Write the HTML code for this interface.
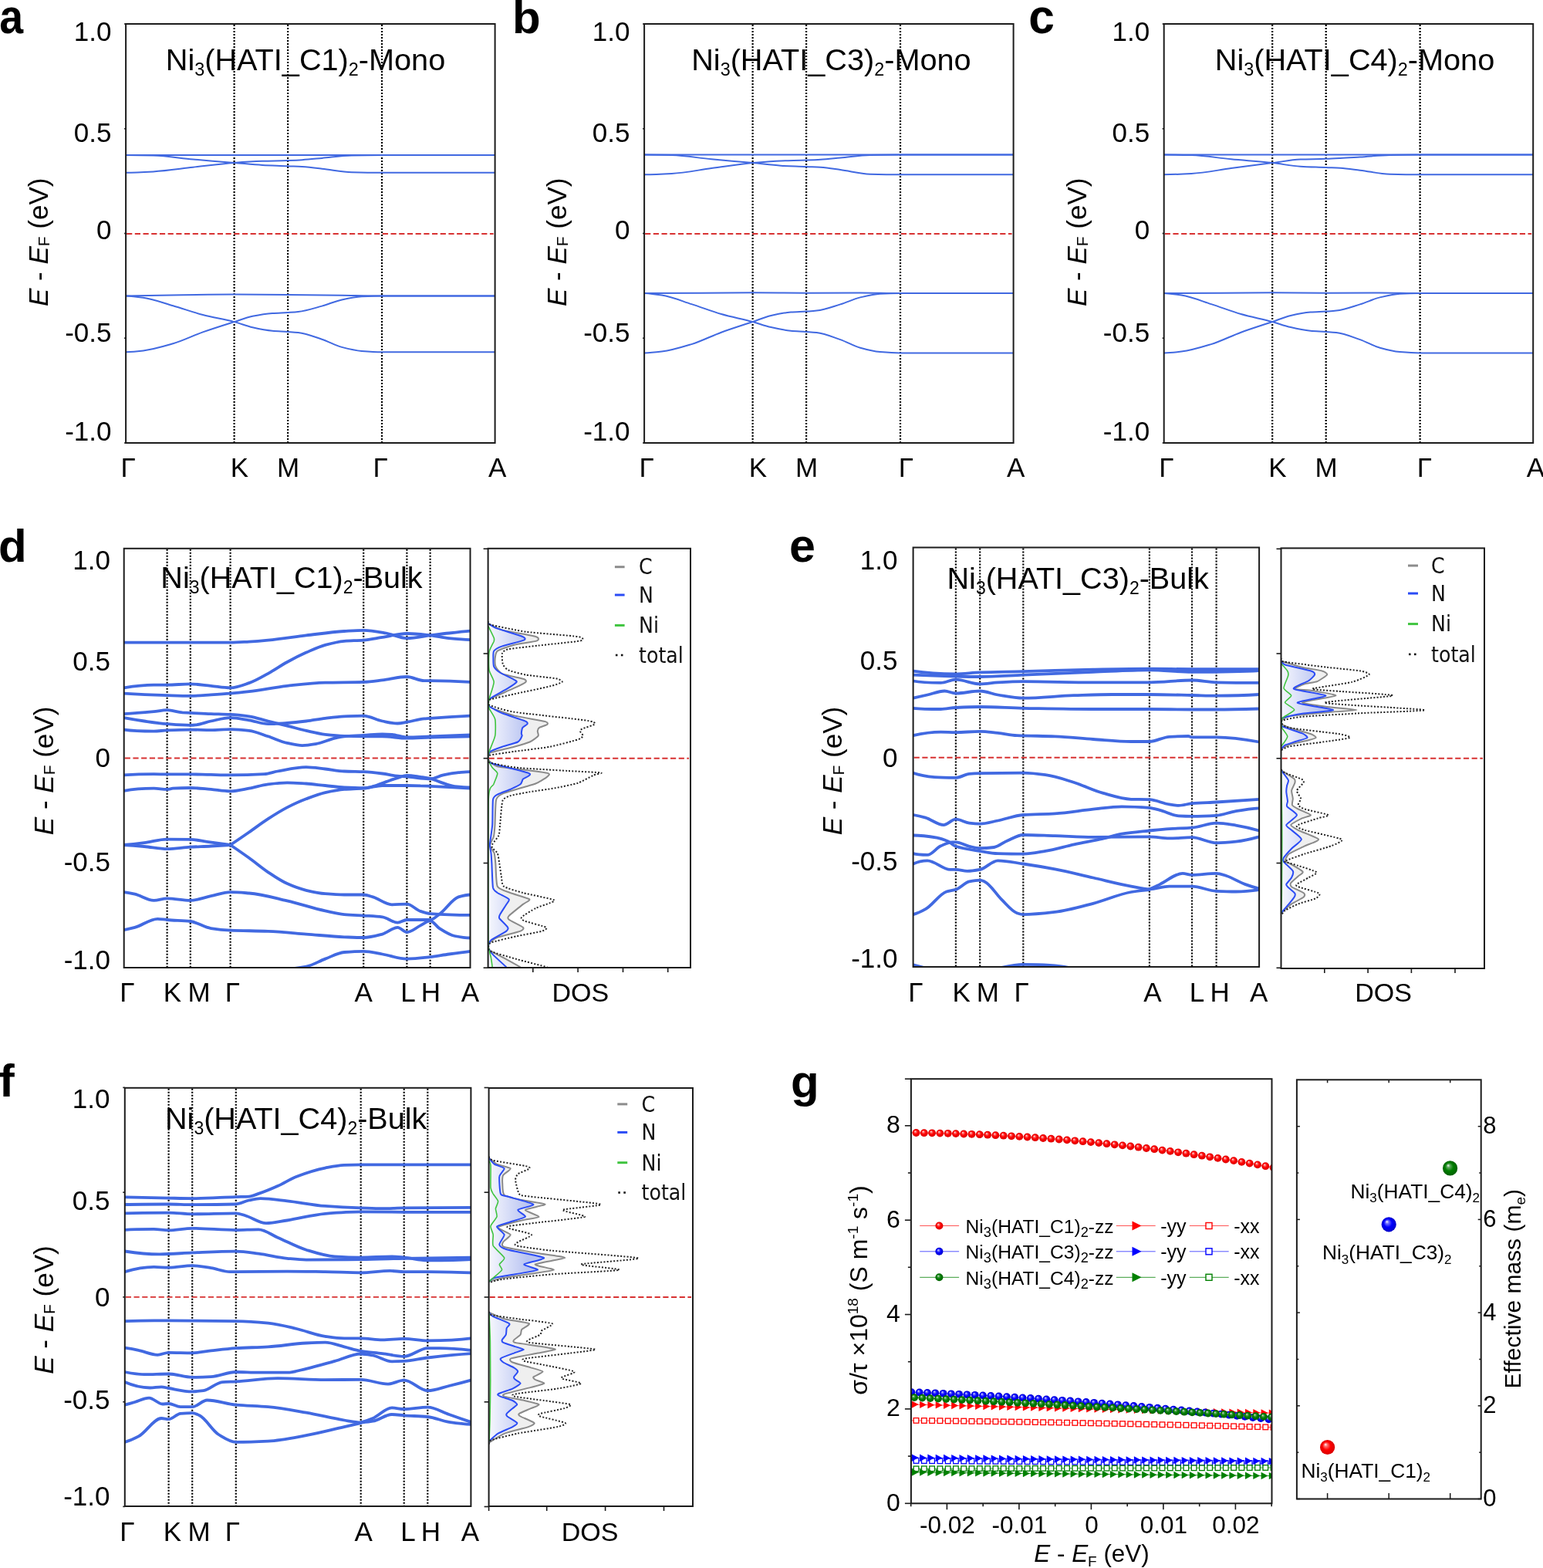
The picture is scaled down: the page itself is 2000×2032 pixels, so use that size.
<!DOCTYPE html>
<html><head><meta charset="utf-8"><style>html,body{margin:0;padding:0;background:#fff;}svg{display:block;}</style></head><body>
<svg width="2000" height="2032" viewBox="0 0 2000 2032">
<rect width="2000" height="2032" fill="#fff"/>
<defs><clipPath id="cpa"><rect x="163.1" y="31.0" width="478.5" height="543.0"/></clipPath></defs>
<line x1="303.6" y1="32.0" x2="303.6" y2="573.0" stroke="#000" stroke-width="2.2" stroke-dasharray="2,2"/>
<line x1="373.1" y1="32.0" x2="373.1" y2="573.0" stroke="#000" stroke-width="2.2" stroke-dasharray="2,2"/>
<line x1="495.0" y1="32.0" x2="495.0" y2="573.0" stroke="#000" stroke-width="2.2" stroke-dasharray="2,2"/>
<line x1="164.1" y1="303.0" x2="639.6" y2="303.0" stroke="#d83232" stroke-width="1.9" stroke-dasharray="7.2,3.5"/>
<g clip-path="url(#cpa)">
<path d="M163.1,201.1 C322.6,201.1 482.1,201.1 641.6,201.1" fill="none" stroke="#4169e1" stroke-width="2.0" stroke-linejoin="round" stroke-linecap="round"/>
<path d="M163.1,201.1 C174.9,201.1 186.8,201.3 198.6,201.6 C215.8,202.0 232.9,205.0 250.1,206.5 C267.9,208.1 285.8,209.4 303.6,210.9 C315.8,211.9 328.0,213.3 340.1,214.0 C351.1,214.6 362.1,214.8 373.1,215.3 C379.3,215.6 385.4,215.7 391.6,216.1 C400.2,216.6 408.8,217.7 417.3,218.7 C430.2,220.0 443.1,222.9 455.9,223.2 C469.0,223.5 482.0,223.7 495.0,223.7 C543.9,223.7 592.7,223.7 641.6,223.7" fill="none" stroke="#4169e1" stroke-width="2.0" stroke-linejoin="round" stroke-linecap="round"/>
<path d="M163.1,223.7 C174.9,223.6 186.8,223.0 198.6,222.4 C215.8,221.5 232.9,218.7 250.1,216.8 C267.9,214.8 285.8,212.2 303.6,210.9 C315.8,210.0 328.0,209.2 340.1,208.8 C351.1,208.4 362.1,208.4 373.1,208.0 C379.3,207.8 385.4,207.6 391.6,207.2 C400.2,206.7 408.8,205.7 417.3,204.9 C430.2,203.7 443.1,201.6 455.9,201.4 C469.0,201.2 482.0,201.1 495.0,201.1 C543.9,201.1 592.7,201.1 641.6,201.1" fill="none" stroke="#4169e1" stroke-width="2.0" stroke-linejoin="round" stroke-linecap="round"/>
<path d="M163.1,383.4 C187.8,382.9 212.5,382.5 237.2,382.2 C259.3,381.9 281.5,381.6 303.6,381.6 C326.8,381.6 349.9,381.9 373.1,382.1 C396.4,382.3 419.7,382.5 443.1,382.8 C460.4,383.0 477.7,383.4 495.0,383.4 C543.9,383.4 592.7,383.4 641.6,383.4" fill="none" stroke="#4169e1" stroke-width="2.0" stroke-linejoin="round" stroke-linecap="round"/>
<path d="M163.1,383.4 C170.6,383.7 178.2,384.7 185.7,385.8 C198.6,387.6 211.5,392.5 224.3,396.2 C237.2,399.9 250.1,404.7 262.9,408.0 C276.5,411.5 290.0,413.6 303.6,417.1 C311.5,419.1 319.4,422.4 327.3,424.2 C335.8,426.1 344.4,427.9 353.0,428.7 C359.7,429.3 366.4,429.5 373.1,430.0 C377.6,430.3 382.0,430.5 386.5,431.0 C396.7,432.1 407.0,436.3 417.3,439.7 C425.9,442.5 434.5,447.7 443.1,449.9 C451.6,452.1 460.2,454.2 468.8,454.9 C477.5,455.6 486.3,456.2 495.0,456.2 C543.9,456.2 592.7,456.2 641.6,456.2" fill="none" stroke="#4169e1" stroke-width="2.0" stroke-linejoin="round" stroke-linecap="round"/>
<path d="M163.1,456.2 C170.6,456.0 178.2,455.3 185.7,454.4 C198.6,452.9 211.5,449.0 224.3,445.3 C237.2,441.5 250.1,434.9 262.9,430.4 C276.5,425.6 290.0,421.4 303.6,417.1 C311.5,414.6 319.4,411.4 327.3,409.8 C335.8,408.1 344.4,406.6 353.0,406.0 C359.7,405.5 366.4,405.4 373.1,405.0 C377.6,404.7 382.0,404.5 386.5,404.0 C396.7,402.9 407.0,399.4 417.3,396.6 C425.9,394.2 434.5,390.2 443.1,388.4 C451.6,386.5 460.2,384.6 468.8,384.2 C477.5,383.8 486.3,383.4 495.0,383.4 C543.9,383.4 592.7,383.4 641.6,383.4" fill="none" stroke="#4169e1" stroke-width="2.0" stroke-linejoin="round" stroke-linecap="round"/>
</g>
<rect x="163.1" y="31.0" width="478.5" height="543.0" fill="none" stroke="#1c1c1c" stroke-width="2.0"/>
<line x1="161.1" y1="31.0" x2="163.1" y2="31.0" stroke="#1a1a1a" stroke-width="1.6"/>
<line x1="161.1" y1="166.8" x2="163.1" y2="166.8" stroke="#1a1a1a" stroke-width="1.6"/>
<line x1="161.1" y1="302.5" x2="163.1" y2="302.5" stroke="#1a1a1a" stroke-width="1.6"/>
<line x1="161.1" y1="438.2" x2="163.1" y2="438.2" stroke="#1a1a1a" stroke-width="1.6"/>
<line x1="161.1" y1="574.0" x2="163.1" y2="574.0" stroke="#1a1a1a" stroke-width="1.6"/>
<text x="144.5" y="53.0" font-size="35.0" text-anchor="end" font-family="'Liberation Sans', Arial, sans-serif" >1.0</text>
<text x="144.5" y="184.0" font-size="35.0" text-anchor="end" font-family="'Liberation Sans', Arial, sans-serif" >0.5</text>
<text x="144.5" y="309.5" font-size="35.0" text-anchor="end" font-family="'Liberation Sans', Arial, sans-serif" >0</text>
<text x="144.5" y="443.2" font-size="35.0" text-anchor="end" font-family="'Liberation Sans', Arial, sans-serif" >-0.5</text>
<text x="144.5" y="571.3" font-size="35.0" text-anchor="end" font-family="'Liberation Sans', Arial, sans-serif" >-1.0</text>
<text x="166.2" y="618.4" font-size="35.0" text-anchor="middle" font-family="'Liberation Sans', Arial, sans-serif" >&#915;</text>
<text x="310.4" y="618.4" font-size="35.0" text-anchor="middle" font-family="'Liberation Sans', Arial, sans-serif" >K</text>
<text x="373.6" y="618.4" font-size="35.0" text-anchor="middle" font-family="'Liberation Sans', Arial, sans-serif" >M</text>
<text x="493.2" y="618.4" font-size="35.0" text-anchor="middle" font-family="'Liberation Sans', Arial, sans-serif" >&#915;</text>
<text x="644.8" y="618.4" font-size="35.0" text-anchor="middle" font-family="'Liberation Sans', Arial, sans-serif" >A</text>
<text x="214.8" y="91" font-size="39.67" font-family="'Liberation Sans', Arial, sans-serif">Ni<tspan font-size="23.4" dy="7.1">3</tspan><tspan dy="-7.1">(HATI_C1)</tspan><tspan font-size="23.4" dy="7.1">2</tspan><tspan dy="-7.1">-Mono</tspan></text>
<text transform="translate(62.0,313.8) rotate(-90)" x="0" y="0" font-size="35.0" text-anchor="middle" font-family="'Liberation Sans', Arial, sans-serif"><tspan font-style="italic">E</tspan> - <tspan font-style="italic">E</tspan><tspan font-size="21.0" dy="2.3">F</tspan><tspan dy="-2.3"> (eV)</tspan></text>
<defs><clipPath id="cpb"><rect x="835.1" y="31.0" width="478.5" height="543.0"/></clipPath></defs>
<line x1="975.6" y1="32.0" x2="975.6" y2="573.0" stroke="#000" stroke-width="2.2" stroke-dasharray="2,2"/>
<line x1="1045.1" y1="32.0" x2="1045.1" y2="573.0" stroke="#000" stroke-width="2.2" stroke-dasharray="2,2"/>
<line x1="1167.0" y1="32.0" x2="1167.0" y2="573.0" stroke="#000" stroke-width="2.2" stroke-dasharray="2,2"/>
<line x1="836.1" y1="303.0" x2="1311.6" y2="303.0" stroke="#d83232" stroke-width="1.9" stroke-dasharray="7.2,3.5"/>
<g clip-path="url(#cpb)">
<path d="M835.1,200.6 C994.6,200.6 1154.1,200.6 1313.6,200.6" fill="none" stroke="#4169e1" stroke-width="2.0" stroke-linejoin="round" stroke-linecap="round"/>
<path d="M835.1,200.6 C846.9,200.6 858.8,200.8 870.6,201.1 C887.8,201.5 904.9,204.7 922.1,206.3 C939.9,208.0 957.8,209.4 975.6,211.1 C987.8,212.2 1000.0,214.0 1012.1,214.7 C1023.1,215.3 1034.1,215.5 1045.1,216.0 C1051.3,216.3 1057.4,216.4 1063.6,216.8 C1072.2,217.3 1080.8,218.9 1089.3,220.1 C1102.2,221.8 1115.1,225.4 1127.9,225.7 C1141.0,226.0 1154.0,226.2 1167.0,226.2 C1215.9,226.2 1264.7,226.2 1313.6,226.2" fill="none" stroke="#4169e1" stroke-width="2.0" stroke-linejoin="round" stroke-linecap="round"/>
<path d="M835.1,226.2 C846.9,226.2 858.8,225.6 870.6,224.9 C887.8,224.0 904.9,220.4 922.1,218.1 C939.9,215.8 957.8,212.8 975.6,211.1 C987.8,210.0 1000.0,208.8 1012.1,208.4 C1023.1,208.0 1034.1,208.0 1045.1,207.6 C1051.3,207.4 1057.4,207.2 1063.6,206.8 C1072.2,206.3 1080.8,205.2 1089.3,204.4 C1102.2,203.3 1115.1,201.1 1127.9,200.9 C1141.0,200.7 1154.0,200.6 1167.0,200.6 C1215.9,200.6 1264.7,200.6 1313.6,200.6" fill="none" stroke="#4169e1" stroke-width="2.0" stroke-linejoin="round" stroke-linecap="round"/>
<path d="M835.1,380.0 C859.8,380.0 884.5,379.9 909.2,379.8 C931.3,379.7 953.5,379.2 975.6,379.2 C998.8,379.2 1021.9,379.7 1045.1,379.7 C1068.4,379.7 1091.7,379.4 1115.1,379.4 C1132.4,379.4 1149.7,380.0 1167.0,380.0 C1215.9,380.0 1264.7,380.0 1313.6,380.0" fill="none" stroke="#4169e1" stroke-width="2.0" stroke-linejoin="round" stroke-linecap="round"/>
<path d="M835.1,380.0 C842.6,380.4 850.2,381.4 857.7,382.6 C870.6,384.6 883.5,390.0 896.3,394.1 C909.2,398.1 922.1,403.4 934.9,407.0 C948.5,410.9 962.0,413.3 975.6,417.0 C983.5,419.2 991.4,422.4 999.3,424.1 C1007.8,426.1 1016.4,427.9 1025.0,428.7 C1031.7,429.3 1038.4,429.5 1045.1,430.0 C1049.6,430.3 1054.0,430.5 1058.5,431.0 C1068.7,432.1 1079.0,436.6 1089.3,440.1 C1097.9,443.1 1106.5,448.5 1115.1,450.8 C1123.6,453.2 1132.2,455.4 1140.8,456.1 C1149.5,456.8 1158.3,457.4 1167.0,457.4 C1215.9,457.4 1264.7,457.4 1313.6,457.4" fill="none" stroke="#4169e1" stroke-width="2.0" stroke-linejoin="round" stroke-linecap="round"/>
<path d="M835.1,457.4 C842.6,457.3 850.2,456.5 857.7,455.6 C870.6,454.1 883.5,450.0 896.3,446.1 C909.2,442.2 922.1,435.4 934.9,430.7 C948.5,425.8 962.0,421.6 975.6,417.0 C983.5,414.3 991.4,410.8 999.3,409.0 C1007.8,407.0 1016.4,405.2 1025.0,404.6 C1031.7,404.1 1038.4,404.0 1045.1,403.6 C1049.6,403.3 1054.0,403.1 1058.5,402.6 C1068.7,401.5 1079.0,397.5 1089.3,394.4 C1097.9,391.8 1106.5,387.5 1115.1,385.4 C1123.6,383.4 1132.2,381.2 1140.8,380.8 C1149.5,380.3 1158.3,380.0 1167.0,380.0 C1215.9,380.0 1264.7,380.0 1313.6,380.0" fill="none" stroke="#4169e1" stroke-width="2.0" stroke-linejoin="round" stroke-linecap="round"/>
</g>
<rect x="835.1" y="31.0" width="478.5" height="543.0" fill="none" stroke="#1c1c1c" stroke-width="2.0"/>
<line x1="833.1" y1="31.0" x2="835.1" y2="31.0" stroke="#1a1a1a" stroke-width="1.6"/>
<line x1="833.1" y1="166.8" x2="835.1" y2="166.8" stroke="#1a1a1a" stroke-width="1.6"/>
<line x1="833.1" y1="302.5" x2="835.1" y2="302.5" stroke="#1a1a1a" stroke-width="1.6"/>
<line x1="833.1" y1="438.2" x2="835.1" y2="438.2" stroke="#1a1a1a" stroke-width="1.6"/>
<line x1="833.1" y1="574.0" x2="835.1" y2="574.0" stroke="#1a1a1a" stroke-width="1.6"/>
<text x="816.5" y="53.0" font-size="35.0" text-anchor="end" font-family="'Liberation Sans', Arial, sans-serif" >1.0</text>
<text x="816.5" y="184.0" font-size="35.0" text-anchor="end" font-family="'Liberation Sans', Arial, sans-serif" >0.5</text>
<text x="816.5" y="309.5" font-size="35.0" text-anchor="end" font-family="'Liberation Sans', Arial, sans-serif" >0</text>
<text x="816.5" y="443.2" font-size="35.0" text-anchor="end" font-family="'Liberation Sans', Arial, sans-serif" >-0.5</text>
<text x="816.5" y="571.3" font-size="35.0" text-anchor="end" font-family="'Liberation Sans', Arial, sans-serif" >-1.0</text>
<text x="838.2" y="618.4" font-size="35.0" text-anchor="middle" font-family="'Liberation Sans', Arial, sans-serif" >&#915;</text>
<text x="982.4" y="618.4" font-size="35.0" text-anchor="middle" font-family="'Liberation Sans', Arial, sans-serif" >K</text>
<text x="1045.6" y="618.4" font-size="35.0" text-anchor="middle" font-family="'Liberation Sans', Arial, sans-serif" >M</text>
<text x="1174.4" y="618.4" font-size="35.0" text-anchor="middle" font-family="'Liberation Sans', Arial, sans-serif" >&#915;</text>
<text x="1316.8" y="618.4" font-size="35.0" text-anchor="middle" font-family="'Liberation Sans', Arial, sans-serif" >A</text>
<text x="896.2" y="91" font-size="39.67" font-family="'Liberation Sans', Arial, sans-serif">Ni<tspan font-size="23.4" dy="7.1">3</tspan><tspan dy="-7.1">(HATI_C3)</tspan><tspan font-size="23.4" dy="7.1">2</tspan><tspan dy="-7.1">-Mono</tspan></text>
<text transform="translate(734.0,313.8) rotate(-90)" x="0" y="0" font-size="35.0" text-anchor="middle" font-family="'Liberation Sans', Arial, sans-serif"><tspan font-style="italic">E</tspan> - <tspan font-style="italic">E</tspan><tspan font-size="21.0" dy="2.3">F</tspan><tspan dy="-2.3"> (eV)</tspan></text>
<defs><clipPath id="cpc"><rect x="1508.7" y="31.0" width="478.5" height="543.0"/></clipPath></defs>
<line x1="1649.2" y1="32.0" x2="1649.2" y2="573.0" stroke="#000" stroke-width="2.2" stroke-dasharray="2,2"/>
<line x1="1718.7" y1="32.0" x2="1718.7" y2="573.0" stroke="#000" stroke-width="2.2" stroke-dasharray="2,2"/>
<line x1="1840.6" y1="32.0" x2="1840.6" y2="573.0" stroke="#000" stroke-width="2.2" stroke-dasharray="2,2"/>
<line x1="1509.7" y1="303.0" x2="1985.2" y2="303.0" stroke="#d83232" stroke-width="1.9" stroke-dasharray="7.2,3.5"/>
<g clip-path="url(#cpc)">
<path d="M1508.7,200.6 C1668.2,200.6 1827.7,200.6 1987.2,200.6" fill="none" stroke="#4169e1" stroke-width="2.0" stroke-linejoin="round" stroke-linecap="round"/>
<path d="M1508.7,200.6 C1520.5,200.6 1532.4,200.8 1544.2,201.1 C1561.4,201.5 1578.5,204.7 1595.7,206.3 C1613.5,208.0 1631.4,209.2 1649.2,211.1 C1661.4,212.4 1673.6,215.0 1685.7,215.7 C1696.7,216.4 1707.7,216.5 1718.7,217.0 C1724.9,217.3 1731.0,217.4 1737.2,217.8 C1745.8,218.3 1754.4,219.7 1762.9,220.7 C1775.8,222.2 1788.7,225.4 1801.5,225.7 C1814.6,226.0 1827.6,226.2 1840.6,226.2 C1889.5,226.2 1938.3,226.2 1987.2,226.2" fill="none" stroke="#4169e1" stroke-width="2.0" stroke-linejoin="round" stroke-linecap="round"/>
<path d="M1508.7,226.2 C1520.5,226.2 1532.4,225.6 1544.2,224.9 C1561.4,224.0 1578.5,220.4 1595.7,218.1 C1613.5,215.8 1631.4,213.4 1649.2,211.1 C1661.4,209.6 1673.6,207.1 1685.7,206.6 C1696.7,206.2 1707.7,206.2 1718.7,205.8 C1724.9,205.6 1731.0,205.3 1737.2,205.0 C1745.8,204.6 1754.4,204.0 1762.9,203.5 C1775.8,202.7 1788.7,201.1 1801.5,200.9 C1814.6,200.7 1827.6,200.6 1840.6,200.6 C1889.5,200.6 1938.3,200.6 1987.2,200.6" fill="none" stroke="#4169e1" stroke-width="2.0" stroke-linejoin="round" stroke-linecap="round"/>
<path d="M1508.7,380.0 C1533.4,380.0 1558.1,379.9 1582.8,379.8 C1604.9,379.7 1627.1,379.2 1649.2,379.2 C1672.4,379.2 1695.5,379.7 1718.7,379.7 C1742.0,379.7 1765.3,379.4 1788.7,379.4 C1806.0,379.4 1823.3,380.0 1840.6,380.0 C1889.5,380.0 1938.3,380.0 1987.2,380.0" fill="none" stroke="#4169e1" stroke-width="2.0" stroke-linejoin="round" stroke-linecap="round"/>
<path d="M1508.7,380.0 C1516.2,380.4 1523.8,381.4 1531.3,382.6 C1544.2,384.6 1557.1,390.0 1569.9,394.1 C1582.8,398.1 1595.7,403.4 1608.5,407.0 C1622.1,410.9 1635.6,413.3 1649.2,417.0 C1657.1,419.2 1665.0,422.4 1672.9,424.1 C1681.4,426.1 1690.0,427.9 1698.6,428.7 C1705.3,429.3 1712.0,429.5 1718.7,430.0 C1723.2,430.3 1727.6,430.5 1732.1,431.0 C1742.3,432.1 1752.6,436.6 1762.9,440.1 C1771.5,443.1 1780.1,448.5 1788.7,450.8 C1797.2,453.2 1805.8,455.4 1814.4,456.1 C1823.1,456.8 1831.9,457.4 1840.6,457.4 C1889.5,457.4 1938.3,457.4 1987.2,457.4" fill="none" stroke="#4169e1" stroke-width="2.0" stroke-linejoin="round" stroke-linecap="round"/>
<path d="M1508.7,457.4 C1516.2,457.3 1523.8,456.5 1531.3,455.6 C1544.2,454.1 1557.1,450.0 1569.9,446.1 C1582.8,442.2 1595.7,435.4 1608.5,430.7 C1622.1,425.8 1635.6,421.6 1649.2,417.0 C1657.1,414.3 1665.0,410.8 1672.9,409.0 C1681.4,407.0 1690.0,405.2 1698.6,404.6 C1705.3,404.1 1712.0,404.0 1718.7,403.6 C1723.2,403.3 1727.6,403.1 1732.1,402.6 C1742.3,401.5 1752.6,397.5 1762.9,394.4 C1771.5,391.8 1780.1,387.5 1788.7,385.4 C1797.2,383.4 1805.8,381.2 1814.4,380.8 C1823.1,380.3 1831.9,380.0 1840.6,380.0 C1889.5,380.0 1938.3,380.0 1987.2,380.0" fill="none" stroke="#4169e1" stroke-width="2.0" stroke-linejoin="round" stroke-linecap="round"/>
</g>
<rect x="1508.7" y="31.0" width="478.5" height="543.0" fill="none" stroke="#1c1c1c" stroke-width="2.0"/>
<line x1="1506.7" y1="31.0" x2="1508.7" y2="31.0" stroke="#1a1a1a" stroke-width="1.6"/>
<line x1="1506.7" y1="166.8" x2="1508.7" y2="166.8" stroke="#1a1a1a" stroke-width="1.6"/>
<line x1="1506.7" y1="302.5" x2="1508.7" y2="302.5" stroke="#1a1a1a" stroke-width="1.6"/>
<line x1="1506.7" y1="438.2" x2="1508.7" y2="438.2" stroke="#1a1a1a" stroke-width="1.6"/>
<line x1="1506.7" y1="574.0" x2="1508.7" y2="574.0" stroke="#1a1a1a" stroke-width="1.6"/>
<text x="1490.1" y="53.0" font-size="35.0" text-anchor="end" font-family="'Liberation Sans', Arial, sans-serif" >1.0</text>
<text x="1490.1" y="184.0" font-size="35.0" text-anchor="end" font-family="'Liberation Sans', Arial, sans-serif" >0.5</text>
<text x="1490.1" y="309.5" font-size="35.0" text-anchor="end" font-family="'Liberation Sans', Arial, sans-serif" >0</text>
<text x="1490.1" y="443.2" font-size="35.0" text-anchor="end" font-family="'Liberation Sans', Arial, sans-serif" >-0.5</text>
<text x="1490.1" y="571.3" font-size="35.0" text-anchor="end" font-family="'Liberation Sans', Arial, sans-serif" >-1.0</text>
<text x="1511.8" y="618.4" font-size="35.0" text-anchor="middle" font-family="'Liberation Sans', Arial, sans-serif" >&#915;</text>
<text x="1656.0" y="618.4" font-size="35.0" text-anchor="middle" font-family="'Liberation Sans', Arial, sans-serif" >K</text>
<text x="1719.2" y="618.4" font-size="35.0" text-anchor="middle" font-family="'Liberation Sans', Arial, sans-serif" >M</text>
<text x="1846.5" y="618.4" font-size="35.0" text-anchor="middle" font-family="'Liberation Sans', Arial, sans-serif" >&#915;</text>
<text x="1990.4" y="618.4" font-size="35.0" text-anchor="middle" font-family="'Liberation Sans', Arial, sans-serif" >A</text>
<text x="1574.8" y="91" font-size="39.67" font-family="'Liberation Sans', Arial, sans-serif">Ni<tspan font-size="23.4" dy="7.1">3</tspan><tspan dy="-7.1">(HATI_C4)</tspan><tspan font-size="23.4" dy="7.1">2</tspan><tspan dy="-7.1">-Mono</tspan></text>
<text transform="translate(1407.6,313.8) rotate(-90)" x="0" y="0" font-size="35.0" text-anchor="middle" font-family="'Liberation Sans', Arial, sans-serif"><tspan font-style="italic">E</tspan> - <tspan font-style="italic">E</tspan><tspan font-size="21.0" dy="2.3">F</tspan><tspan dy="-2.3"> (eV)</tspan></text>
<defs><clipPath id="cpd"><rect x="160.7" y="710.8" width="448.8" height="543.2"/></clipPath></defs>
<line x1="216.6" y1="711.8" x2="216.6" y2="1253.0" stroke="#000" stroke-width="2.2" stroke-dasharray="2,2"/>
<line x1="246.8" y1="711.8" x2="246.8" y2="1253.0" stroke="#000" stroke-width="2.2" stroke-dasharray="2,2"/>
<line x1="298.6" y1="711.8" x2="298.6" y2="1253.0" stroke="#000" stroke-width="2.2" stroke-dasharray="2,2"/>
<line x1="471.2" y1="711.8" x2="471.2" y2="1253.0" stroke="#000" stroke-width="2.2" stroke-dasharray="2,2"/>
<line x1="527.4" y1="711.8" x2="527.4" y2="1253.0" stroke="#000" stroke-width="2.2" stroke-dasharray="2,2"/>
<line x1="557.6" y1="711.8" x2="557.6" y2="1253.0" stroke="#000" stroke-width="2.2" stroke-dasharray="2,2"/>
<line x1="161.7" y1="982.5" x2="607.5" y2="982.5" stroke="#d83232" stroke-width="1.9" stroke-dasharray="7.2,3.5"/>
<g clip-path="url(#cpd)">
<path d="M160.6,832.6 C181.8,832.6 202.9,832.6 224.1,832.6 C248.9,832.6 273.8,832.6 298.6,832.6 C306.7,832.6 314.7,832.0 322.8,831.6 C331.0,831.1 339.3,830.4 347.5,829.6 C363.9,828.0 380.4,825.4 396.9,823.4 C413.3,821.5 429.8,819.1 446.2,818.0 C454.5,817.5 462.8,816.8 471.2,816.8 C480.9,816.8 490.7,818.8 500.5,820.5 C509.5,822.0 518.5,827.1 527.4,827.1 C537.5,827.1 547.5,824.7 557.6,823.4 C565.7,822.4 573.8,821.3 582.0,820.5 C591.2,819.5 600.4,818.5 609.6,817.7" fill="none" stroke="#4169e1" stroke-width="3.8" stroke-linejoin="round" stroke-linecap="round"/>
<path d="M160.6,891.3 C173.5,889.2 186.5,887.6 199.4,887.6 C205.1,887.6 210.9,887.6 216.7,887.6 C226.7,887.6 236.7,886.4 246.8,886.4 C255.7,886.4 264.5,888.0 273.4,888.8 C281.8,889.6 290.2,891.3 298.6,891.3 C306.7,891.3 314.7,887.9 322.8,885.1 C331.0,882.4 339.3,877.3 347.5,872.8 C355.7,868.3 363.9,862.5 372.2,858.0 C380.4,853.5 388.6,849.3 396.9,845.6 C405.1,842.0 413.3,838.0 421.5,835.8 C429.8,833.6 438.0,831.5 446.2,830.8 C454.5,830.2 462.8,830.2 471.2,829.6 C479.3,829.0 487.4,827.1 495.6,825.9 C506.2,824.3 516.8,821.0 527.4,821.0 C537.5,821.0 547.5,822.3 557.6,823.4 C565.7,824.3 573.8,826.3 582.0,827.1 C591.2,828.0 600.4,828.8 609.6,829.1" fill="none" stroke="#4169e1" stroke-width="3.8" stroke-linejoin="round" stroke-linecap="round"/>
<path d="M160.6,898.7 C179.3,899.8 198.0,900.6 216.7,901.2 C226.7,901.5 236.7,901.9 246.8,901.9 C255.7,901.9 264.5,901.0 273.4,900.4 C281.8,899.9 290.2,899.4 298.6,898.7 C306.7,898.1 314.7,897.2 322.8,896.2 C339.3,894.3 355.7,890.6 372.2,888.8 C388.6,887.1 405.1,885.1 421.5,884.6 C438.1,884.2 454.6,884.4 471.2,883.9 C479.3,883.7 487.4,882.4 495.6,881.4 C506.2,880.2 516.8,877.0 527.4,877.0 C534.9,877.0 542.4,882.2 549.9,882.2 C552.5,882.2 555.0,882.2 557.6,882.2 C574.9,882.2 592.3,882.8 609.6,883.9" fill="none" stroke="#4169e1" stroke-width="3.8" stroke-linejoin="round" stroke-linecap="round"/>
<path d="M160.6,925.1 C173.5,924.5 186.5,923.4 199.4,922.2 C205.1,921.6 210.9,920.2 216.7,920.2 C223.2,920.2 229.8,922.9 236.4,923.4 C239.9,923.6 243.3,923.7 246.8,923.9 C255.7,924.3 264.5,924.8 273.4,925.1 C281.8,925.4 290.2,925.5 298.6,925.9 C306.7,926.2 314.7,927.2 322.8,928.3 C331.0,929.5 339.3,932.5 347.5,934.5 C355.7,936.6 363.9,938.6 372.2,940.7 C380.4,942.7 388.6,945.0 396.9,946.9 C405.1,948.7 413.3,950.8 421.5,951.8 C429.8,952.7 438.0,953.5 446.2,953.8 C454.5,954.0 462.8,954.3 471.2,954.3 C479.3,954.3 487.4,954.3 495.6,954.3 C506.2,954.3 516.8,956.7 527.4,956.7 C537.5,956.7 547.5,955.8 557.6,955.5 C574.9,955.0 592.3,954.5 609.6,954.3" fill="none" stroke="#4169e1" stroke-width="3.8" stroke-linejoin="round" stroke-linecap="round"/>
<path d="M160.6,930.1 C169.4,931.7 178.2,933.2 187.0,934.5 C196.9,935.9 206.8,937.4 216.7,938.2 C226.7,939.0 236.7,939.9 246.8,939.9 C249.1,939.9 251.4,939.7 253.7,939.4 C260.3,938.8 266.8,935.9 273.4,934.5 C281.8,932.8 290.2,930.1 298.6,930.1 C306.7,930.1 314.7,932.0 322.8,933.3 C331.0,934.6 339.3,938.2 347.5,938.2 C355.7,938.2 363.9,937.5 372.2,937.0 C380.4,936.4 388.6,935.5 396.9,934.5 C405.1,933.5 413.3,931.8 421.5,930.8 C429.8,929.8 438.0,928.7 446.2,928.3 C454.5,928.0 462.8,927.6 471.2,927.6 C479.3,927.6 487.4,932.9 495.6,934.5 C502.2,935.8 508.8,937.5 515.3,937.5 C519.4,937.5 523.4,936.4 527.4,935.7 C534.9,934.5 542.4,932.0 549.9,931.3 C552.5,931.1 555.0,931.0 557.6,930.8 C574.9,929.7 592.3,928.6 609.6,927.6" fill="none" stroke="#4169e1" stroke-width="3.8" stroke-linejoin="round" stroke-linecap="round"/>
<path d="M160.6,945.6 C173.5,947.4 186.5,947.6 199.4,947.6 C205.1,947.6 210.9,946.6 216.7,946.4 C226.7,946.0 236.7,945.6 246.8,945.6 C255.7,945.6 264.5,946.1 273.4,946.1 C281.8,946.1 290.2,945.1 298.6,945.1 C306.7,945.1 314.7,945.9 322.8,946.9 C331.0,947.8 339.3,951.6 347.5,954.3 C355.7,956.9 363.9,961.1 372.2,962.9 C378.8,964.3 385.3,966.1 391.9,966.1 C397.7,966.1 403.4,965.1 409.2,964.1 C417.4,962.8 425.7,958.7 433.9,956.7 C438.0,955.8 442.1,954.6 446.2,954.3 C454.5,953.6 462.8,953.5 471.2,953.0 C479.3,952.5 487.4,951.3 495.6,951.3 C499.7,951.3 503.8,951.5 507.9,951.8 C514.4,952.2 520.9,955.5 527.4,955.5 C537.5,955.5 547.5,954.7 557.6,954.3 C574.9,953.6 592.3,952.9 609.6,952.3" fill="none" stroke="#4169e1" stroke-width="3.8" stroke-linejoin="round" stroke-linecap="round"/>
<path d="M160.6,1004.4 C173.5,1003.6 186.5,1003.2 199.4,1003.2 C205.1,1003.2 210.9,1003.4 216.7,1003.4 C226.7,1003.4 236.7,1003.4 246.8,1003.4 C255.7,1003.4 264.5,1003.8 273.4,1003.9 C281.8,1004.1 290.2,1004.4 298.6,1004.4 C313.3,1004.4 327.9,1004.0 342.5,1003.2 C348.3,1002.9 354.1,1000.5 359.8,999.5 C372.2,997.3 384.5,994.1 396.9,994.1 C405.1,994.1 413.3,995.6 421.5,996.5 C429.8,997.4 438.0,999.1 446.2,999.5 C454.5,999.9 462.8,999.9 471.2,1000.2 C479.3,1000.6 487.4,1001.5 495.6,1002.5 C502.2,1003.2 508.8,1005.1 515.3,1005.7 C519.4,1006.0 523.4,1006.1 527.4,1006.4 C533.3,1006.9 539.1,1008.2 545.0,1008.6 C549.2,1009.0 553.4,1009.4 557.6,1009.4 C563.2,1009.4 568.9,1005.6 574.6,1004.4 C581.2,1003.1 587.8,1001.8 594.3,1001.2 C599.4,1000.8 604.5,1000.3 609.6,1000.2" fill="none" stroke="#4169e1" stroke-width="3.8" stroke-linejoin="round" stroke-linecap="round"/>
<path d="M160.6,1024.9 C173.5,1022.5 186.5,1021.7 199.4,1021.7 C205.1,1021.7 210.9,1022.9 216.7,1022.9 C219.1,1022.9 221.6,1021.9 224.1,1021.7 C231.6,1021.2 239.2,1021.0 246.8,1021.0 C255.7,1021.0 264.5,1022.2 273.4,1022.9 C281.8,1023.7 290.2,1025.4 298.6,1025.4 C306.7,1025.4 314.7,1023.2 322.8,1021.7 C331.0,1020.2 339.3,1017.2 347.5,1016.3 C355.7,1015.3 363.9,1014.3 372.2,1014.3 C380.4,1014.3 388.6,1015.0 396.9,1015.5 C405.1,1016.1 413.3,1017.2 421.5,1018.0 C429.8,1018.8 438.0,1020.1 446.2,1020.5 C454.5,1020.9 462.8,1021.2 471.2,1021.2 C479.3,1021.2 487.4,1018.0 495.6,1018.0 C506.2,1018.0 516.8,1018.0 527.4,1018.0 C533.3,1018.0 539.1,1018.1 545.0,1018.3 C549.2,1018.3 553.4,1018.6 557.6,1018.8 C574.9,1019.5 592.3,1020.5 609.6,1021.7" fill="none" stroke="#4169e1" stroke-width="3.8" stroke-linejoin="round" stroke-linecap="round"/>
<path d="M298.6,1095.0 C306.7,1089.6 314.7,1084.1 322.8,1078.5 C331.0,1072.8 339.3,1066.5 347.5,1061.2 C355.7,1055.9 363.9,1050.6 372.2,1046.4 C380.4,1042.2 388.6,1038.4 396.9,1035.3 C405.1,1032.2 413.3,1029.0 421.5,1027.1 C429.8,1025.3 438.0,1023.6 446.2,1022.9 C454.5,1022.3 462.8,1022.4 471.2,1021.7 C475.2,1021.4 479.2,1020.3 483.3,1019.2 C489.0,1017.8 494.8,1015.1 500.5,1013.1 C505.5,1011.4 510.4,1009.6 515.3,1008.1 C519.4,1006.9 523.4,1004.9 527.4,1004.9 C533.3,1004.9 539.1,1006.1 545.0,1006.9 C549.2,1007.5 553.4,1008.0 557.6,1008.9 C561.6,1009.8 565.6,1011.7 569.6,1013.1 C576.2,1015.2 582.8,1018.6 589.4,1019.2 C596.1,1019.9 602.9,1020.5 609.6,1020.5" fill="none" stroke="#4169e1" stroke-width="3.8" stroke-linejoin="round" stroke-linecap="round"/>
<path d="M160.6,1095.0 C169.4,1094.2 178.2,1093.2 187.0,1092.1 C196.9,1090.8 206.8,1087.6 216.7,1087.6 C226.7,1087.6 236.7,1087.7 246.8,1087.9 C254.0,1088.0 261.2,1089.8 268.5,1090.8 C278.5,1092.2 288.6,1093.6 298.6,1095.0" fill="none" stroke="#4169e1" stroke-width="3.8" stroke-linejoin="round" stroke-linecap="round"/>
<path d="M160.6,1095.0 C169.4,1095.5 178.2,1096.2 187.0,1097.0 C196.9,1097.9 206.8,1100.2 216.7,1100.2 C226.7,1100.2 236.7,1098.3 246.8,1097.7 C255.7,1097.2 264.5,1097.0 273.4,1096.5 C281.8,1096.1 290.2,1095.6 298.6,1095.0" fill="none" stroke="#4169e1" stroke-width="3.8" stroke-linejoin="round" stroke-linecap="round"/>
<path d="M298.6,1095.0 C306.7,1100.4 314.7,1106.0 322.8,1111.8 C331.0,1117.7 339.3,1124.8 347.5,1130.3 C355.7,1135.8 363.9,1141.5 372.2,1145.1 C380.4,1148.8 388.6,1151.8 396.9,1153.8 C405.1,1155.7 413.3,1157.6 421.5,1158.2 C429.8,1158.9 438.0,1159.5 446.2,1159.5 C454.5,1159.5 462.8,1159.5 471.2,1159.5 C475.2,1159.5 479.2,1161.2 483.3,1162.4 C491.5,1164.9 499.7,1172.3 507.9,1172.3 C514.4,1172.3 520.9,1171.6 527.4,1171.6 C533.3,1171.6 539.1,1179.0 545.0,1180.9 C549.2,1182.4 553.4,1183.9 557.6,1184.1 C574.9,1185.4 592.3,1185.9 609.6,1185.9" fill="none" stroke="#4169e1" stroke-width="3.8" stroke-linejoin="round" stroke-linecap="round"/>
<path d="M160.6,1156.2 C165.3,1156.8 170.0,1157.7 174.7,1158.7 C182.9,1160.6 191.1,1166.9 199.4,1166.9 C205.1,1166.9 210.9,1164.4 216.7,1164.4 C226.7,1164.4 236.7,1166.9 246.8,1166.9 C255.7,1166.9 264.5,1163.0 273.4,1161.2 C281.8,1159.5 290.2,1156.2 298.6,1156.2 C306.7,1156.2 314.7,1156.9 322.8,1157.5 C339.3,1158.7 355.7,1163.6 372.2,1167.4 C388.6,1171.1 405.1,1176.9 421.5,1180.4 C429.8,1182.2 438.0,1184.4 446.2,1185.1 C454.5,1185.9 462.8,1186.1 471.2,1186.6 C479.3,1187.1 487.4,1187.3 495.6,1188.3 C502.2,1189.1 508.8,1195.7 515.3,1195.7 C519.4,1195.7 523.4,1192.0 527.4,1192.0 C537.5,1192.0 547.5,1192.0 557.6,1192.0 C561.6,1192.0 565.6,1187.5 569.6,1184.6 C577.9,1178.8 586.1,1164.9 594.3,1162.4 C599.4,1160.9 604.5,1159.5 609.6,1159.5" fill="none" stroke="#4169e1" stroke-width="3.8" stroke-linejoin="round" stroke-linecap="round"/>
<path d="M160.6,1205.1 C165.3,1204.3 170.0,1203.2 174.7,1201.9 C184.6,1199.2 194.4,1190.8 204.3,1190.8 C208.4,1190.8 212.5,1191.7 216.7,1192.0 C226.7,1192.9 236.7,1192.9 246.8,1194.0 C255.7,1195.0 264.5,1201.8 273.4,1203.1 C281.8,1204.4 290.2,1205.3 298.6,1205.6 C314.9,1206.3 331.2,1206.2 347.5,1206.9 C363.9,1207.5 380.4,1209.3 396.9,1210.6 C413.3,1211.8 429.8,1213.6 446.2,1214.3 C454.5,1214.6 462.8,1215.0 471.2,1215.0 C479.3,1215.0 487.4,1212.7 495.6,1210.6 C502.2,1208.8 508.8,1201.9 515.3,1201.9 C519.4,1201.9 523.4,1208.1 527.4,1208.1 C533.3,1208.1 539.1,1202.3 545.0,1199.4 C549.2,1197.4 553.4,1193.3 557.6,1193.3 C561.6,1193.3 565.6,1200.6 569.6,1203.1 C576.2,1207.3 582.8,1211.7 589.4,1213.0 C596.1,1214.4 602.9,1215.5 609.6,1215.5" fill="none" stroke="#4169e1" stroke-width="3.8" stroke-linejoin="round" stroke-linecap="round"/>
<path d="M359.8,1256.2 C372.2,1256.2 384.5,1254.6 396.9,1252.5 C405.1,1251.1 413.3,1245.7 421.5,1242.6 C429.8,1239.6 438.0,1234.7 446.2,1234.0 C454.5,1233.3 462.8,1232.8 471.2,1232.8 C479.3,1232.8 487.4,1235.1 495.6,1236.5 C506.2,1238.3 516.8,1242.6 527.4,1242.6 C537.5,1242.6 547.5,1241.3 557.6,1240.2 C565.7,1239.3 573.8,1237.6 582.0,1236.5 C591.2,1235.2 600.4,1233.9 609.6,1232.8" fill="none" stroke="#4169e1" stroke-width="3.8" stroke-linejoin="round" stroke-linecap="round"/>
</g>
<rect x="160.7" y="710.8" width="448.8" height="543.2" fill="none" stroke="#1c1c1c" stroke-width="2.0"/>
<text x="143.0" y="738.0" font-size="35.0" text-anchor="end" font-family="'Liberation Sans', Arial, sans-serif" >1.0</text>
<text x="143.0" y="869.3" font-size="35.0" text-anchor="end" font-family="'Liberation Sans', Arial, sans-serif" >0.5</text>
<text x="143.0" y="994.4" font-size="35.0" text-anchor="end" font-family="'Liberation Sans', Arial, sans-serif" >0</text>
<text x="143.0" y="1129.2" font-size="35.0" text-anchor="end" font-family="'Liberation Sans', Arial, sans-serif" >-0.5</text>
<text x="143.0" y="1255.9" font-size="35.0" text-anchor="end" font-family="'Liberation Sans', Arial, sans-serif" >-1.0</text>
<text x="165.0" y="1297.5" font-size="35.0" text-anchor="middle" font-family="'Liberation Sans', Arial, sans-serif" >&#915;</text>
<text x="223.5" y="1297.5" font-size="35.0" text-anchor="middle" font-family="'Liberation Sans', Arial, sans-serif" >K</text>
<text x="258.2" y="1297.5" font-size="35.0" text-anchor="middle" font-family="'Liberation Sans', Arial, sans-serif" >M</text>
<text x="301.5" y="1297.5" font-size="35.0" text-anchor="middle" font-family="'Liberation Sans', Arial, sans-serif" >&#915;</text>
<text x="471.3" y="1297.5" font-size="35.0" text-anchor="middle" font-family="'Liberation Sans', Arial, sans-serif" >A</text>
<text x="528.9" y="1297.5" font-size="35.0" text-anchor="middle" font-family="'Liberation Sans', Arial, sans-serif" >L</text>
<text x="558.5" y="1297.5" font-size="35.0" text-anchor="middle" font-family="'Liberation Sans', Arial, sans-serif" >H</text>
<text x="609.4" y="1297.5" font-size="35.0" text-anchor="middle" font-family="'Liberation Sans', Arial, sans-serif" >A</text>
<text x="208.3" y="761.8" font-size="39.6" font-family="'Liberation Sans', Arial, sans-serif">Ni<tspan font-size="23.0" dy="7.1">3</tspan><tspan dy="-7.1">(HATI_C1)</tspan><tspan font-size="23.0" dy="7.1">2</tspan><tspan dy="-7.1">-Bulk</tspan></text>
<text transform="translate(69.0,998.9) rotate(-90)" x="0" y="0" font-size="35.0" text-anchor="middle" font-family="'Liberation Sans', Arial, sans-serif"><tspan font-style="italic">E</tspan> - <tspan font-style="italic">E</tspan><tspan font-size="21.0" dy="2.3">F</tspan><tspan dy="-2.3"> (eV)</tspan></text>
<defs><clipPath id="cpdd"><rect x="632.6" y="710.8" width="262.4" height="543.2"/></clipPath>
<linearGradient id="gNd" gradientUnits="userSpaceOnUse" x1="632.6" y1="0" x2="682.6" y2="0"><stop offset="0" stop-color="#f6f7fd"/><stop offset="1" stop-color="#b9c4f2"/></linearGradient>
<linearGradient id="gGd" gradientUnits="userSpaceOnUse" x1="632.6" y1="0" x2="642.6" y2="0"><stop offset="0" stop-color="#f2f7f2"/><stop offset="1" stop-color="#dcefdc"/></linearGradient></defs>
<line x1="633.6" y1="982.7" x2="893.0" y2="982.7" stroke="#d83232" stroke-width="1.9" stroke-dasharray="7.2,3.5"/>
<g clip-path="url(#cpdd)">
<path d="M632.7,807.9 C634.6,808.8 644.9,814.7 651.0,816.4 C657.2,818.1 690.0,823.6 694.5,825.0 C699.0,826.4 698.8,829.3 696.0,830.4 C693.2,831.5 671.7,834.5 666.5,835.8 C661.4,837.1 647.3,841.9 644.8,843.6 C642.3,845.3 642.0,850.9 641.7,852.9 C641.5,854.9 641.6,861.7 642.5,863.8 C643.4,865.8 647.4,871.4 651.0,873.1 C654.7,874.7 675.9,879.0 679.0,880.0 C682.0,881.1 682.5,882.8 681.3,883.9 C680.0,885.1 670.8,889.7 666.5,891.7 C662.3,893.7 642.0,902.4 638.6,904.1 C635.3,905.8 633.5,907.5 633.2,908.7 C632.9,910.0 632.2,914.6 635.5,916.5 C638.8,918.4 659.4,925.5 666.5,927.4 C673.7,929.2 702.6,933.9 706.9,935.1 C711.1,936.3 710.0,938.2 709.2,939.0 C708.4,939.8 700.4,942.0 699.1,942.9 C697.9,943.7 696.9,946.4 696.8,947.5 C696.6,948.6 698.6,952.3 697.6,953.7 C696.6,955.1 689.8,960.1 686.7,961.5 C683.6,962.9 671.7,966.3 666.5,967.7 C661.4,969.1 638.9,974.2 635.5,975.4 C632.1,976.7 633.0,979.6 632.7,980.1 L632.6,980.1 L632.6,807.9 Z" fill="#efefef" stroke="none"/>
<path d="M632.7,807.9 C633.8,808.5 638.8,812.4 643.3,814.1 C647.7,815.8 673.8,823.4 677.4,825.0 C681.0,826.5 681.6,828.4 679.0,829.6 C676.3,830.9 654.9,836.0 651.0,837.4 C647.1,838.8 641.3,842.0 640.2,843.6 C639.0,845.1 639.4,850.9 639.4,852.9 C639.4,854.9 639.3,861.9 640.2,863.8 C641.0,865.6 645.3,869.8 647.9,871.5 C650.6,873.2 664.4,879.6 666.5,880.8 C668.7,882.1 670.4,882.8 669.6,883.9 C668.9,885.0 662.0,889.7 658.8,891.7 C655.5,893.7 639.6,902.5 637.1,904.1 C634.5,905.6 633.5,906.1 633.2,907.2 C632.9,908.3 632.2,913.2 634.0,914.9 C635.7,916.7 646.4,922.3 651.0,924.3 C655.7,926.2 677.2,932.9 680.5,934.3 C683.8,935.7 683.9,937.4 683.6,938.2 C683.3,939.1 678.2,941.6 677.4,942.9 C676.6,944.1 675.9,949.5 675.8,950.6 C675.8,951.7 677.1,952.6 676.6,953.7 C676.2,954.8 673.8,960.1 671.2,961.5 C668.6,962.9 654.6,966.5 651.0,967.7 C647.5,968.9 637.3,972.7 635.5,973.9 C633.7,975.1 633.0,979.5 632.7,980.1 L632.6,980.1 L632.6,807.9 Z" fill="url(#gNd)" stroke="none"/>
<path d="M632.7,807.9 C634.6,808.8 644.9,814.7 651.0,816.4 C657.2,818.1 690.0,823.6 694.5,825.0 C699.0,826.4 698.8,829.3 696.0,830.4 C693.2,831.5 671.7,834.5 666.5,835.8 C661.4,837.1 647.3,841.9 644.8,843.6 C642.3,845.3 642.0,850.9 641.7,852.9 C641.5,854.9 641.6,861.7 642.5,863.8 C643.4,865.8 647.4,871.4 651.0,873.1 C654.7,874.7 675.9,879.0 679.0,880.0 C682.0,881.1 682.5,882.8 681.3,883.9 C680.0,885.1 670.8,889.7 666.5,891.7 C662.3,893.7 642.0,902.4 638.6,904.1 C635.3,905.8 633.5,907.5 633.2,908.7 C632.9,910.0 632.2,914.6 635.5,916.5 C638.8,918.4 659.4,925.5 666.5,927.4 C673.7,929.2 702.6,933.9 706.9,935.1 C711.1,936.3 710.0,938.2 709.2,939.0 C708.4,939.8 700.4,942.0 699.1,942.9 C697.9,943.7 696.9,946.4 696.8,947.5 C696.6,948.6 698.6,952.3 697.6,953.7 C696.6,955.1 689.8,960.1 686.7,961.5 C683.6,962.9 671.7,966.3 666.5,967.7 C661.4,969.1 638.9,974.2 635.5,975.4 C632.1,976.7 633.0,979.6 632.7,980.1" fill="none" stroke="#8a8a8a" stroke-width="2"/>
<path d="M632.7,807.9 C633.8,808.5 638.8,812.4 643.3,814.1 C647.7,815.8 673.8,823.4 677.4,825.0 C681.0,826.5 681.6,828.4 679.0,829.6 C676.3,830.9 654.9,836.0 651.0,837.4 C647.1,838.8 641.3,842.0 640.2,843.6 C639.0,845.1 639.4,850.9 639.4,852.9 C639.4,854.9 639.3,861.9 640.2,863.8 C641.0,865.6 645.3,869.8 647.9,871.5 C650.6,873.2 664.4,879.6 666.5,880.8 C668.7,882.1 670.4,882.8 669.6,883.9 C668.9,885.0 662.0,889.7 658.8,891.7 C655.5,893.7 639.6,902.5 637.1,904.1 C634.5,905.6 633.5,906.1 633.2,907.2 C632.9,908.3 632.2,913.2 634.0,914.9 C635.7,916.7 646.4,922.3 651.0,924.3 C655.7,926.2 677.2,932.9 680.5,934.3 C683.8,935.7 683.9,937.4 683.6,938.2 C683.3,939.1 678.2,941.6 677.4,942.9 C676.6,944.1 675.9,949.5 675.8,950.6 C675.8,951.7 677.1,952.6 676.6,953.7 C676.2,954.8 673.8,960.1 671.2,961.5 C668.6,962.9 654.6,966.5 651.0,967.7 C647.5,968.9 637.3,972.7 635.5,973.9 C633.7,975.1 633.0,979.5 632.7,980.1" fill="none" stroke="#2b4cf5" stroke-width="2"/>
<path d="M632.7,811.0 C633.5,812.6 639.4,824.5 640.2,826.5 C640.9,828.5 640.8,829.3 640.2,831.2 C639.5,833.0 634.6,841.4 634.0,845.1 C633.3,848.9 633.3,864.5 634.0,868.4 C634.6,872.3 640.2,880.2 640.2,883.9 C640.2,887.6 634.7,903.0 634.0,905.6 C633.3,908.3 633.2,909.1 633.2,910.3 C633.2,911.5 633.1,915.9 634.0,918.0 C634.8,920.2 640.9,928.4 641.7,932.0 C642.5,935.6 642.5,949.5 641.7,953.7 C640.9,957.9 634.9,971.3 634.0,973.9 C633.1,976.5 632.8,979.5 632.7,980.1" fill="none" stroke="#3fc43f" stroke-width="1.6"/>
<path d="M632.7,805.6 C633.0,806.0 630.6,808.1 635.5,809.5 C640.4,810.8 670.7,817.2 682.1,818.8 C693.4,820.3 741.7,823.8 748.8,825.0 C755.8,826.1 757.8,829.2 752.6,830.4 C747.5,831.6 707.0,835.5 697.6,836.6 C688.2,837.7 663.4,840.2 658.8,841.3 C654.1,842.3 651.7,844.7 651.0,846.7 C650.3,848.6 651.0,858.5 651.8,860.6 C652.6,862.8 655.8,867.0 658.8,868.4 C661.8,869.8 675.8,873.5 682.1,874.6 C688.3,875.7 716.2,878.3 720.8,879.3 C725.5,880.2 729.4,882.9 728.6,883.9 C727.8,884.9 719.3,887.8 713.1,889.3 C706.9,890.9 674.3,897.7 666.5,899.4 C658.8,901.1 638.8,905.3 635.5,906.4 C632.2,907.5 633.2,909.5 633.2,910.3 C633.2,911.1 632.2,912.9 635.5,914.2 C638.8,915.4 654.1,920.8 666.5,922.7 C679.0,924.6 749.1,932.0 759.6,933.6 C770.1,935.1 771.7,937.1 771.3,938.2 C770.8,939.3 756.9,943.5 755.0,944.4 C753.0,945.4 751.8,946.6 751.9,947.5 C751.9,948.5 756.1,952.6 755.7,953.7 C755.4,954.8 753.0,957.0 748.8,958.4 C744.5,959.8 721.3,966.1 713.1,967.7 C704.9,969.2 674.3,972.8 666.5,973.9 C658.8,975.0 638.9,977.8 635.5,978.6 C632.1,979.3 633.0,981.3 632.7,981.7" fill="none" stroke="#222" stroke-width="2" stroke-dasharray="2,2.2"/>
<path d="M632.4,984.1 C633.7,985.0 637.0,991.3 644.8,993.2 C652.7,995.0 705.9,1000.1 711.0,1002.3 C716.1,1004.4 698.6,1013.1 696.1,1014.7 C693.6,1016.3 690.5,1016.7 686.2,1018.0 C681.9,1019.3 657.4,1026.1 653.1,1027.9 C648.8,1029.7 644.3,1032.1 643.2,1036.2 C642.0,1040.3 641.8,1064.5 641.5,1069.3 C641.2,1074.1 640.5,1081.5 639.9,1084.2 C639.2,1086.8 634.8,1093.6 634.9,1095.8 C635.0,1097.9 639.9,1103.4 640.7,1105.7 C641.4,1108.0 641.9,1114.6 642.3,1118.9 C642.8,1123.2 642.9,1144.9 644.8,1148.7 C646.7,1152.5 657.2,1155.3 661.4,1157.0 C665.5,1158.6 684.5,1163.8 686.2,1165.3 C687.8,1166.8 680.6,1169.7 677.9,1171.9 C675.3,1174.0 661.5,1184.8 659.7,1186.8 C657.9,1188.8 657.9,1190.3 659.7,1191.7 C661.5,1193.2 676.4,1200.2 677.9,1201.7 C679.4,1203.2 677.9,1205.3 674.6,1206.6 C671.3,1208.0 649.0,1213.3 644.8,1214.9 C640.7,1216.6 634.2,1221.5 633.2,1223.2 C632.2,1224.8 632.9,1229.6 634.9,1231.5 C636.9,1233.3 649.1,1239.2 653.1,1241.4 C657.1,1243.6 672.5,1252.1 674.6,1253.3 L632.6,1253.3 L632.6,984.1 Z" fill="#efefef" stroke="none"/>
<path d="M632.4,984.9 C632.8,985.3 631.2,987.3 636.5,989.0 C641.9,990.8 682.1,1000.2 686.2,1002.3 C690.3,1004.3 679.1,1008.3 677.9,1009.7 C676.8,1011.1 676.3,1015.0 674.6,1016.3 C673.0,1017.7 664.3,1021.6 661.4,1023.0 C658.4,1024.3 647.1,1028.2 644.8,1029.6 C642.6,1030.9 639.7,1032.2 639.0,1036.2 C638.4,1040.2 638.6,1063.5 638.2,1069.3 C637.8,1075.1 635.1,1090.5 634.9,1094.1 C634.7,1097.8 636.3,1103.2 636.5,1105.7 C636.8,1108.2 637.1,1114.5 637.4,1118.9 C637.6,1123.4 638.3,1146.6 639.0,1150.4 C639.8,1154.2 642.8,1155.5 644.8,1157.0 C646.9,1158.5 658.6,1163.8 659.7,1165.3 C660.9,1166.8 657.6,1169.9 656.4,1171.9 C655.2,1173.9 649.0,1183.3 648.1,1185.1 C647.2,1186.9 646.3,1188.4 647.3,1190.1 C648.3,1191.7 657.2,1200.0 658.1,1201.7 C659.0,1203.3 658.6,1205.0 656.4,1206.6 C654.3,1208.3 638.9,1216.4 636.5,1218.2 C634.2,1220.0 633.6,1223.7 633.2,1224.8 C632.9,1226.0 632.6,1228.5 633.2,1229.8 C633.9,1231.1 637.5,1235.7 639.9,1238.1 C642.2,1240.4 654.8,1251.8 656.4,1253.3 L632.6,1253.3 L632.6,984.9 Z" fill="url(#gNd)" stroke="none"/>
<path d="M632.4,984.1 C633.7,985.0 637.0,991.3 644.8,993.2 C652.7,995.0 705.9,1000.1 711.0,1002.3 C716.1,1004.4 698.6,1013.1 696.1,1014.7 C693.6,1016.3 690.5,1016.7 686.2,1018.0 C681.9,1019.3 657.4,1026.1 653.1,1027.9 C648.8,1029.7 644.3,1032.1 643.2,1036.2 C642.0,1040.3 641.8,1064.5 641.5,1069.3 C641.2,1074.1 640.5,1081.5 639.9,1084.2 C639.2,1086.8 634.8,1093.6 634.9,1095.8 C635.0,1097.9 639.9,1103.4 640.7,1105.7 C641.4,1108.0 641.9,1114.6 642.3,1118.9 C642.8,1123.2 642.9,1144.9 644.8,1148.7 C646.7,1152.5 657.2,1155.3 661.4,1157.0 C665.5,1158.6 684.5,1163.8 686.2,1165.3 C687.8,1166.8 680.6,1169.7 677.9,1171.9 C675.3,1174.0 661.5,1184.8 659.7,1186.8 C657.9,1188.8 657.9,1190.3 659.7,1191.7 C661.5,1193.2 676.4,1200.2 677.9,1201.7 C679.4,1203.2 677.9,1205.3 674.6,1206.6 C671.3,1208.0 649.0,1213.3 644.8,1214.9 C640.7,1216.6 634.2,1221.5 633.2,1223.2 C632.2,1224.8 632.9,1229.6 634.9,1231.5 C636.9,1233.3 649.1,1239.2 653.1,1241.4 C657.1,1243.6 672.5,1252.1 674.6,1253.3" fill="none" stroke="#8a8a8a" stroke-width="2"/>
<path d="M632.4,984.9 C632.8,985.3 631.2,987.3 636.5,989.0 C641.9,990.8 682.1,1000.2 686.2,1002.3 C690.3,1004.3 679.1,1008.3 677.9,1009.7 C676.8,1011.1 676.3,1015.0 674.6,1016.3 C673.0,1017.7 664.3,1021.6 661.4,1023.0 C658.4,1024.3 647.1,1028.2 644.8,1029.6 C642.6,1030.9 639.7,1032.2 639.0,1036.2 C638.4,1040.2 638.6,1063.5 638.2,1069.3 C637.8,1075.1 635.1,1090.5 634.9,1094.1 C634.7,1097.8 636.3,1103.2 636.5,1105.7 C636.8,1108.2 637.1,1114.5 637.4,1118.9 C637.6,1123.4 638.3,1146.6 639.0,1150.4 C639.8,1154.2 642.8,1155.5 644.8,1157.0 C646.9,1158.5 658.6,1163.8 659.7,1165.3 C660.9,1166.8 657.6,1169.9 656.4,1171.9 C655.2,1173.9 649.0,1183.3 648.1,1185.1 C647.2,1186.9 646.3,1188.4 647.3,1190.1 C648.3,1191.7 657.2,1200.0 658.1,1201.7 C659.0,1203.3 658.6,1205.0 656.4,1206.6 C654.3,1208.3 638.9,1216.4 636.5,1218.2 C634.2,1220.0 633.6,1223.7 633.2,1224.8 C632.9,1226.0 632.6,1228.5 633.2,1229.8 C633.9,1231.1 637.5,1235.7 639.9,1238.1 C642.2,1240.4 654.8,1251.8 656.4,1253.3" fill="none" stroke="#2b4cf5" stroke-width="2"/>
<path d="M632.4,984.9 C633.0,985.9 637.0,993.1 638.2,994.8 C639.4,996.6 644.7,1000.1 644.8,1002.3 C645.0,1004.4 641.0,1012.9 639.9,1016.3 C638.7,1019.7 633.9,1016.0 633.2,1036.2 C632.5,1056.4 632.9,1199.0 632.9,1218.2 C632.9,1237.4 632.9,1225.8 633.2,1228.1 C633.6,1230.5 636.1,1238.9 636.5,1241.4 C637.0,1243.9 638.0,1252.1 638.2,1253.3" fill="none" stroke="#3fc43f" stroke-width="1.6"/>
<path d="M632.4,983.2 C632.7,983.7 631.2,987.0 634.9,988.2 C638.6,989.4 659.5,993.7 669.6,994.8 C679.7,995.9 724.9,998.3 735.8,999.0 C746.8,999.6 775.6,1000.9 778.9,1001.4 C782.2,1002.0 771.9,1003.4 768.9,1004.8 C766.0,1006.1 754.0,1013.0 749.1,1014.7 C744.1,1016.3 725.6,1020.1 719.3,1021.3 C713.0,1022.5 692.0,1025.3 686.2,1026.3 C680.4,1027.3 664.8,1030.1 661.4,1031.2 C657.9,1032.4 652.8,1034.0 651.4,1037.8 C650.1,1041.7 648.6,1064.8 648.1,1069.3 C647.6,1073.8 647.5,1080.0 646.5,1082.5 C645.5,1085.0 639.0,1092.5 638.2,1094.1 C637.4,1095.8 637.5,1097.9 638.2,1099.1 C638.9,1100.2 643.9,1103.7 644.8,1105.7 C645.7,1107.7 646.8,1116.0 647.3,1118.9 C647.8,1121.9 649.2,1132.5 649.8,1135.5 C650.4,1138.5 650.3,1146.6 653.1,1148.7 C655.9,1150.9 671.5,1155.3 677.9,1157.0 C684.4,1158.7 714.2,1164.8 717.6,1166.1 C721.1,1167.4 715.0,1169.2 712.7,1170.2 C710.4,1171.3 698.1,1175.0 694.5,1176.9 C690.8,1178.7 677.8,1186.8 676.3,1188.4 C674.8,1190.1 676.4,1192.1 679.6,1193.4 C682.7,1194.7 705.4,1200.3 707.7,1201.7 C710.0,1203.0 706.5,1205.5 702.7,1206.6 C698.9,1207.8 676.3,1211.8 669.6,1213.3 C663.0,1214.7 640.2,1220.0 636.5,1221.5 C632.9,1223.0 633.2,1227.0 633.2,1228.1 C633.2,1229.3 632.9,1231.6 636.5,1233.1 C640.2,1234.6 662.4,1241.0 669.6,1243.0 C676.9,1245.1 705.4,1252.3 709.4,1253.3" fill="none" stroke="#222" stroke-width="2" stroke-dasharray="2,2.2"/>
</g>
<rect x="632.6" y="710.8" width="262.4" height="543.2" fill="none" stroke="#1c1c1c" stroke-width="2.0"/>
<line x1="626.6" y1="711.2" x2="632.6" y2="711.2" stroke="#1a1a1a" stroke-width="1.6"/>
<line x1="626.6" y1="847.0" x2="632.6" y2="847.0" stroke="#1a1a1a" stroke-width="1.6"/>
<line x1="626.6" y1="982.7" x2="632.6" y2="982.7" stroke="#1a1a1a" stroke-width="1.6"/>
<line x1="626.6" y1="1118.5" x2="632.6" y2="1118.5" stroke="#1a1a1a" stroke-width="1.6"/>
<line x1="626.6" y1="1254.2" x2="632.6" y2="1254.2" stroke="#1a1a1a" stroke-width="1.6"/>
<line x1="690.8" y1="1254.0" x2="690.8" y2="1260.0" stroke="#1a1a1a" stroke-width="1.6"/>
<line x1="749.1" y1="1254.0" x2="749.1" y2="1260.0" stroke="#1a1a1a" stroke-width="1.6"/>
<line x1="807.5" y1="1254.0" x2="807.5" y2="1260.0" stroke="#1a1a1a" stroke-width="1.6"/>
<line x1="865.7" y1="1254.0" x2="865.7" y2="1260.0" stroke="#1a1a1a" stroke-width="1.6"/>
<line x1="796.9" y1="734.7" x2="809.6" y2="734.7" stroke="#8c8c8c" stroke-width="3"/>
<text transform="translate(828.0,744.3) scale(1,1.1)" x="0" y="0" font-size="25.3" font-family="'DejaVu Sans', sans-serif" fill="#111">C</text>
<line x1="796.9" y1="771.0" x2="809.6" y2="771.0" stroke="#2b4cf5" stroke-width="3"/>
<text transform="translate(828.0,780.8) scale(1,1.1)" x="0" y="0" font-size="25.3" font-family="'DejaVu Sans', sans-serif" fill="#111">N</text>
<line x1="796.9" y1="810.4" x2="809.6" y2="810.4" stroke="#3fc43f" stroke-width="3"/>
<text transform="translate(828.0,819.5) scale(1,1.1)" x="0" y="0" font-size="25.3" font-family="'DejaVu Sans', sans-serif" fill="#111">Ni</text>
<rect x="797.9" y="847.7" width="2.6" height="2.6" fill="#111"/><rect x="804.9" y="847.7" width="2.6" height="2.6" fill="#111"/>
<text transform="translate(828.0,859.0) scale(1,1.1)" x="0" y="0" font-size="25.3" font-family="'DejaVu Sans', sans-serif" fill="#111">total</text>
<text x="752.4" y="1298.0" font-size="34.0" text-anchor="middle" font-family="'Liberation Sans', Arial, sans-serif" >DOS</text>
<defs><clipPath id="cpe"><rect x="1183.6" y="709.5" width="448.5" height="543.5"/></clipPath></defs>
<line x1="1238.9" y1="710.5" x2="1238.9" y2="1252.0" stroke="#000" stroke-width="2.2" stroke-dasharray="2,2"/>
<line x1="1270.2" y1="710.5" x2="1270.2" y2="1252.0" stroke="#000" stroke-width="2.2" stroke-dasharray="2,2"/>
<line x1="1326.3" y1="710.5" x2="1326.3" y2="1252.0" stroke="#000" stroke-width="2.2" stroke-dasharray="2,2"/>
<line x1="1489.9" y1="710.5" x2="1489.9" y2="1252.0" stroke="#000" stroke-width="2.2" stroke-dasharray="2,2"/>
<line x1="1545.0" y1="710.5" x2="1545.0" y2="1252.0" stroke="#000" stroke-width="2.2" stroke-dasharray="2,2"/>
<line x1="1576.6" y1="710.5" x2="1576.6" y2="1252.0" stroke="#000" stroke-width="2.2" stroke-dasharray="2,2"/>
<line x1="1184.6" y1="981.7" x2="1630.1" y2="981.7" stroke="#d83232" stroke-width="1.9" stroke-dasharray="7.2,3.5"/>
<g clip-path="url(#cpe)">
<path d="M1183.6,869.6 C1202.0,872.4 1220.4,873.3 1238.9,873.3 C1249.3,873.3 1259.8,871.7 1270.2,871.4 C1288.9,870.7 1307.6,870.6 1326.3,870.1 C1356.5,869.4 1386.7,868.2 1416.9,867.6 C1441.2,867.2 1465.6,866.7 1489.9,866.7 C1508.3,866.7 1526.6,867.2 1545.0,867.2 C1574.0,867.2 1603.1,867.2 1632.1,867.2" fill="none" stroke="#4169e1" stroke-width="3.8" stroke-linejoin="round" stroke-linecap="round"/>
<path d="M1183.6,874.6 C1202.0,875.5 1220.4,876.1 1238.9,876.5 C1249.3,876.8 1259.8,877.0 1270.2,877.0 C1288.9,877.0 1307.6,875.4 1326.3,874.6 C1356.5,873.3 1386.7,872.0 1416.9,870.9 C1441.2,870.0 1465.6,868.4 1489.9,868.4 C1508.3,868.4 1526.6,870.9 1545.0,870.9 C1574.0,870.9 1603.1,870.9 1632.1,869.1" fill="none" stroke="#4169e1" stroke-width="3.8" stroke-linejoin="round" stroke-linecap="round"/>
<path d="M1183.6,882.5 C1195.5,884.9 1207.4,884.9 1219.4,884.9 C1225.9,884.9 1232.4,880.7 1238.9,880.7 C1249.3,880.7 1259.8,886.4 1270.2,886.4 C1278.0,886.4 1285.7,884.8 1293.4,884.4 C1304.4,883.8 1315.3,883.2 1326.3,883.2 C1356.5,883.2 1386.7,884.4 1416.9,884.4 C1441.2,884.4 1465.6,884.4 1489.9,884.4 C1508.3,884.4 1526.6,881.5 1545.0,881.5 C1555.5,881.5 1566.0,884.2 1576.6,884.4 C1595.1,884.8 1613.6,884.9 1632.1,884.9" fill="none" stroke="#4169e1" stroke-width="3.8" stroke-linejoin="round" stroke-linecap="round"/>
<path d="M1183.6,904.7 C1189.7,903.3 1195.9,901.9 1202.1,900.5 C1209.5,898.8 1216.9,895.5 1224.3,895.5 C1229.2,895.5 1234.0,898.5 1238.9,898.5 C1249.3,898.5 1259.8,895.5 1270.2,895.5 C1278.0,895.5 1285.7,899.2 1293.4,900.5 C1304.4,902.3 1315.3,904.7 1326.3,904.7 C1348.2,904.7 1370.2,902.0 1392.2,901.2 C1408.6,900.7 1425.1,900.0 1441.5,900.0 C1457.7,900.0 1473.8,900.0 1489.9,900.0 C1508.3,900.0 1526.6,900.6 1545.0,901.0 C1555.5,901.2 1566.0,901.7 1576.6,901.7 C1595.1,901.7 1613.6,901.2 1632.1,900.0" fill="none" stroke="#4169e1" stroke-width="3.8" stroke-linejoin="round" stroke-linecap="round"/>
<path d="M1183.6,917.8 C1195.5,919.0 1207.4,919.0 1219.4,919.0 C1225.9,919.0 1232.4,917.3 1238.9,917.0 C1249.3,916.5 1259.8,916.0 1270.2,916.0 C1288.9,916.0 1307.6,917.4 1326.3,917.8 C1356.5,918.3 1386.7,919.0 1416.9,919.0 C1441.2,919.0 1465.6,919.0 1489.9,919.0 C1508.3,919.0 1526.6,919.5 1545.0,919.5 C1555.5,919.5 1566.0,919.5 1576.6,919.5 C1595.1,919.5 1613.6,919.0 1632.1,918.5" fill="none" stroke="#4169e1" stroke-width="3.8" stroke-linejoin="round" stroke-linecap="round"/>
<path d="M1183.6,953.1 C1195.5,950.4 1207.4,948.6 1219.4,948.6 C1225.9,948.6 1232.4,949.1 1238.9,949.1 C1249.3,949.1 1259.8,947.9 1270.2,947.9 C1278.0,947.9 1285.7,949.1 1293.4,949.8 C1301.7,950.7 1309.9,952.7 1318.1,953.1 C1334.6,953.8 1351.0,953.7 1367.5,954.3 C1383.9,954.9 1400.4,956.9 1416.9,958.0 C1433.3,959.1 1449.8,961.0 1466.2,961.0 C1474.1,961.0 1482.0,961.0 1489.9,961.0 C1498.5,961.0 1507.0,955.2 1515.6,954.8 C1523.8,954.3 1532.1,954.0 1540.3,954.0 C1541.8,954.0 1543.4,955.3 1545.0,955.3 C1555.5,955.3 1566.0,955.3 1576.6,955.3 C1595.1,955.3 1613.6,958.1 1632.1,961.5" fill="none" stroke="#4169e1" stroke-width="3.8" stroke-linejoin="round" stroke-linecap="round"/>
<path d="M1183.6,1001.7 C1202.0,1007.9 1220.4,1007.9 1238.9,1007.9 C1244.7,1007.9 1250.6,1003.4 1256.4,1002.9 C1261.0,1002.5 1265.6,1002.3 1270.2,1002.2 C1288.9,1001.9 1307.6,1001.7 1326.3,1001.7 C1335.9,1001.7 1345.5,1002.9 1355.1,1004.2 C1367.5,1005.7 1379.8,1010.2 1392.2,1014.0 C1404.5,1017.8 1416.9,1024.2 1429.2,1027.6 C1441.5,1031.0 1453.9,1035.3 1466.2,1035.8 C1474.1,1036.0 1482.0,1035.9 1489.9,1036.2 C1498.5,1036.6 1507.0,1041.1 1515.6,1042.4 C1519.7,1043.1 1523.8,1043.9 1527.9,1043.9 C1533.6,1043.9 1539.3,1041.7 1545.0,1041.2 C1555.5,1040.3 1566.0,1040.1 1576.6,1039.5 C1595.1,1038.4 1613.6,1037.1 1632.1,1035.8" fill="none" stroke="#4169e1" stroke-width="3.8" stroke-linejoin="round" stroke-linecap="round"/>
<path d="M1183.6,1056.0 C1188.9,1056.9 1194.3,1058.2 1199.6,1059.7 C1207.4,1062.0 1215.3,1069.1 1223.1,1069.1 C1228.3,1069.1 1233.6,1061.7 1238.9,1061.7 C1244.7,1061.7 1250.6,1066.0 1256.4,1066.7 C1261.0,1067.2 1265.6,1067.6 1270.2,1067.6 C1278.0,1067.6 1285.7,1065.0 1293.4,1063.5 C1304.4,1061.3 1315.3,1056.8 1326.3,1056.0 C1340.0,1055.0 1353.7,1055.2 1367.5,1054.3 C1383.9,1053.3 1400.4,1050.3 1416.9,1048.6 C1429.2,1047.4 1441.5,1045.4 1453.9,1045.4 C1465.9,1045.4 1477.9,1046.0 1489.9,1046.9 C1494.4,1047.3 1498.8,1048.8 1503.3,1049.9 C1511.5,1051.9 1519.7,1056.9 1527.9,1057.3 C1533.6,1057.6 1539.3,1057.8 1545.0,1057.8 C1555.5,1057.8 1566.0,1057.4 1576.6,1056.8 C1585.0,1056.3 1593.5,1052.5 1602.0,1051.1 C1612.0,1049.5 1622.1,1048.1 1632.1,1047.4" fill="none" stroke="#4169e1" stroke-width="3.8" stroke-linejoin="round" stroke-linecap="round"/>
<path d="M1183.6,1082.5 C1193.9,1082.5 1204.1,1083.9 1214.4,1085.7 C1219.4,1086.5 1224.3,1088.4 1229.2,1090.6 C1232.5,1092.0 1235.7,1095.7 1238.9,1096.8 C1249.3,1100.2 1259.8,1101.3 1270.2,1102.9 C1278.0,1104.2 1285.7,1105.9 1293.4,1106.2 C1304.4,1106.5 1315.3,1106.7 1326.3,1106.7 C1335.9,1106.7 1345.5,1104.5 1355.1,1102.9 C1367.5,1100.9 1379.8,1097.0 1392.2,1094.3 C1404.5,1091.6 1416.9,1089.7 1429.2,1086.9 C1437.4,1085.1 1445.7,1082.1 1453.9,1080.7 C1465.9,1078.8 1477.9,1077.8 1489.9,1076.5 C1498.5,1075.6 1507.0,1074.6 1515.6,1074.1 C1525.4,1073.4 1535.2,1073.4 1545.0,1072.6 C1555.5,1071.8 1566.0,1066.7 1576.6,1066.7 C1585.0,1066.7 1593.5,1068.3 1602.0,1069.6 C1612.0,1071.2 1622.1,1073.6 1632.1,1076.5" fill="none" stroke="#4169e1" stroke-width="3.8" stroke-linejoin="round" stroke-linecap="round"/>
<path d="M1183.6,1106.2 C1189.7,1107.9 1195.9,1107.9 1202.1,1107.9 C1207.9,1107.9 1213.6,1098.8 1219.4,1096.3 C1224.3,1094.1 1229.2,1091.3 1234.2,1091.3 C1235.7,1091.3 1237.3,1091.3 1238.9,1091.3 C1244.7,1091.3 1250.6,1095.5 1256.4,1096.8 C1261.0,1097.8 1265.6,1099.2 1270.2,1099.2 C1276.3,1099.2 1282.4,1098.7 1288.5,1098.0 C1294.2,1097.3 1300.0,1091.8 1305.8,1089.4 C1312.6,1086.5 1319.4,1082.0 1326.3,1082.0 C1340.0,1082.0 1353.7,1082.8 1367.5,1083.2 C1383.9,1083.7 1400.4,1084.9 1416.9,1084.9 C1441.2,1084.9 1465.6,1084.4 1489.9,1084.4 C1498.5,1084.4 1507.0,1086.4 1515.6,1086.4 C1525.4,1086.4 1535.2,1085.2 1545.0,1085.2 C1555.5,1085.2 1566.0,1092.3 1576.6,1092.3 C1585.0,1092.3 1593.5,1091.5 1602.0,1090.6 C1612.0,1089.6 1622.1,1087.2 1632.1,1084.4" fill="none" stroke="#4169e1" stroke-width="3.8" stroke-linejoin="round" stroke-linecap="round"/>
<path d="M1183.6,1119.5 C1189.7,1116.6 1195.9,1115.3 1202.1,1115.3 C1212.0,1115.3 1221.8,1126.9 1231.7,1126.9 C1234.1,1126.9 1236.5,1126.9 1238.9,1126.9 C1243.9,1126.9 1248.9,1128.9 1253.9,1128.9 C1259.4,1128.9 1264.8,1127.9 1270.2,1126.9 C1278.0,1125.4 1285.7,1115.3 1293.4,1115.3 C1304.4,1115.3 1315.3,1117.9 1326.3,1119.5 C1340.0,1121.5 1353.7,1123.8 1367.5,1126.4 C1383.9,1129.5 1400.4,1133.8 1416.9,1137.5 C1433.3,1141.2 1449.8,1145.6 1466.2,1148.6 C1474.1,1150.0 1482.0,1152.3 1489.9,1152.3 C1498.5,1152.3 1507.0,1148.6 1515.6,1148.6 C1525.4,1148.6 1535.2,1148.6 1545.0,1148.6 C1555.5,1148.6 1566.0,1154.3 1576.6,1154.8 C1585.0,1155.2 1593.5,1155.5 1602.0,1155.5 C1612.0,1155.5 1622.1,1154.5 1632.1,1153.1" fill="none" stroke="#4169e1" stroke-width="3.8" stroke-linejoin="round" stroke-linecap="round"/>
<path d="M1489.9,1152.3 C1494.4,1150.3 1498.8,1148.2 1503.3,1146.1 C1513.1,1141.5 1523.0,1131.8 1532.9,1131.8 C1536.9,1131.8 1540.9,1133.8 1545.0,1133.8 C1555.5,1133.8 1566.0,1131.8 1576.6,1131.8 C1580.9,1131.8 1585.3,1133.7 1589.6,1135.0 C1597.9,1137.6 1606.1,1143.2 1614.3,1146.1 C1620.3,1148.3 1626.2,1150.1 1632.1,1151.6" fill="none" stroke="#4169e1" stroke-width="3.8" stroke-linejoin="round" stroke-linecap="round"/>
<path d="M1183.6,1185.1 C1188.9,1183.7 1194.3,1181.2 1199.6,1178.2 C1208.7,1173.2 1217.7,1158.5 1226.8,1155.5 C1230.8,1154.2 1234.8,1154.1 1238.9,1152.8 C1244.7,1151.0 1250.6,1143.6 1256.4,1142.4 C1261.0,1141.5 1265.6,1140.7 1270.2,1140.7 C1272.2,1140.7 1274.2,1141.6 1276.1,1142.4 C1283.6,1145.5 1291.0,1158.8 1298.4,1165.9 C1304.9,1172.2 1311.5,1180.9 1318.1,1183.2 C1320.8,1184.1 1323.5,1185.1 1326.3,1185.1 C1340.0,1185.1 1353.7,1183.5 1367.5,1181.9 C1383.9,1180.1 1400.4,1175.1 1416.9,1170.8 C1433.3,1166.6 1449.8,1158.8 1466.2,1156.0 C1474.1,1154.7 1482.0,1153.6 1489.9,1153.1" fill="none" stroke="#4169e1" stroke-width="3.8" stroke-linejoin="round" stroke-linecap="round"/>
<path d="M1179.9,1249.3 C1185.6,1250.8 1191.4,1252.3 1197.2,1253.8" fill="none" stroke="#4169e1" stroke-width="3.8" stroke-linejoin="round" stroke-linecap="round"/>
<path d="M1298.4,1253.8 C1307.7,1251.8 1317.0,1249.8 1326.3,1249.8 C1345.8,1249.8 1365.3,1249.8 1384.8,1253.8" fill="none" stroke="#4169e1" stroke-width="3.8" stroke-linejoin="round" stroke-linecap="round"/>
</g>
<rect x="1183.6" y="709.5" width="448.5" height="543.5" fill="none" stroke="#1c1c1c" stroke-width="2.0"/>
<text x="1163.5" y="737.6" font-size="35.0" text-anchor="end" font-family="'Liberation Sans', Arial, sans-serif" >1.0</text>
<text x="1163.5" y="868.0" font-size="35.0" text-anchor="end" font-family="'Liberation Sans', Arial, sans-serif" >0.5</text>
<text x="1163.5" y="993.8" font-size="35.0" text-anchor="end" font-family="'Liberation Sans', Arial, sans-serif" >0</text>
<text x="1163.5" y="1127.6" font-size="35.0" text-anchor="end" font-family="'Liberation Sans', Arial, sans-serif" >-0.5</text>
<text x="1163.5" y="1253.5" font-size="35.0" text-anchor="end" font-family="'Liberation Sans', Arial, sans-serif" >-1.0</text>
<text x="1186.8" y="1297.5" font-size="35.0" text-anchor="middle" font-family="'Liberation Sans', Arial, sans-serif" >&#915;</text>
<text x="1246.2" y="1297.5" font-size="35.0" text-anchor="middle" font-family="'Liberation Sans', Arial, sans-serif" >K</text>
<text x="1280.4" y="1297.5" font-size="35.0" text-anchor="middle" font-family="'Liberation Sans', Arial, sans-serif" >M</text>
<text x="1324.2" y="1297.5" font-size="35.0" text-anchor="middle" font-family="'Liberation Sans', Arial, sans-serif" >&#915;</text>
<text x="1493.9" y="1297.5" font-size="35.0" text-anchor="middle" font-family="'Liberation Sans', Arial, sans-serif" >A</text>
<text x="1551.5" y="1297.5" font-size="35.0" text-anchor="middle" font-family="'Liberation Sans', Arial, sans-serif" >L</text>
<text x="1581.1" y="1297.5" font-size="35.0" text-anchor="middle" font-family="'Liberation Sans', Arial, sans-serif" >H</text>
<text x="1631.7" y="1297.5" font-size="35.0" text-anchor="middle" font-family="'Liberation Sans', Arial, sans-serif" >A</text>
<text x="1227.5" y="763.0" font-size="39.6" font-family="'Liberation Sans', Arial, sans-serif">Ni<tspan font-size="23.0" dy="7.1">3</tspan><tspan dy="-7.1">(HATI_C3)</tspan><tspan font-size="23.0" dy="7.1">2</tspan><tspan dy="-7.1">-Bulk</tspan></text>
<text transform="translate(1091.3,999.0) rotate(-90)" x="0" y="0" font-size="35.0" text-anchor="middle" font-family="'Liberation Sans', Arial, sans-serif"><tspan font-style="italic">E</tspan> - <tspan font-style="italic">E</tspan><tspan font-size="21.0" dy="2.3">F</tspan><tspan dy="-2.3"> (eV)</tspan></text>
<defs><clipPath id="cpde"><rect x="1660.5" y="710.4" width="263.5" height="544.6"/></clipPath>
<linearGradient id="gNe" gradientUnits="userSpaceOnUse" x1="1660.5" y1="0" x2="1710.5" y2="0"><stop offset="0" stop-color="#f6f7fd"/><stop offset="1" stop-color="#b9c4f2"/></linearGradient>
<linearGradient id="gGe" gradientUnits="userSpaceOnUse" x1="1660.5" y1="0" x2="1670.5" y2="0"><stop offset="0" stop-color="#f2f7f2"/><stop offset="1" stop-color="#dcefdc"/></linearGradient></defs>
<line x1="1661.5" y1="982.8" x2="1922.0" y2="982.8" stroke="#d83232" stroke-width="1.9" stroke-dasharray="7.2,3.5"/>
<g clip-path="url(#cpde)">
<path d="M1660.5,856.7 C1663.3,857.5 1682.8,863.4 1688.1,864.7 C1693.4,866.0 1710.5,868.5 1713.7,869.5 C1716.9,870.4 1720.8,872.9 1720.1,874.3 C1719.5,875.7 1710.2,881.9 1707.3,883.1 C1704.4,884.3 1694.2,885.4 1691.3,886.3 C1688.4,887.3 1677.5,891.8 1678.5,892.7 C1679.4,893.6 1695.6,894.2 1700.9,895.1 C1706.2,896.0 1732.6,900.0 1731.3,901.5 C1730.1,903.1 1689.2,908.9 1688.1,910.4 C1687.0,911.8 1713.1,915.0 1720.1,916.0 C1727.2,916.9 1758.6,919.2 1758.6,920.0 C1758.6,920.7 1728.8,922.4 1720.1,923.2 C1711.5,924.0 1677.8,927.0 1672.1,928.0 C1666.3,928.9 1663.6,931.7 1662.4,932.8 C1661.3,933.8 1659.9,937.4 1660.8,938.4 C1661.8,939.4 1668.2,941.9 1672.1,943.2 C1675.9,944.5 1695.9,949.9 1699.3,951.2 C1702.7,952.5 1706.0,955.2 1705.7,956.0 C1705.4,956.8 1699.5,958.3 1696.1,959.2 C1692.7,960.1 1675.6,963.7 1672.1,964.8 C1668.5,966.0 1662.0,969.9 1660.8,970.4 L1660.5,970.4 L1660.5,856.7 Z" fill="#efefef" stroke="none"/>
<path d="M1660.5,856.7 C1661.0,857.1 1661.8,860.2 1665.6,861.5 C1669.5,862.8 1695.4,868.2 1699.3,869.5 C1703.1,870.8 1704.4,873.0 1704.1,874.3 C1703.8,875.6 1698.8,880.5 1696.1,882.3 C1693.4,884.2 1674.6,890.8 1676.9,892.7 C1679.1,894.6 1718.0,899.7 1718.5,901.5 C1719.0,903.3 1680.7,909.0 1681.7,910.8 C1682.6,912.7 1727.5,918.6 1728.1,920.0 C1728.8,921.4 1694.6,923.7 1688.1,924.8 C1681.5,925.8 1665.2,929.2 1662.4,930.4 C1659.7,931.6 1660.8,935.7 1660.8,936.8 C1660.8,937.9 1659.7,940.2 1662.4,941.6 C1665.2,943.0 1684.9,949.0 1688.1,950.4 C1691.3,951.9 1695.3,955.0 1694.5,956.0 C1693.7,957.1 1682.9,959.9 1680.1,960.8 C1677.2,961.8 1667.6,964.7 1665.6,965.6 C1663.7,966.6 1661.3,970.0 1660.8,970.4 L1660.5,970.4 L1660.5,856.7 Z" fill="url(#gNe)" stroke="none"/>
<path d="M1660.5,856.7 C1663.3,857.5 1682.8,863.4 1688.1,864.7 C1693.4,866.0 1710.5,868.5 1713.7,869.5 C1716.9,870.4 1720.8,872.9 1720.1,874.3 C1719.5,875.7 1710.2,881.9 1707.3,883.1 C1704.4,884.3 1694.2,885.4 1691.3,886.3 C1688.4,887.3 1677.5,891.8 1678.5,892.7 C1679.4,893.6 1695.6,894.2 1700.9,895.1 C1706.2,896.0 1732.6,900.0 1731.3,901.5 C1730.1,903.1 1689.2,908.9 1688.1,910.4 C1687.0,911.8 1713.1,915.0 1720.1,916.0 C1727.2,916.9 1758.6,919.2 1758.6,920.0 C1758.6,920.7 1728.8,922.4 1720.1,923.2 C1711.5,924.0 1677.8,927.0 1672.1,928.0 C1666.3,928.9 1663.6,931.7 1662.4,932.8 C1661.3,933.8 1659.9,937.4 1660.8,938.4 C1661.8,939.4 1668.2,941.9 1672.1,943.2 C1675.9,944.5 1695.9,949.9 1699.3,951.2 C1702.7,952.5 1706.0,955.2 1705.7,956.0 C1705.4,956.8 1699.5,958.3 1696.1,959.2 C1692.7,960.1 1675.6,963.7 1672.1,964.8 C1668.5,966.0 1662.0,969.9 1660.8,970.4" fill="none" stroke="#8a8a8a" stroke-width="2"/>
<path d="M1660.5,856.7 C1661.0,857.1 1661.8,860.2 1665.6,861.5 C1669.5,862.8 1695.4,868.2 1699.3,869.5 C1703.1,870.8 1704.4,873.0 1704.1,874.3 C1703.8,875.6 1698.8,880.5 1696.1,882.3 C1693.4,884.2 1674.6,890.8 1676.9,892.7 C1679.1,894.6 1718.0,899.7 1718.5,901.5 C1719.0,903.3 1680.7,909.0 1681.7,910.8 C1682.6,912.7 1727.5,918.6 1728.1,920.0 C1728.8,921.4 1694.6,923.7 1688.1,924.8 C1681.5,925.8 1665.2,929.2 1662.4,930.4 C1659.7,931.6 1660.8,935.7 1660.8,936.8 C1660.8,937.9 1659.7,940.2 1662.4,941.6 C1665.2,943.0 1684.9,949.0 1688.1,950.4 C1691.3,951.9 1695.3,955.0 1694.5,956.0 C1693.7,957.1 1682.9,959.9 1680.1,960.8 C1677.2,961.8 1667.6,964.7 1665.6,965.6 C1663.7,966.6 1661.3,970.0 1660.8,970.4" fill="none" stroke="#2b4cf5" stroke-width="2"/>
<path d="M1660.5,859.9 C1661.3,860.8 1667.9,867.9 1668.8,869.5 C1669.8,871.1 1670.1,873.7 1669.6,875.9 C1669.2,878.1 1663.6,889.4 1664.0,891.9 C1664.4,894.5 1673.5,899.7 1673.7,901.5 C1673.8,903.4 1665.2,908.5 1665.6,910.4 C1666.0,912.2 1678.0,918.0 1677.7,920.0 C1677.3,922.0 1664.1,928.7 1662.4,930.4 C1660.8,932.1 1660.9,935.5 1660.8,936.8 C1660.8,938.1 1660.8,941.4 1661.6,943.2 C1662.4,945.0 1668.9,952.0 1668.8,954.4 C1668.8,956.8 1661.6,966.0 1660.8,967.2" fill="none" stroke="#3fc43f" stroke-width="1.6"/>
<path d="M1660.5,853.5 C1660.9,853.9 1658.1,856.3 1664.0,857.5 C1670.0,858.6 1710.2,863.5 1720.1,864.7 C1730.1,865.9 1757.9,868.5 1763.4,869.5 C1768.8,870.4 1775.7,872.9 1774.6,874.3 C1773.5,875.7 1759.6,882.1 1752.2,883.9 C1744.8,885.8 1702.5,891.5 1700.9,892.7 C1699.3,893.9 1725.7,895.0 1736.2,895.9 C1746.6,896.8 1807.0,900.0 1805.1,901.5 C1803.1,903.0 1712.8,909.0 1716.9,910.8 C1721.1,912.7 1841.6,918.7 1846.7,920.0 C1851.9,921.3 1784.1,923.1 1768.2,924.0 C1752.3,924.9 1698.7,927.8 1688.1,928.8 C1677.5,929.7 1665.1,932.7 1662.4,933.6 C1659.8,934.5 1660.7,936.6 1661.6,937.6 C1662.6,938.6 1664.6,941.8 1672.1,943.2 C1679.5,944.6 1728.4,949.9 1736.2,951.2 C1743.9,952.5 1751.4,955.1 1749.8,956.0 C1748.2,957.0 1727.9,959.7 1720.1,960.8 C1712.4,962.0 1678.0,966.1 1672.1,967.2 C1666.1,968.4 1662.0,971.6 1660.8,972.1" fill="none" stroke="#222" stroke-width="2" stroke-dasharray="2,2.2"/>
<path d="M1660.5,998.2 C1662.2,999.3 1675.8,1007.6 1677.5,1009.2 C1679.3,1010.9 1678.7,1012.8 1678.4,1014.4 C1678.1,1015.9 1674.4,1022.6 1674.1,1024.6 C1673.9,1026.7 1675.8,1033.0 1675.8,1034.8 C1675.9,1036.7 1674.3,1042.0 1675.0,1043.4 C1675.7,1044.7 1680.3,1047.2 1682.7,1048.5 C1685.1,1049.8 1698.4,1055.0 1698.9,1056.2 C1699.4,1057.4 1690.3,1059.2 1687.8,1060.4 C1685.2,1061.7 1673.8,1067.4 1673.3,1069.0 C1672.8,1070.5 1679.1,1073.9 1682.7,1075.8 C1686.2,1077.7 1708.3,1085.7 1709.1,1087.7 C1710.0,1089.8 1695.0,1094.4 1691.2,1096.3 C1687.4,1098.2 1673.3,1104.6 1670.7,1106.5 C1668.2,1108.5 1665.6,1114.7 1665.6,1115.9 C1665.6,1117.1 1668.4,1117.1 1670.7,1118.5 C1673.0,1119.8 1687.4,1127.8 1688.6,1129.6 C1689.8,1131.3 1684.2,1134.1 1682.7,1135.5 C1681.1,1137.0 1674.1,1142.7 1673.3,1144.1 C1672.4,1145.4 1672.4,1147.8 1674.1,1149.2 C1675.8,1150.5 1688.8,1156.3 1690.3,1157.7 C1691.9,1159.1 1691.1,1161.5 1689.5,1162.8 C1687.9,1164.2 1677.0,1169.3 1674.1,1171.4 C1671.2,1173.4 1661.8,1182.1 1660.5,1183.3 L1660.5,1183.3 L1660.5,998.2 Z" fill="#efefef" stroke="none"/>
<path d="M1660.5,998.2 C1661.4,999.4 1669.1,1009.0 1669.9,1011.0 C1670.6,1012.9 1668.4,1016.2 1668.2,1017.8 C1667.9,1019.3 1667.2,1024.3 1667.3,1026.3 C1667.4,1028.4 1668.9,1036.4 1669.0,1038.3 C1669.1,1040.1 1667.0,1043.3 1668.2,1045.1 C1669.4,1046.9 1681.0,1053.8 1681.0,1056.2 C1680.9,1058.6 1668.0,1067.0 1667.3,1069.0 C1666.6,1070.9 1672.2,1073.9 1674.1,1075.8 C1676.1,1077.7 1686.9,1085.4 1686.9,1087.7 C1686.9,1090.1 1676.4,1097.3 1674.1,1099.7 C1671.8,1102.1 1664.9,1109.9 1663.9,1111.6 C1662.9,1113.3 1662.7,1115.1 1663.9,1116.8 C1665.1,1118.5 1674.8,1126.7 1675.8,1128.7 C1676.9,1130.8 1675.0,1135.5 1674.1,1137.2 C1673.3,1138.9 1667.8,1144.6 1667.3,1145.8 C1666.8,1147.0 1667.9,1148.0 1669.0,1149.2 C1670.1,1150.4 1677.5,1156.3 1678.4,1157.7 C1679.2,1159.1 1678.3,1161.5 1677.5,1162.8 C1676.8,1164.2 1672.4,1169.3 1670.7,1171.4 C1669.0,1173.4 1661.5,1182.1 1660.5,1183.3 L1660.5,1183.3 L1660.5,998.2 Z" fill="url(#gNe)" stroke="none"/>
<path d="M1660.5,998.2 C1662.2,999.3 1675.8,1007.6 1677.5,1009.2 C1679.3,1010.9 1678.7,1012.8 1678.4,1014.4 C1678.1,1015.9 1674.4,1022.6 1674.1,1024.6 C1673.9,1026.7 1675.8,1033.0 1675.8,1034.8 C1675.9,1036.7 1674.3,1042.0 1675.0,1043.4 C1675.7,1044.7 1680.3,1047.2 1682.7,1048.5 C1685.1,1049.8 1698.4,1055.0 1698.9,1056.2 C1699.4,1057.4 1690.3,1059.2 1687.8,1060.4 C1685.2,1061.7 1673.8,1067.4 1673.3,1069.0 C1672.8,1070.5 1679.1,1073.9 1682.7,1075.8 C1686.2,1077.7 1708.3,1085.7 1709.1,1087.7 C1710.0,1089.8 1695.0,1094.4 1691.2,1096.3 C1687.4,1098.2 1673.3,1104.6 1670.7,1106.5 C1668.2,1108.5 1665.6,1114.7 1665.6,1115.9 C1665.6,1117.1 1668.4,1117.1 1670.7,1118.5 C1673.0,1119.8 1687.4,1127.8 1688.6,1129.6 C1689.8,1131.3 1684.2,1134.1 1682.7,1135.5 C1681.1,1137.0 1674.1,1142.7 1673.3,1144.1 C1672.4,1145.4 1672.4,1147.8 1674.1,1149.2 C1675.8,1150.5 1688.8,1156.3 1690.3,1157.7 C1691.9,1159.1 1691.1,1161.5 1689.5,1162.8 C1687.9,1164.2 1677.0,1169.3 1674.1,1171.4 C1671.2,1173.4 1661.8,1182.1 1660.5,1183.3" fill="none" stroke="#8a8a8a" stroke-width="2"/>
<path d="M1660.5,998.2 C1661.4,999.4 1669.1,1009.0 1669.9,1011.0 C1670.6,1012.9 1668.4,1016.2 1668.2,1017.8 C1667.9,1019.3 1667.2,1024.3 1667.3,1026.3 C1667.4,1028.4 1668.9,1036.4 1669.0,1038.3 C1669.1,1040.1 1667.0,1043.3 1668.2,1045.1 C1669.4,1046.9 1681.0,1053.8 1681.0,1056.2 C1680.9,1058.6 1668.0,1067.0 1667.3,1069.0 C1666.6,1070.9 1672.2,1073.9 1674.1,1075.8 C1676.1,1077.7 1686.9,1085.4 1686.9,1087.7 C1686.9,1090.1 1676.4,1097.3 1674.1,1099.7 C1671.8,1102.1 1664.9,1109.9 1663.9,1111.6 C1662.9,1113.3 1662.7,1115.1 1663.9,1116.8 C1665.1,1118.5 1674.8,1126.7 1675.8,1128.7 C1676.9,1130.8 1675.0,1135.5 1674.1,1137.2 C1673.3,1138.9 1667.8,1144.6 1667.3,1145.8 C1666.8,1147.0 1667.9,1148.0 1669.0,1149.2 C1670.1,1150.4 1677.5,1156.3 1678.4,1157.7 C1679.2,1159.1 1678.3,1161.5 1677.5,1162.8 C1676.8,1164.2 1672.4,1169.3 1670.7,1171.4 C1669.0,1173.4 1661.5,1182.1 1660.5,1183.3" fill="none" stroke="#2b4cf5" stroke-width="2"/>
<path d="M1660.6,999.0 C1660.7,1004.6 1661.4,1046.3 1661.5,1055.3 C1661.6,1064.4 1661.7,1079.2 1661.7,1089.5 C1661.7,1099.7 1661.4,1148.3 1661.3,1157.7 C1661.2,1167.1 1660.7,1180.8 1660.6,1183.3" fill="none" stroke="#3fc43f" stroke-width="1.6"/>
<path d="M1660.5,997.3 C1661.0,997.7 1662.9,1000.3 1665.6,1001.6 C1668.3,1002.8 1685.4,1008.8 1687.8,1010.1 C1690.2,1011.4 1690.2,1012.9 1689.5,1014.4 C1688.8,1015.8 1681.3,1022.6 1681.0,1024.6 C1680.6,1026.7 1685.9,1033.0 1686.1,1034.8 C1686.2,1036.7 1682.2,1042.0 1682.7,1043.4 C1683.2,1044.7 1687.3,1047.2 1691.2,1048.5 C1695.1,1049.8 1720.2,1055.0 1721.9,1056.2 C1723.6,1057.4 1712.4,1059.1 1708.3,1060.4 C1704.2,1061.8 1682.7,1068.3 1681.0,1069.8 C1679.2,1071.4 1685.4,1074.0 1691.2,1075.8 C1697.0,1077.6 1735.6,1085.7 1739.0,1087.7 C1742.4,1089.8 1730.1,1094.4 1725.3,1096.3 C1720.5,1098.2 1697.0,1104.6 1691.2,1106.5 C1685.4,1108.4 1669.9,1114.0 1667.3,1115.1 C1664.7,1116.1 1664.1,1116.1 1665.6,1116.8 C1667.1,1117.4 1678.6,1120.5 1682.7,1121.9 C1686.8,1123.2 1705.2,1128.9 1706.6,1130.4 C1707.9,1131.9 1698.9,1135.7 1696.3,1137.2 C1693.8,1138.8 1682.3,1144.6 1681.0,1145.8 C1679.6,1147.0 1679.8,1148.0 1682.7,1149.2 C1685.6,1150.4 1707.7,1156.2 1710.0,1157.7 C1712.2,1159.2 1707.6,1163.2 1704.8,1164.5 C1702.1,1165.9 1686.6,1169.8 1682.7,1171.4 C1678.7,1172.9 1667.8,1178.4 1665.6,1179.9 C1663.4,1181.4 1661.0,1186.0 1660.5,1186.7" fill="none" stroke="#222" stroke-width="2" stroke-dasharray="2,2.2"/>
</g>
<rect x="1660.5" y="710.4" width="263.5" height="544.6" fill="none" stroke="#1c1c1c" stroke-width="2.0"/>
<line x1="1654.5" y1="711.3" x2="1660.5" y2="711.3" stroke="#1a1a1a" stroke-width="1.6"/>
<line x1="1654.5" y1="847.0" x2="1660.5" y2="847.0" stroke="#1a1a1a" stroke-width="1.6"/>
<line x1="1654.5" y1="982.8" x2="1660.5" y2="982.8" stroke="#1a1a1a" stroke-width="1.6"/>
<line x1="1654.5" y1="1118.5" x2="1660.5" y2="1118.5" stroke="#1a1a1a" stroke-width="1.6"/>
<line x1="1654.5" y1="1254.3" x2="1660.5" y2="1254.3" stroke="#1a1a1a" stroke-width="1.6"/>
<line x1="1716.8" y1="1255.0" x2="1716.8" y2="1261.0" stroke="#1a1a1a" stroke-width="1.6"/>
<line x1="1773.1" y1="1255.0" x2="1773.1" y2="1261.0" stroke="#1a1a1a" stroke-width="1.6"/>
<line x1="1829.4" y1="1255.0" x2="1829.4" y2="1261.0" stroke="#1a1a1a" stroke-width="1.6"/>
<line x1="1886.0" y1="1255.0" x2="1886.0" y2="1261.0" stroke="#1a1a1a" stroke-width="1.6"/>
<line x1="1825.0" y1="733.0" x2="1838.0" y2="733.0" stroke="#8c8c8c" stroke-width="3"/>
<text transform="translate(1855.0,742.6) scale(1,1.1)" x="0" y="0" font-size="25.3" font-family="'DejaVu Sans', sans-serif" fill="#111">C</text>
<line x1="1825.0" y1="769.0" x2="1838.0" y2="769.0" stroke="#2b4cf5" stroke-width="3"/>
<text transform="translate(1855.0,779.0) scale(1,1.1)" x="0" y="0" font-size="25.3" font-family="'DejaVu Sans', sans-serif" fill="#111">N</text>
<line x1="1825.0" y1="808.6" x2="1838.0" y2="808.6" stroke="#3fc43f" stroke-width="3"/>
<text transform="translate(1855.0,818.0) scale(1,1.1)" x="0" y="0" font-size="25.3" font-family="'DejaVu Sans', sans-serif" fill="#111">Ni</text>
<rect x="1826.0" y="846.6" width="2.6" height="2.6" fill="#111"/><rect x="1833.0" y="846.6" width="2.6" height="2.6" fill="#111"/>
<text transform="translate(1855.0,857.5) scale(1,1.1)" x="0" y="0" font-size="25.3" font-family="'DejaVu Sans', sans-serif" fill="#111">total</text>
<text x="1793.0" y="1297.6" font-size="34.0" text-anchor="middle" font-family="'Liberation Sans', Arial, sans-serif" >DOS</text>
<defs><clipPath id="cpf"><rect x="161.8" y="1409.8" width="448.6" height="542.2"/></clipPath></defs>
<line x1="218.6" y1="1410.8" x2="218.6" y2="1951.0" stroke="#000" stroke-width="2.2" stroke-dasharray="2,2"/>
<line x1="249.2" y1="1410.8" x2="249.2" y2="1951.0" stroke="#000" stroke-width="2.2" stroke-dasharray="2,2"/>
<line x1="305.8" y1="1410.8" x2="305.8" y2="1951.0" stroke="#000" stroke-width="2.2" stroke-dasharray="2,2"/>
<line x1="467.7" y1="1410.8" x2="467.7" y2="1951.0" stroke="#000" stroke-width="2.2" stroke-dasharray="2,2"/>
<line x1="523.7" y1="1410.8" x2="523.7" y2="1951.0" stroke="#000" stroke-width="2.2" stroke-dasharray="2,2"/>
<line x1="554.3" y1="1410.8" x2="554.3" y2="1951.0" stroke="#000" stroke-width="2.2" stroke-dasharray="2,2"/>
<line x1="162.8" y1="1680.9" x2="608.4" y2="1680.9" stroke="#d83232" stroke-width="1.9" stroke-dasharray="7.2,3.5"/>
<g clip-path="url(#cpf)">
<path d="M161.8,1551.3 C180.8,1551.8 199.7,1552.2 218.6,1552.6 C228.8,1552.8 239.0,1553.1 249.2,1553.1 C268.1,1553.1 286.9,1551.7 305.8,1551.1 C311.4,1550.9 317.1,1550.9 322.8,1550.6 C326.9,1550.4 331.0,1548.3 335.1,1546.9 C343.4,1544.1 351.6,1540.7 359.8,1537.0 C368.1,1533.4 376.3,1527.8 384.5,1524.7 C396.9,1520.0 409.2,1516.0 421.5,1513.6 C429.8,1512.0 438.0,1510.2 446.2,1509.9 C453.4,1509.6 460.5,1509.4 467.7,1509.4 C486.4,1509.4 505.1,1509.4 523.7,1509.4 C552.6,1509.4 581.5,1509.4 610.4,1509.4" fill="none" stroke="#4169e1" stroke-width="3.8" stroke-linejoin="round" stroke-linecap="round"/>
<path d="M161.8,1561.0 C180.8,1560.5 199.7,1560.5 218.6,1560.5 C228.8,1560.5 239.0,1561.2 249.2,1561.2 C268.1,1561.2 286.9,1561.0 305.8,1560.5 C311.4,1560.3 317.1,1556.7 322.8,1555.5 C327.7,1554.5 332.7,1553.1 337.6,1553.1 C349.1,1553.1 360.6,1555.0 372.2,1556.3 C388.6,1558.1 405.1,1561.7 421.5,1562.9 C436.9,1564.1 452.3,1564.9 467.7,1565.4 C477.0,1565.7 486.3,1566.2 495.6,1566.2 C505.0,1566.2 514.4,1565.5 523.7,1565.4 C552.6,1565.1 581.5,1564.9 610.4,1564.9" fill="none" stroke="#4169e1" stroke-width="3.8" stroke-linejoin="round" stroke-linecap="round"/>
<path d="M161.8,1572.3 C180.8,1571.6 199.7,1571.6 218.6,1571.6 C228.8,1571.6 239.0,1573.3 249.2,1573.3 C268.1,1573.3 286.9,1572.3 305.8,1572.3 C309.8,1572.3 313.8,1574.1 317.9,1575.3 C326.9,1577.9 336.0,1585.2 345.0,1585.2 C354.1,1585.2 363.1,1582.8 372.2,1581.5 C388.6,1579.0 405.1,1574.2 421.5,1572.8 C436.9,1571.6 452.3,1570.4 467.7,1570.4 C486.4,1570.4 505.1,1570.8 523.7,1570.8 C552.6,1570.8 581.5,1570.8 610.4,1570.8" fill="none" stroke="#4169e1" stroke-width="3.8" stroke-linejoin="round" stroke-linecap="round"/>
<path d="M161.8,1593.8 C174.4,1592.8 186.9,1592.8 199.4,1592.8 C205.8,1592.8 212.2,1594.3 218.6,1594.3 C228.8,1594.3 239.0,1591.8 249.2,1591.8 C268.1,1591.8 286.9,1594.1 305.8,1594.1 C315.6,1594.1 325.3,1593.3 335.1,1593.3 C343.4,1593.3 351.6,1600.2 359.8,1603.7 C372.2,1608.9 384.5,1616.0 396.9,1619.7 C409.2,1623.5 421.5,1627.6 433.9,1628.4 C445.2,1629.1 456.4,1629.6 467.7,1629.6 C481.1,1629.6 494.5,1628.4 507.9,1628.4 C513.2,1628.4 518.5,1629.1 523.7,1629.6 C533.9,1630.5 544.1,1633.3 554.3,1633.3 C573.0,1633.3 591.7,1633.3 610.4,1632.1" fill="none" stroke="#4169e1" stroke-width="3.8" stroke-linejoin="round" stroke-linecap="round"/>
<path d="M161.8,1621.5 C176.8,1623.8 191.8,1625.4 206.8,1625.4 C220.9,1625.4 235.1,1624.0 249.2,1623.4 C268.1,1622.7 286.9,1621.7 305.8,1621.7 C315.6,1621.7 325.3,1623.4 335.1,1624.7 C347.5,1626.2 359.8,1629.6 372.2,1630.8 C380.4,1631.6 388.6,1632.6 396.9,1632.6 C420.5,1632.6 444.1,1632.3 467.7,1632.1 C486.4,1631.9 505.1,1631.2 523.7,1630.8 C552.6,1630.3 581.5,1629.9 610.4,1629.6" fill="none" stroke="#4169e1" stroke-width="3.8" stroke-linejoin="round" stroke-linecap="round"/>
<path d="M161.8,1648.1 C174.4,1644.4 186.9,1641.9 199.4,1641.9 C205.8,1641.9 212.2,1642.7 218.6,1642.7 C228.8,1642.7 239.0,1640.2 249.2,1640.2 C257.3,1640.2 265.4,1642.0 273.4,1643.2 C281.7,1644.4 289.9,1648.1 298.1,1648.1 C300.7,1648.1 303.2,1648.1 305.8,1648.1 C327.9,1648.1 350.0,1647.6 372.2,1647.6 C388.6,1647.6 405.1,1647.9 421.5,1648.1 C436.9,1648.3 452.3,1649.3 467.7,1649.3 C480.3,1649.3 492.9,1646.9 505.5,1646.9 C511.6,1646.9 517.6,1648.1 523.7,1648.1 C533.9,1648.1 544.1,1648.1 554.3,1648.1 C573.0,1648.1 591.7,1648.7 610.4,1649.3" fill="none" stroke="#4169e1" stroke-width="3.8" stroke-linejoin="round" stroke-linecap="round"/>
<path d="M161.8,1712.1 C174.4,1711.7 186.9,1711.4 199.4,1711.4 C205.8,1711.4 212.2,1711.4 218.6,1711.4 C228.8,1711.4 239.0,1711.5 249.2,1711.6 C268.1,1711.8 286.9,1711.8 305.8,1712.1 C319.7,1712.3 333.6,1713.3 347.5,1714.6 C359.8,1715.7 372.2,1719.1 384.5,1722.0 C396.9,1724.8 409.2,1730.1 421.5,1731.8 C429.8,1733.0 438.0,1734.3 446.2,1734.3 C453.4,1734.3 460.5,1734.3 467.7,1734.3 C477.0,1734.3 486.3,1736.3 495.6,1736.3 C505.0,1736.3 514.4,1734.8 523.7,1734.8 C533.9,1734.8 544.1,1737.3 554.3,1737.3 C573.0,1737.3 591.7,1736.9 610.4,1734.3" fill="none" stroke="#4169e1" stroke-width="3.8" stroke-linejoin="round" stroke-linecap="round"/>
<path d="M161.8,1746.7 C167.8,1747.6 173.7,1748.6 179.6,1749.9 C187.9,1751.5 196.1,1755.8 204.3,1755.8 C209.1,1755.8 213.9,1752.8 218.6,1752.8 C228.8,1752.8 239.0,1753.3 249.2,1753.3 C257.3,1753.3 265.4,1751.2 273.4,1750.4 C284.2,1749.2 295.0,1747.8 305.8,1747.1 C319.7,1746.3 333.6,1746.2 347.5,1745.4 C363.9,1744.5 380.4,1741.2 396.9,1740.5 C405.1,1740.1 413.3,1739.7 421.5,1739.7 C429.8,1739.7 438.0,1743.4 446.2,1745.4 C453.4,1747.1 460.5,1749.7 467.7,1750.8 C477.0,1752.3 486.3,1752.9 495.6,1754.1 C505.0,1755.2 514.4,1757.8 523.7,1757.8 C533.9,1757.8 544.1,1747.1 554.3,1747.1 C559.4,1747.1 564.5,1747.1 569.6,1747.1 C583.2,1747.1 596.8,1748.3 610.4,1749.9" fill="none" stroke="#4169e1" stroke-width="3.8" stroke-linejoin="round" stroke-linecap="round"/>
<path d="M161.8,1778.0 C170.2,1779.6 178.6,1781.2 187.0,1781.2 C197.6,1781.2 208.1,1780.5 218.6,1780.5 C228.8,1780.5 239.0,1784.9 249.2,1784.9 C257.3,1784.9 265.4,1784.6 273.4,1784.2 C284.2,1783.6 295.0,1778.0 305.8,1778.0 C315.6,1778.0 325.3,1778.7 335.1,1778.7 C347.5,1778.7 359.8,1778.7 372.2,1778.7 C380.4,1778.7 388.6,1775.7 396.9,1773.8 C409.2,1771.0 421.5,1767.3 433.9,1763.9 C445.2,1760.9 456.4,1754.5 467.7,1754.5 C472.9,1754.5 478.1,1755.6 483.3,1756.5 C491.5,1758.0 499.7,1764.4 507.9,1764.4 C513.2,1764.4 518.5,1764.2 523.7,1763.9 C533.9,1763.4 544.1,1760.7 554.3,1759.5 C573.0,1757.3 591.7,1755.3 610.4,1754.1" fill="none" stroke="#4169e1" stroke-width="3.8" stroke-linejoin="round" stroke-linecap="round"/>
<path d="M161.8,1791.1 C172.7,1795.9 183.6,1798.5 194.4,1798.5 C199.4,1798.5 204.3,1797.3 209.2,1797.3 C212.4,1797.3 215.5,1798.5 218.6,1799.0 C228.8,1800.7 239.0,1803.4 249.2,1803.4 C254.0,1803.4 258.8,1802.8 263.6,1802.2 C271.8,1801.1 280.0,1791.7 288.2,1791.1 C294.1,1790.7 299.9,1790.6 305.8,1790.3 C323.8,1789.4 341.8,1786.1 359.8,1786.1 C380.4,1786.1 401.0,1788.1 421.5,1788.1 C436.9,1788.1 452.3,1787.9 467.7,1787.9 C479.5,1787.9 491.2,1793.6 503.0,1793.6 C509.9,1793.6 516.8,1788.6 523.7,1788.6 C533.9,1788.6 544.1,1802.2 554.3,1802.2 C563.6,1802.2 572.8,1798.2 582.0,1796.0 C591.5,1793.7 600.9,1791.3 610.4,1788.6" fill="none" stroke="#4169e1" stroke-width="3.8" stroke-linejoin="round" stroke-linecap="round"/>
<path d="M161.8,1820.7 C166.1,1819.5 170.4,1818.2 174.7,1817.0 C180.9,1815.2 187.0,1811.6 193.2,1811.6 C199.0,1811.6 204.7,1819.5 210.5,1819.5 C213.2,1819.5 215.9,1819.0 218.6,1819.0 C223.7,1819.0 228.8,1823.2 233.9,1823.2 C239.0,1823.2 244.1,1823.2 249.2,1823.2 C255.7,1823.2 262.1,1814.5 268.5,1814.5 C280.9,1814.5 293.3,1819.6 305.8,1820.7 C319.7,1821.9 333.6,1822.0 347.5,1823.2 C363.9,1824.6 380.4,1827.8 396.9,1830.6 C413.3,1833.4 429.8,1837.8 446.2,1840.5 C453.4,1841.6 460.5,1843.4 467.7,1843.4 C472.9,1843.4 478.1,1842.5 483.3,1841.7 C491.5,1840.4 499.7,1833.0 507.9,1833.0 C513.2,1833.0 518.5,1833.9 523.7,1834.3 C533.9,1835.0 544.1,1835.1 554.3,1836.0 C563.6,1836.9 572.8,1841.6 582.0,1842.9 C591.5,1844.3 600.9,1845.6 610.4,1845.9" fill="none" stroke="#4169e1" stroke-width="3.8" stroke-linejoin="round" stroke-linecap="round"/>
<path d="M467.7,1843.4 C472.9,1842.0 478.1,1840.2 483.3,1838.0 C491.5,1834.5 499.7,1824.4 507.9,1824.4 C513.2,1824.4 518.5,1826.1 523.7,1826.1 C533.9,1826.1 544.1,1823.7 554.3,1823.7 C563.6,1823.7 572.8,1829.9 582.0,1833.0 C591.5,1836.3 600.9,1839.6 610.4,1842.9" fill="none" stroke="#4169e1" stroke-width="3.8" stroke-linejoin="round" stroke-linecap="round"/>
<path d="M161.8,1868.8 C167.8,1867.2 173.7,1864.6 179.6,1861.4 C189.5,1856.2 199.4,1838.0 209.2,1838.0 C212.4,1838.0 215.5,1839.2 218.6,1839.2 C223.7,1839.2 228.8,1832.3 233.9,1831.8 C239.0,1831.4 244.1,1831.1 249.2,1831.1 C252.4,1831.1 255.5,1832.8 258.6,1834.3 C266.8,1838.2 275.1,1854.0 283.3,1859.0 C290.8,1863.5 298.3,1868.8 305.8,1868.8 C319.7,1868.8 333.6,1868.3 347.5,1867.6 C363.9,1866.8 380.4,1863.2 396.9,1860.2 C413.3,1857.2 429.8,1852.8 446.2,1849.1 C453.4,1847.5 460.5,1845.8 467.7,1844.2" fill="none" stroke="#4169e1" stroke-width="3.8" stroke-linejoin="round" stroke-linecap="round"/>
</g>
<rect x="161.8" y="1409.8" width="448.6" height="542.2" fill="none" stroke="#1c1c1c" stroke-width="2.0"/>
<line x1="159.3" y1="1409.4" x2="161.8" y2="1409.4" stroke="#1a1a1a" stroke-width="1.6"/>
<line x1="159.3" y1="1545.2" x2="161.8" y2="1545.2" stroke="#1a1a1a" stroke-width="1.6"/>
<line x1="159.3" y1="1680.9" x2="161.8" y2="1680.9" stroke="#1a1a1a" stroke-width="1.6"/>
<line x1="159.3" y1="1816.7" x2="161.8" y2="1816.7" stroke="#1a1a1a" stroke-width="1.6"/>
<line x1="159.3" y1="1952.4" x2="161.8" y2="1952.4" stroke="#1a1a1a" stroke-width="1.6"/>
<text x="142.5" y="1436.2" font-size="35.0" text-anchor="end" font-family="'Liberation Sans', Arial, sans-serif" >1.0</text>
<text x="142.5" y="1567.6" font-size="35.0" text-anchor="end" font-family="'Liberation Sans', Arial, sans-serif" >0.5</text>
<text x="142.5" y="1692.6" font-size="35.0" text-anchor="end" font-family="'Liberation Sans', Arial, sans-serif" >0</text>
<text x="142.5" y="1826.0" font-size="35.0" text-anchor="end" font-family="'Liberation Sans', Arial, sans-serif" >-0.5</text>
<text x="142.5" y="1951.2" font-size="35.0" text-anchor="end" font-family="'Liberation Sans', Arial, sans-serif" >-1.0</text>
<text x="165.0" y="1996.9" font-size="35.0" text-anchor="middle" font-family="'Liberation Sans', Arial, sans-serif" >&#915;</text>
<text x="223.5" y="1996.9" font-size="35.0" text-anchor="middle" font-family="'Liberation Sans', Arial, sans-serif" >K</text>
<text x="258.2" y="1996.9" font-size="35.0" text-anchor="middle" font-family="'Liberation Sans', Arial, sans-serif" >M</text>
<text x="301.5" y="1996.9" font-size="35.0" text-anchor="middle" font-family="'Liberation Sans', Arial, sans-serif" >&#915;</text>
<text x="471.3" y="1996.9" font-size="35.0" text-anchor="middle" font-family="'Liberation Sans', Arial, sans-serif" >A</text>
<text x="528.9" y="1996.9" font-size="35.0" text-anchor="middle" font-family="'Liberation Sans', Arial, sans-serif" >L</text>
<text x="558.5" y="1996.9" font-size="35.0" text-anchor="middle" font-family="'Liberation Sans', Arial, sans-serif" >H</text>
<text x="609.4" y="1996.9" font-size="35.0" text-anchor="middle" font-family="'Liberation Sans', Arial, sans-serif" >A</text>
<text x="214.0" y="1463.0" font-size="39.6" font-family="'Liberation Sans', Arial, sans-serif">Ni<tspan font-size="23.0" dy="7.1">3</tspan><tspan dy="-7.1">(HATI_C4)</tspan><tspan font-size="23.0" dy="7.1">2</tspan><tspan dy="-7.1">-Bulk</tspan></text>
<text transform="translate(69.0,1697.5) rotate(-90)" x="0" y="0" font-size="35.0" text-anchor="middle" font-family="'Liberation Sans', Arial, sans-serif"><tspan font-style="italic">E</tspan> - <tspan font-style="italic">E</tspan><tspan font-size="21.0" dy="2.3">F</tspan><tspan dy="-2.3"> (eV)</tspan></text>
<defs><clipPath id="cpdf"><rect x="633.6" y="1410.0" width="264.4" height="542.0"/></clipPath>
<linearGradient id="gNf" gradientUnits="userSpaceOnUse" x1="633.6" y1="0" x2="683.6" y2="0"><stop offset="0" stop-color="#f6f7fd"/><stop offset="1" stop-color="#b9c4f2"/></linearGradient>
<linearGradient id="gGf" gradientUnits="userSpaceOnUse" x1="633.6" y1="0" x2="643.6" y2="0"><stop offset="0" stop-color="#f2f7f2"/><stop offset="1" stop-color="#dcefdc"/></linearGradient></defs>
<line x1="634.6" y1="1681.0" x2="896.0" y2="1681.0" stroke="#d83232" stroke-width="1.9" stroke-dasharray="7.2,3.5"/>
<g clip-path="url(#cpdf)">
<path d="M633.6,1500.6 C634.7,1501.4 641.2,1507.3 644.0,1508.6 C646.9,1510.0 660.9,1512.8 661.7,1514.2 C662.5,1515.7 653.1,1521.1 652.1,1523.1 C651.0,1525.1 651.1,1531.7 651.3,1534.3 C651.4,1536.8 651.2,1546.6 653.7,1548.7 C656.1,1550.8 670.8,1553.9 676.1,1555.1 C681.4,1556.3 706.1,1559.4 706.6,1560.7 C707.0,1562.0 681.7,1566.3 680.9,1567.9 C680.1,1569.5 699.0,1575.4 698.6,1576.8 C698.1,1578.1 681.4,1580.2 676.1,1581.6 C670.8,1582.9 647.1,1588.5 645.6,1590.4 C644.2,1592.2 661.0,1598.1 661.7,1600.0 C662.3,1601.9 652.9,1608.0 652.1,1609.6 C651.3,1611.2 649.2,1614.6 653.7,1616.0 C658.2,1617.5 689.1,1622.7 696.9,1624.0 C704.8,1625.4 732.5,1628.5 732.2,1630.0 C731.9,1631.4 695.2,1636.9 693.7,1638.5 C692.3,1640.0 718.7,1644.4 717.8,1645.7 C716.8,1647.0 690.7,1650.3 684.1,1651.3 C677.6,1652.3 657.1,1655.1 652.1,1656.1 C647.0,1657.1 635.5,1660.4 633.6,1660.9 L633.6,1660.9 L633.6,1500.6 Z" fill="#efefef" stroke="none"/>
<path d="M633.6,1500.6 C634.3,1501.4 638.8,1507.3 640.8,1508.6 C642.8,1510.0 653.0,1512.6 653.7,1514.2 C654.3,1515.8 647.7,1521.4 647.3,1524.7 C646.8,1527.9 647.9,1544.5 648.9,1547.1 C649.8,1549.7 652.6,1548.9 656.9,1550.3 C661.1,1551.7 689.9,1559.0 691.3,1560.7 C692.8,1562.5 672.3,1566.3 671.3,1567.9 C670.3,1569.5 682.0,1575.2 680.9,1576.8 C679.8,1578.4 663.8,1582.7 660.1,1584.0 C656.4,1585.3 644.7,1588.0 644.0,1589.6 C643.4,1591.2 653.3,1597.7 653.7,1600.0 C654.0,1602.3 646.9,1610.9 647.3,1612.8 C647.6,1614.8 651.1,1617.5 656.9,1619.2 C662.6,1621.0 702.7,1628.1 705.0,1630.0 C707.2,1631.9 680.1,1636.9 679.3,1638.5 C678.5,1640.0 698.1,1644.4 696.9,1645.7 C695.8,1647.0 673.7,1650.3 668.1,1651.3 C662.5,1652.3 644.3,1655.1 640.8,1656.1 C637.4,1657.1 634.3,1660.4 633.6,1660.9 L633.6,1660.9 L633.6,1500.6 Z" fill="url(#gNf)" stroke="none"/>
<path d="M633.6,1500.6 C634.7,1501.4 641.2,1507.3 644.0,1508.6 C646.9,1510.0 660.9,1512.8 661.7,1514.2 C662.5,1515.7 653.1,1521.1 652.1,1523.1 C651.0,1525.1 651.1,1531.7 651.3,1534.3 C651.4,1536.8 651.2,1546.6 653.7,1548.7 C656.1,1550.8 670.8,1553.9 676.1,1555.1 C681.4,1556.3 706.1,1559.4 706.6,1560.7 C707.0,1562.0 681.7,1566.3 680.9,1567.9 C680.1,1569.5 699.0,1575.4 698.6,1576.8 C698.1,1578.1 681.4,1580.2 676.1,1581.6 C670.8,1582.9 647.1,1588.5 645.6,1590.4 C644.2,1592.2 661.0,1598.1 661.7,1600.0 C662.3,1601.9 652.9,1608.0 652.1,1609.6 C651.3,1611.2 649.2,1614.6 653.7,1616.0 C658.2,1617.5 689.1,1622.7 696.9,1624.0 C704.8,1625.4 732.5,1628.5 732.2,1630.0 C731.9,1631.4 695.2,1636.9 693.7,1638.5 C692.3,1640.0 718.7,1644.4 717.8,1645.7 C716.8,1647.0 690.7,1650.3 684.1,1651.3 C677.6,1652.3 657.1,1655.1 652.1,1656.1 C647.0,1657.1 635.5,1660.4 633.6,1660.9" fill="none" stroke="#8a8a8a" stroke-width="2"/>
<path d="M633.6,1500.6 C634.3,1501.4 638.8,1507.3 640.8,1508.6 C642.8,1510.0 653.0,1512.6 653.7,1514.2 C654.3,1515.8 647.7,1521.4 647.3,1524.7 C646.8,1527.9 647.9,1544.5 648.9,1547.1 C649.8,1549.7 652.6,1548.9 656.9,1550.3 C661.1,1551.7 689.9,1559.0 691.3,1560.7 C692.8,1562.5 672.3,1566.3 671.3,1567.9 C670.3,1569.5 682.0,1575.2 680.9,1576.8 C679.8,1578.4 663.8,1582.7 660.1,1584.0 C656.4,1585.3 644.7,1588.0 644.0,1589.6 C643.4,1591.2 653.3,1597.7 653.7,1600.0 C654.0,1602.3 646.9,1610.9 647.3,1612.8 C647.6,1614.8 651.1,1617.5 656.9,1619.2 C662.6,1621.0 702.7,1628.1 705.0,1630.0 C707.2,1631.9 680.1,1636.9 679.3,1638.5 C678.5,1640.0 698.1,1644.4 696.9,1645.7 C695.8,1647.0 673.7,1650.3 668.1,1651.3 C662.5,1652.3 644.3,1655.1 640.8,1656.1 C637.4,1657.1 634.3,1660.4 633.6,1660.9" fill="none" stroke="#2b4cf5" stroke-width="2"/>
<path d="M633.6,1503.8 C633.9,1504.5 635.8,1506.7 636.0,1510.2 C636.3,1513.8 635.7,1535.4 636.0,1539.1 C636.4,1542.8 638.3,1545.3 639.2,1547.1 C640.2,1548.9 645.3,1554.8 645.6,1556.7 C646.0,1558.6 642.6,1564.3 642.4,1566.3 C642.3,1568.3 644.7,1574.5 644.0,1576.8 C643.4,1579.0 636.5,1586.5 636.0,1588.8 C635.5,1591.1 638.9,1597.4 639.2,1600.0 C639.6,1602.6 637.8,1611.4 639.2,1614.4 C640.7,1617.4 652.9,1627.6 653.7,1630.0 C654.5,1632.4 647.6,1636.9 647.3,1638.5 C646.9,1640.0 651.3,1643.9 650.5,1645.7 C649.7,1647.5 640.9,1654.6 639.2,1656.1 C637.6,1657.6 634.2,1660.4 633.6,1660.9" fill="none" stroke="#3fc43f" stroke-width="1.6"/>
<path d="M633.6,1499.0 C634.2,1499.5 634.5,1502.6 639.2,1503.8 C644.0,1505.0 676.2,1510.0 680.9,1511.0 C685.6,1512.1 687.5,1513.2 686.5,1514.2 C685.6,1515.3 673.1,1519.9 671.3,1521.5 C669.5,1523.0 667.9,1526.9 668.1,1529.5 C668.3,1532.0 671.3,1545.0 672.9,1547.1 C674.5,1549.2 673.5,1548.9 684.1,1550.3 C694.7,1551.7 774.2,1559.0 778.7,1560.7 C783.2,1562.5 731.1,1566.3 729.0,1567.9 C726.9,1569.5 760.8,1575.2 757.9,1576.8 C755.0,1578.4 709.9,1582.8 700.2,1584.0 C690.4,1585.2 664.1,1588.0 660.1,1588.8 C656.1,1589.6 657.2,1590.9 660.1,1592.0 C663.0,1593.1 687.8,1598.2 688.9,1600.0 C690.1,1601.8 673.2,1608.2 671.3,1609.6 C669.4,1611.1 665.2,1613.3 669.7,1614.4 C674.2,1615.6 700.4,1619.2 716.2,1620.8 C732.0,1622.4 823.9,1628.7 827.6,1630.5 C831.3,1632.2 755.5,1637.0 753.1,1638.5 C750.6,1640.0 806.4,1644.4 802.8,1645.7 C799.1,1647.0 731.3,1650.1 716.2,1651.3 C701.1,1652.5 660.3,1656.6 652.1,1657.7 C643.8,1658.8 635.5,1662.0 633.6,1662.5" fill="none" stroke="#222" stroke-width="2" stroke-dasharray="2,2.2"/>
<path d="M633.6,1700.7 C635.7,1701.6 648.9,1707.8 654.1,1709.2 C659.3,1710.7 683.5,1713.8 685.7,1715.2 C687.9,1716.6 677.4,1721.4 676.3,1722.9 C675.2,1724.3 675.6,1728.3 674.6,1729.7 C673.6,1731.1 666.7,1735.5 666.1,1736.5 C665.4,1737.6 664.2,1739.1 667.8,1739.9 C671.3,1740.8 696.7,1744.2 701.9,1745.1 C707.1,1745.9 720.3,1748.0 719.8,1748.8 C719.3,1749.7 702.5,1752.4 696.8,1753.6 C691.1,1754.7 665.9,1759.2 662.6,1760.4 C659.4,1761.6 661.8,1764.3 664.4,1765.5 C666.9,1766.7 684.3,1771.2 688.2,1772.4 C692.2,1773.5 703.2,1776.3 703.6,1777.5 C703.9,1778.7 692.7,1783.3 691.6,1784.3 C690.6,1785.3 692.0,1786.9 693.4,1787.7 C694.7,1788.6 705.8,1791.8 705.3,1792.8 C704.8,1793.8 693.4,1796.6 688.2,1797.9 C683.1,1799.3 657.5,1805.3 654.1,1806.5 C650.7,1807.7 651.6,1809.0 654.1,1809.9 C656.7,1810.7 675.3,1814.0 679.7,1815.0 C684.1,1816.0 697.6,1819.1 698.5,1820.1 C699.3,1821.1 690.8,1824.0 688.2,1825.2 C685.7,1826.4 674.2,1831.0 672.9,1832.1 C671.5,1833.1 672.6,1834.3 674.6,1835.5 C676.6,1836.7 691.5,1842.6 692.5,1844.0 C693.5,1845.4 688.7,1847.8 684.8,1849.1 C681.0,1850.5 659.2,1855.6 654.1,1857.6 C649.0,1859.7 635.7,1868.4 633.6,1869.6 L633.6,1869.6 L633.6,1700.7 Z" fill="#efefef" stroke="none"/>
<path d="M633.6,1700.7 C634.2,1701.2 636.1,1704.4 638.8,1705.8 C641.4,1707.3 658.3,1713.7 660.1,1715.2 C661.9,1716.7 657.1,1719.7 656.7,1721.2 C656.3,1722.6 656.4,1728.2 655.8,1729.7 C655.2,1731.2 651.0,1735.5 650.7,1736.5 C650.4,1737.6 650.7,1739.1 652.4,1739.9 C654.1,1740.8 665.1,1744.2 667.8,1745.1 C670.4,1745.9 679.0,1748.0 678.9,1748.8 C678.7,1749.7 669.0,1752.4 666.1,1753.6 C663.1,1754.7 650.4,1759.2 649.0,1760.4 C647.6,1761.6 650.7,1764.3 652.4,1765.5 C654.1,1766.7 664.2,1771.2 666.1,1772.4 C667.9,1773.5 671.2,1776.3 671.2,1777.5 C671.2,1778.7 666.4,1783.3 666.1,1784.3 C665.7,1785.3 666.9,1786.9 667.8,1787.7 C668.6,1788.6 674.9,1791.6 674.6,1792.8 C674.2,1794.0 667.3,1798.3 664.4,1799.6 C661.5,1801.0 647.1,1805.4 645.6,1806.5 C644.1,1807.5 647.1,1809.0 649.0,1809.9 C650.9,1810.7 662.2,1814.0 664.4,1815.0 C666.5,1816.0 670.3,1819.1 670.3,1820.1 C670.3,1821.1 665.7,1824.0 664.4,1825.2 C663.0,1826.4 657.4,1831.0 656.7,1832.1 C656.0,1833.1 656.2,1834.3 657.5,1835.5 C658.9,1836.7 669.6,1842.6 670.3,1844.0 C671.0,1845.4 666.8,1847.8 664.4,1849.1 C661.9,1850.5 648.7,1855.8 645.6,1857.6 C642.5,1859.5 634.8,1866.9 633.6,1867.9 L633.6,1867.9 L633.6,1700.7 Z" fill="url(#gNf)" stroke="none"/>
<path d="M633.6,1700.7 C635.7,1701.6 648.9,1707.8 654.1,1709.2 C659.3,1710.7 683.5,1713.8 685.7,1715.2 C687.9,1716.6 677.4,1721.4 676.3,1722.9 C675.2,1724.3 675.6,1728.3 674.6,1729.7 C673.6,1731.1 666.7,1735.5 666.1,1736.5 C665.4,1737.6 664.2,1739.1 667.8,1739.9 C671.3,1740.8 696.7,1744.2 701.9,1745.1 C707.1,1745.9 720.3,1748.0 719.8,1748.8 C719.3,1749.7 702.5,1752.4 696.8,1753.6 C691.1,1754.7 665.9,1759.2 662.6,1760.4 C659.4,1761.6 661.8,1764.3 664.4,1765.5 C666.9,1766.7 684.3,1771.2 688.2,1772.4 C692.2,1773.5 703.2,1776.3 703.6,1777.5 C703.9,1778.7 692.7,1783.3 691.6,1784.3 C690.6,1785.3 692.0,1786.9 693.4,1787.7 C694.7,1788.6 705.8,1791.8 705.3,1792.8 C704.8,1793.8 693.4,1796.6 688.2,1797.9 C683.1,1799.3 657.5,1805.3 654.1,1806.5 C650.7,1807.7 651.6,1809.0 654.1,1809.9 C656.7,1810.7 675.3,1814.0 679.7,1815.0 C684.1,1816.0 697.6,1819.1 698.5,1820.1 C699.3,1821.1 690.8,1824.0 688.2,1825.2 C685.7,1826.4 674.2,1831.0 672.9,1832.1 C671.5,1833.1 672.6,1834.3 674.6,1835.5 C676.6,1836.7 691.5,1842.6 692.5,1844.0 C693.5,1845.4 688.7,1847.8 684.8,1849.1 C681.0,1850.5 659.2,1855.6 654.1,1857.6 C649.0,1859.7 635.7,1868.4 633.6,1869.6" fill="none" stroke="#8a8a8a" stroke-width="2"/>
<path d="M633.6,1700.7 C634.2,1701.2 636.1,1704.4 638.8,1705.8 C641.4,1707.3 658.3,1713.7 660.1,1715.2 C661.9,1716.7 657.1,1719.7 656.7,1721.2 C656.3,1722.6 656.4,1728.2 655.8,1729.7 C655.2,1731.2 651.0,1735.5 650.7,1736.5 C650.4,1737.6 650.7,1739.1 652.4,1739.9 C654.1,1740.8 665.1,1744.2 667.8,1745.1 C670.4,1745.9 679.0,1748.0 678.9,1748.8 C678.7,1749.7 669.0,1752.4 666.1,1753.6 C663.1,1754.7 650.4,1759.2 649.0,1760.4 C647.6,1761.6 650.7,1764.3 652.4,1765.5 C654.1,1766.7 664.2,1771.2 666.1,1772.4 C667.9,1773.5 671.2,1776.3 671.2,1777.5 C671.2,1778.7 666.4,1783.3 666.1,1784.3 C665.7,1785.3 666.9,1786.9 667.8,1787.7 C668.6,1788.6 674.9,1791.6 674.6,1792.8 C674.2,1794.0 667.3,1798.3 664.4,1799.6 C661.5,1801.0 647.1,1805.4 645.6,1806.5 C644.1,1807.5 647.1,1809.0 649.0,1809.9 C650.9,1810.7 662.2,1814.0 664.4,1815.0 C666.5,1816.0 670.3,1819.1 670.3,1820.1 C670.3,1821.1 665.7,1824.0 664.4,1825.2 C663.0,1826.4 657.4,1831.0 656.7,1832.1 C656.0,1833.1 656.2,1834.3 657.5,1835.5 C658.9,1836.7 669.6,1842.6 670.3,1844.0 C671.0,1845.4 666.8,1847.8 664.4,1849.1 C661.9,1850.5 648.7,1855.8 645.6,1857.6 C642.5,1859.5 634.8,1866.9 633.6,1867.9" fill="none" stroke="#2b4cf5" stroke-width="2"/>
<path d="M634.0,1700.7 C634.1,1704.5 635.2,1729.4 635.4,1738.2 C635.5,1747.1 635.7,1779.2 635.7,1789.4 C635.7,1799.6 635.2,1832.7 635.0,1840.6 C634.8,1848.4 634.1,1865.2 634.0,1867.9" fill="none" stroke="#3fc43f" stroke-width="1.6"/>
<path d="M633.6,1699.9 C634.0,1700.3 633.3,1703.2 637.1,1704.1 C640.8,1705.1 663.3,1708.1 671.2,1709.2 C679.0,1710.3 712.5,1713.7 715.5,1715.2 C718.6,1716.7 703.4,1723.1 701.9,1724.6 C700.3,1726.0 701.9,1728.5 700.2,1729.7 C698.5,1730.9 686.2,1735.5 684.8,1736.5 C683.5,1737.6 681.1,1739.1 686.5,1739.9 C692.0,1740.8 730.9,1744.2 739.4,1745.1 C747.9,1745.9 771.8,1748.0 771.8,1748.8 C771.8,1749.7 748.5,1752.4 739.4,1753.6 C730.4,1754.7 687.4,1759.4 681.4,1760.4 C675.4,1761.4 677.3,1763.0 679.7,1763.8 C682.1,1764.7 698.8,1767.6 705.3,1768.9 C711.8,1770.3 742.1,1775.9 744.5,1777.5 C746.9,1779.0 730.7,1783.4 729.2,1784.3 C727.6,1785.2 726.8,1786.0 729.2,1786.9 C731.6,1787.7 753.7,1791.5 753.1,1792.8 C752.4,1794.1 730.9,1798.3 722.4,1799.6 C713.8,1801.0 673.2,1805.4 667.8,1806.5 C662.3,1807.5 664.0,1809.0 667.8,1809.9 C671.5,1810.7 698.1,1814.0 705.3,1815.0 C712.5,1816.0 736.9,1819.1 739.4,1820.1 C742.0,1821.1 734.8,1824.0 730.9,1825.2 C727.0,1826.4 703.2,1831.0 700.2,1832.1 C697.1,1833.1 696.9,1834.3 700.2,1835.5 C703.4,1836.7 730.4,1842.6 732.6,1844.0 C734.8,1845.4 728.5,1847.8 722.4,1849.1 C716.2,1850.5 679.7,1855.9 671.2,1857.6 C662.6,1859.4 640.8,1864.8 637.1,1866.2 C633.3,1867.5 634.0,1870.8 633.6,1871.3" fill="none" stroke="#222" stroke-width="2" stroke-dasharray="2,2.2"/>
</g>
<rect x="633.6" y="1410.0" width="264.4" height="542.0" fill="none" stroke="#1c1c1c" stroke-width="2.0"/>
<line x1="627.6" y1="1409.5" x2="633.6" y2="1409.5" stroke="#1a1a1a" stroke-width="1.6"/>
<line x1="627.6" y1="1545.2" x2="633.6" y2="1545.2" stroke="#1a1a1a" stroke-width="1.6"/>
<line x1="627.6" y1="1681.0" x2="633.6" y2="1681.0" stroke="#1a1a1a" stroke-width="1.6"/>
<line x1="627.6" y1="1816.8" x2="633.6" y2="1816.8" stroke="#1a1a1a" stroke-width="1.6"/>
<line x1="627.6" y1="1952.5" x2="633.6" y2="1952.5" stroke="#1a1a1a" stroke-width="1.6"/>
<line x1="633.6" y1="1952.0" x2="633.6" y2="1958.0" stroke="#1a1a1a" stroke-width="1.6"/>
<line x1="708.7" y1="1952.0" x2="708.7" y2="1958.0" stroke="#1a1a1a" stroke-width="1.6"/>
<line x1="784.6" y1="1952.0" x2="784.6" y2="1958.0" stroke="#1a1a1a" stroke-width="1.6"/>
<line x1="860.5" y1="1952.0" x2="860.5" y2="1958.0" stroke="#1a1a1a" stroke-width="1.6"/>
<line x1="800.3" y1="1430.9" x2="813.2" y2="1430.9" stroke="#8c8c8c" stroke-width="3"/>
<text transform="translate(831.5,1441.0) scale(1,1.1)" x="0" y="0" font-size="25.3" font-family="'DejaVu Sans', sans-serif" fill="#111">C</text>
<line x1="800.3" y1="1467.4" x2="813.2" y2="1467.4" stroke="#2b4cf5" stroke-width="3"/>
<text transform="translate(831.5,1477.4) scale(1,1.1)" x="0" y="0" font-size="25.3" font-family="'DejaVu Sans', sans-serif" fill="#111">N</text>
<line x1="800.3" y1="1506.7" x2="813.2" y2="1506.7" stroke="#3fc43f" stroke-width="3"/>
<text transform="translate(831.5,1516.6) scale(1,1.1)" x="0" y="0" font-size="25.3" font-family="'DejaVu Sans', sans-serif" fill="#111">Ni</text>
<rect x="801.3" y="1544.2" width="2.6" height="2.6" fill="#111"/><rect x="808.3" y="1544.2" width="2.6" height="2.6" fill="#111"/>
<text transform="translate(831.5,1555.0) scale(1,1.1)" x="0" y="0" font-size="25.3" font-family="'DejaVu Sans', sans-serif" fill="#111">total</text>
<text x="764.6" y="1996.7" font-size="34.0" text-anchor="middle" font-family="'Liberation Sans', Arial, sans-serif" >DOS</text>
<defs><radialGradient id="sR" cx="0.5" cy="0.5" r="0.5" fx="0.36" fy="0.3"><stop offset="0" stop-color="#ffffff"/><stop offset="0.22" stop-color="#ff7070"/><stop offset="0.55" stop-color="#ff0000"/><stop offset="1" stop-color="#d80000"/></radialGradient><radialGradient id="sB" cx="0.5" cy="0.5" r="0.5" fx="0.36" fy="0.3"><stop offset="0" stop-color="#ffffff"/><stop offset="0.22" stop-color="#7070ff"/><stop offset="0.55" stop-color="#0000ff"/><stop offset="1" stop-color="#0000c8"/></radialGradient><radialGradient id="sG" cx="0.5" cy="0.5" r="0.5" fx="0.36" fy="0.3"><stop offset="0" stop-color="#ffffff"/><stop offset="0.22" stop-color="#60a860"/><stop offset="0.55" stop-color="#007f00"/><stop offset="1" stop-color="#006000"/></radialGradient></defs>
<defs><clipPath id="cpg"><rect x="1180.9" y="1398.2" width="467.6" height="550.1"/></clipPath></defs>
<g clip-path="url(#cpg)">
<path d="M1177.2,1467.7 L1187.5,1468.0 L1197.8,1468.2 L1208.1,1468.3 L1218.4,1468.6 L1228.7,1468.8 L1238.9,1469.1 L1249.2,1469.5 L1259.5,1469.8 L1269.8,1470.2 L1280.1,1470.7 L1290.4,1471.2 L1300.7,1471.7 L1311.0,1472.3 L1321.3,1472.9 L1331.6,1473.5 L1341.8,1474.2 L1352.1,1475.0 L1362.4,1475.7 L1372.7,1476.5 L1383.0,1477.4 L1393.3,1478.3 L1403.6,1479.2 L1413.9,1480.1 L1424.2,1481.1 L1434.5,1482.2 L1444.7,1483.3 L1455.0,1484.4 L1465.3,1485.5 L1475.6,1486.7 L1485.9,1488.0 L1496.2,1489.2 L1506.5,1490.6 L1516.8,1491.9 L1527.1,1493.3 L1537.4,1494.7 L1547.6,1496.2 L1557.9,1497.7 L1568.2,1499.3 L1578.5,1500.9 L1588.8,1502.5 L1599.1,1504.1 L1609.4,1505.9 L1619.7,1507.6 L1630.0,1509.4 L1640.3,1511.2 L1650.5,1513.1" fill="none" stroke="#ff5555" stroke-width="1"/>
<circle cx="1177.2" cy="1467.7" r="4.9" fill="url(#sR)"/>
<circle cx="1187.5" cy="1468.0" r="4.9" fill="url(#sR)"/>
<circle cx="1197.8" cy="1468.2" r="4.9" fill="url(#sR)"/>
<circle cx="1208.1" cy="1468.3" r="4.9" fill="url(#sR)"/>
<circle cx="1218.4" cy="1468.6" r="4.9" fill="url(#sR)"/>
<circle cx="1228.7" cy="1468.8" r="4.9" fill="url(#sR)"/>
<circle cx="1238.9" cy="1469.1" r="4.9" fill="url(#sR)"/>
<circle cx="1249.2" cy="1469.5" r="4.9" fill="url(#sR)"/>
<circle cx="1259.5" cy="1469.8" r="4.9" fill="url(#sR)"/>
<circle cx="1269.8" cy="1470.2" r="4.9" fill="url(#sR)"/>
<circle cx="1280.1" cy="1470.7" r="4.9" fill="url(#sR)"/>
<circle cx="1290.4" cy="1471.2" r="4.9" fill="url(#sR)"/>
<circle cx="1300.7" cy="1471.7" r="4.9" fill="url(#sR)"/>
<circle cx="1311.0" cy="1472.3" r="4.9" fill="url(#sR)"/>
<circle cx="1321.3" cy="1472.9" r="4.9" fill="url(#sR)"/>
<circle cx="1331.6" cy="1473.5" r="4.9" fill="url(#sR)"/>
<circle cx="1341.8" cy="1474.2" r="4.9" fill="url(#sR)"/>
<circle cx="1352.1" cy="1475.0" r="4.9" fill="url(#sR)"/>
<circle cx="1362.4" cy="1475.7" r="4.9" fill="url(#sR)"/>
<circle cx="1372.7" cy="1476.5" r="4.9" fill="url(#sR)"/>
<circle cx="1383.0" cy="1477.4" r="4.9" fill="url(#sR)"/>
<circle cx="1393.3" cy="1478.3" r="4.9" fill="url(#sR)"/>
<circle cx="1403.6" cy="1479.2" r="4.9" fill="url(#sR)"/>
<circle cx="1413.9" cy="1480.1" r="4.9" fill="url(#sR)"/>
<circle cx="1424.2" cy="1481.1" r="4.9" fill="url(#sR)"/>
<circle cx="1434.5" cy="1482.2" r="4.9" fill="url(#sR)"/>
<circle cx="1444.7" cy="1483.3" r="4.9" fill="url(#sR)"/>
<circle cx="1455.0" cy="1484.4" r="4.9" fill="url(#sR)"/>
<circle cx="1465.3" cy="1485.5" r="4.9" fill="url(#sR)"/>
<circle cx="1475.6" cy="1486.7" r="4.9" fill="url(#sR)"/>
<circle cx="1485.9" cy="1488.0" r="4.9" fill="url(#sR)"/>
<circle cx="1496.2" cy="1489.2" r="4.9" fill="url(#sR)"/>
<circle cx="1506.5" cy="1490.6" r="4.9" fill="url(#sR)"/>
<circle cx="1516.8" cy="1491.9" r="4.9" fill="url(#sR)"/>
<circle cx="1527.1" cy="1493.3" r="4.9" fill="url(#sR)"/>
<circle cx="1537.4" cy="1494.7" r="4.9" fill="url(#sR)"/>
<circle cx="1547.6" cy="1496.2" r="4.9" fill="url(#sR)"/>
<circle cx="1557.9" cy="1497.7" r="4.9" fill="url(#sR)"/>
<circle cx="1568.2" cy="1499.3" r="4.9" fill="url(#sR)"/>
<circle cx="1578.5" cy="1500.9" r="4.9" fill="url(#sR)"/>
<circle cx="1588.8" cy="1502.5" r="4.9" fill="url(#sR)"/>
<circle cx="1599.1" cy="1504.1" r="4.9" fill="url(#sR)"/>
<circle cx="1609.4" cy="1505.9" r="4.9" fill="url(#sR)"/>
<circle cx="1619.7" cy="1507.6" r="4.9" fill="url(#sR)"/>
<circle cx="1630.0" cy="1509.4" r="4.9" fill="url(#sR)"/>
<circle cx="1640.3" cy="1511.2" r="4.9" fill="url(#sR)"/>
<circle cx="1650.5" cy="1513.1" r="4.9" fill="url(#sR)"/>
<path d="M1177.2,1840.9 L1187.5,1840.9 L1197.8,1841.0 L1208.1,1841.1 L1218.4,1841.2 L1228.7,1841.4 L1238.9,1841.5 L1249.2,1841.6 L1259.5,1841.8 L1269.8,1841.9 L1280.1,1842.0 L1290.4,1842.2 L1300.7,1842.4 L1311.0,1842.5 L1321.3,1842.7 L1331.6,1842.8 L1341.8,1843.0 L1352.1,1843.2 L1362.4,1843.3 L1372.7,1843.5 L1383.0,1843.7 L1393.3,1843.9 L1403.6,1844.1 L1413.9,1844.3 L1424.2,1844.5 L1434.5,1844.7 L1444.7,1844.9 L1455.0,1845.1 L1465.3,1845.3 L1475.6,1845.5 L1485.9,1845.7 L1496.2,1845.9 L1506.5,1846.2 L1516.8,1846.4 L1527.1,1846.6 L1537.4,1846.8 L1547.6,1847.1 L1557.9,1847.3 L1568.2,1847.6 L1578.5,1847.8 L1588.8,1848.1 L1599.1,1848.3 L1609.4,1848.6 L1619.7,1848.9 L1630.0,1849.1 L1640.3,1849.4 L1650.5,1849.7" fill="none" stroke="#ff5555" stroke-width="1"/>
<rect x="1173.9" y="1837.6" width="6.6" height="6.6" fill="#fff" stroke="#ff0000" stroke-width="1.3"/>
<rect x="1184.2" y="1837.6" width="6.6" height="6.6" fill="#fff" stroke="#ff0000" stroke-width="1.3"/>
<rect x="1194.5" y="1837.7" width="6.6" height="6.6" fill="#fff" stroke="#ff0000" stroke-width="1.3"/>
<rect x="1204.8" y="1837.8" width="6.6" height="6.6" fill="#fff" stroke="#ff0000" stroke-width="1.3"/>
<rect x="1215.1" y="1837.9" width="6.6" height="6.6" fill="#fff" stroke="#ff0000" stroke-width="1.3"/>
<rect x="1225.4" y="1838.1" width="6.6" height="6.6" fill="#fff" stroke="#ff0000" stroke-width="1.3"/>
<rect x="1235.6" y="1838.2" width="6.6" height="6.6" fill="#fff" stroke="#ff0000" stroke-width="1.3"/>
<rect x="1245.9" y="1838.3" width="6.6" height="6.6" fill="#fff" stroke="#ff0000" stroke-width="1.3"/>
<rect x="1256.2" y="1838.5" width="6.6" height="6.6" fill="#fff" stroke="#ff0000" stroke-width="1.3"/>
<rect x="1266.5" y="1838.6" width="6.6" height="6.6" fill="#fff" stroke="#ff0000" stroke-width="1.3"/>
<rect x="1276.8" y="1838.7" width="6.6" height="6.6" fill="#fff" stroke="#ff0000" stroke-width="1.3"/>
<rect x="1287.1" y="1838.9" width="6.6" height="6.6" fill="#fff" stroke="#ff0000" stroke-width="1.3"/>
<rect x="1297.4" y="1839.1" width="6.6" height="6.6" fill="#fff" stroke="#ff0000" stroke-width="1.3"/>
<rect x="1307.7" y="1839.2" width="6.6" height="6.6" fill="#fff" stroke="#ff0000" stroke-width="1.3"/>
<rect x="1318.0" y="1839.4" width="6.6" height="6.6" fill="#fff" stroke="#ff0000" stroke-width="1.3"/>
<rect x="1328.3" y="1839.5" width="6.6" height="6.6" fill="#fff" stroke="#ff0000" stroke-width="1.3"/>
<rect x="1338.5" y="1839.7" width="6.6" height="6.6" fill="#fff" stroke="#ff0000" stroke-width="1.3"/>
<rect x="1348.8" y="1839.9" width="6.6" height="6.6" fill="#fff" stroke="#ff0000" stroke-width="1.3"/>
<rect x="1359.1" y="1840.0" width="6.6" height="6.6" fill="#fff" stroke="#ff0000" stroke-width="1.3"/>
<rect x="1369.4" y="1840.2" width="6.6" height="6.6" fill="#fff" stroke="#ff0000" stroke-width="1.3"/>
<rect x="1379.7" y="1840.4" width="6.6" height="6.6" fill="#fff" stroke="#ff0000" stroke-width="1.3"/>
<rect x="1390.0" y="1840.6" width="6.6" height="6.6" fill="#fff" stroke="#ff0000" stroke-width="1.3"/>
<rect x="1400.3" y="1840.8" width="6.6" height="6.6" fill="#fff" stroke="#ff0000" stroke-width="1.3"/>
<rect x="1410.6" y="1841.0" width="6.6" height="6.6" fill="#fff" stroke="#ff0000" stroke-width="1.3"/>
<rect x="1420.9" y="1841.2" width="6.6" height="6.6" fill="#fff" stroke="#ff0000" stroke-width="1.3"/>
<rect x="1431.2" y="1841.4" width="6.6" height="6.6" fill="#fff" stroke="#ff0000" stroke-width="1.3"/>
<rect x="1441.4" y="1841.6" width="6.6" height="6.6" fill="#fff" stroke="#ff0000" stroke-width="1.3"/>
<rect x="1451.7" y="1841.8" width="6.6" height="6.6" fill="#fff" stroke="#ff0000" stroke-width="1.3"/>
<rect x="1462.0" y="1842.0" width="6.6" height="6.6" fill="#fff" stroke="#ff0000" stroke-width="1.3"/>
<rect x="1472.3" y="1842.2" width="6.6" height="6.6" fill="#fff" stroke="#ff0000" stroke-width="1.3"/>
<rect x="1482.6" y="1842.4" width="6.6" height="6.6" fill="#fff" stroke="#ff0000" stroke-width="1.3"/>
<rect x="1492.9" y="1842.6" width="6.6" height="6.6" fill="#fff" stroke="#ff0000" stroke-width="1.3"/>
<rect x="1503.2" y="1842.9" width="6.6" height="6.6" fill="#fff" stroke="#ff0000" stroke-width="1.3"/>
<rect x="1513.5" y="1843.1" width="6.6" height="6.6" fill="#fff" stroke="#ff0000" stroke-width="1.3"/>
<rect x="1523.8" y="1843.3" width="6.6" height="6.6" fill="#fff" stroke="#ff0000" stroke-width="1.3"/>
<rect x="1534.1" y="1843.5" width="6.6" height="6.6" fill="#fff" stroke="#ff0000" stroke-width="1.3"/>
<rect x="1544.3" y="1843.8" width="6.6" height="6.6" fill="#fff" stroke="#ff0000" stroke-width="1.3"/>
<rect x="1554.6" y="1844.0" width="6.6" height="6.6" fill="#fff" stroke="#ff0000" stroke-width="1.3"/>
<rect x="1564.9" y="1844.3" width="6.6" height="6.6" fill="#fff" stroke="#ff0000" stroke-width="1.3"/>
<rect x="1575.2" y="1844.5" width="6.6" height="6.6" fill="#fff" stroke="#ff0000" stroke-width="1.3"/>
<rect x="1585.5" y="1844.8" width="6.6" height="6.6" fill="#fff" stroke="#ff0000" stroke-width="1.3"/>
<rect x="1595.8" y="1845.0" width="6.6" height="6.6" fill="#fff" stroke="#ff0000" stroke-width="1.3"/>
<rect x="1606.1" y="1845.3" width="6.6" height="6.6" fill="#fff" stroke="#ff0000" stroke-width="1.3"/>
<rect x="1616.4" y="1845.6" width="6.6" height="6.6" fill="#fff" stroke="#ff0000" stroke-width="1.3"/>
<rect x="1626.7" y="1845.8" width="6.6" height="6.6" fill="#fff" stroke="#ff0000" stroke-width="1.3"/>
<rect x="1637.0" y="1846.1" width="6.6" height="6.6" fill="#fff" stroke="#ff0000" stroke-width="1.3"/>
<rect x="1647.2" y="1846.4" width="6.6" height="6.6" fill="#fff" stroke="#ff0000" stroke-width="1.3"/>
<path d="M1175.7,1820.1 L1186.0,1820.1 L1196.3,1820.4 L1206.6,1820.7 L1216.9,1820.9 L1227.2,1821.2 L1237.4,1821.5 L1247.7,1821.8 L1258.0,1822.0 L1268.3,1822.3 L1278.6,1822.6 L1288.9,1822.8 L1299.2,1823.1 L1309.5,1823.3 L1319.8,1823.6 L1330.1,1823.9 L1340.3,1824.1 L1350.6,1824.4 L1360.9,1824.6 L1371.2,1824.9 L1381.5,1825.1 L1391.8,1825.4 L1402.1,1825.6 L1412.4,1825.9 L1422.7,1826.1 L1433.0,1826.4 L1443.2,1826.6 L1453.5,1826.8 L1463.8,1827.1 L1474.1,1827.3 L1484.4,1827.6 L1494.7,1827.8 L1505.0,1828.0 L1515.3,1828.3 L1525.6,1828.5 L1535.9,1828.7 L1546.1,1829.0 L1556.4,1829.2 L1566.7,1829.4 L1577.0,1829.7 L1587.3,1829.9 L1597.6,1830.1 L1607.9,1830.3 L1618.2,1830.5 L1628.5,1830.8 L1638.8,1831.0 L1649.0,1831.2" fill="none" stroke="#ff5555" stroke-width="1"/>
<path d="M1171.5,1815.4 L1180.4,1820.1 L1171.5,1824.8 Z" fill="#ff0000"/>
<path d="M1181.8,1815.4 L1190.7,1820.1 L1181.8,1824.8 Z" fill="#ff0000"/>
<path d="M1192.1,1815.7 L1201.0,1820.4 L1192.1,1825.1 Z" fill="#ff0000"/>
<path d="M1202.4,1816.0 L1211.3,1820.7 L1202.4,1825.4 Z" fill="#ff0000"/>
<path d="M1212.7,1816.2 L1221.6,1820.9 L1212.7,1825.6 Z" fill="#ff0000"/>
<path d="M1223.0,1816.5 L1231.9,1821.2 L1223.0,1825.9 Z" fill="#ff0000"/>
<path d="M1233.2,1816.8 L1242.1,1821.5 L1233.2,1826.2 Z" fill="#ff0000"/>
<path d="M1243.5,1817.1 L1252.4,1821.8 L1243.5,1826.5 Z" fill="#ff0000"/>
<path d="M1253.8,1817.3 L1262.7,1822.0 L1253.8,1826.7 Z" fill="#ff0000"/>
<path d="M1264.1,1817.6 L1273.0,1822.3 L1264.1,1827.0 Z" fill="#ff0000"/>
<path d="M1274.4,1817.9 L1283.3,1822.6 L1274.4,1827.3 Z" fill="#ff0000"/>
<path d="M1284.7,1818.1 L1293.6,1822.8 L1284.7,1827.5 Z" fill="#ff0000"/>
<path d="M1295.0,1818.4 L1303.9,1823.1 L1295.0,1827.8 Z" fill="#ff0000"/>
<path d="M1305.3,1818.6 L1314.2,1823.3 L1305.3,1828.0 Z" fill="#ff0000"/>
<path d="M1315.6,1818.9 L1324.5,1823.6 L1315.6,1828.3 Z" fill="#ff0000"/>
<path d="M1325.9,1819.2 L1334.8,1823.9 L1325.9,1828.6 Z" fill="#ff0000"/>
<path d="M1336.1,1819.4 L1345.0,1824.1 L1336.1,1828.8 Z" fill="#ff0000"/>
<path d="M1346.4,1819.7 L1355.3,1824.4 L1346.4,1829.1 Z" fill="#ff0000"/>
<path d="M1356.7,1819.9 L1365.6,1824.6 L1356.7,1829.3 Z" fill="#ff0000"/>
<path d="M1367.0,1820.2 L1375.9,1824.9 L1367.0,1829.6 Z" fill="#ff0000"/>
<path d="M1377.3,1820.4 L1386.2,1825.1 L1377.3,1829.8 Z" fill="#ff0000"/>
<path d="M1387.6,1820.7 L1396.5,1825.4 L1387.6,1830.1 Z" fill="#ff0000"/>
<path d="M1397.9,1820.9 L1406.8,1825.6 L1397.9,1830.3 Z" fill="#ff0000"/>
<path d="M1408.2,1821.2 L1417.1,1825.9 L1408.2,1830.6 Z" fill="#ff0000"/>
<path d="M1418.5,1821.4 L1427.4,1826.1 L1418.5,1830.8 Z" fill="#ff0000"/>
<path d="M1428.8,1821.7 L1437.7,1826.4 L1428.8,1831.1 Z" fill="#ff0000"/>
<path d="M1439.0,1821.9 L1447.9,1826.6 L1439.0,1831.3 Z" fill="#ff0000"/>
<path d="M1449.3,1822.1 L1458.2,1826.8 L1449.3,1831.5 Z" fill="#ff0000"/>
<path d="M1459.6,1822.4 L1468.5,1827.1 L1459.6,1831.8 Z" fill="#ff0000"/>
<path d="M1469.9,1822.6 L1478.8,1827.3 L1469.9,1832.0 Z" fill="#ff0000"/>
<path d="M1480.2,1822.9 L1489.1,1827.6 L1480.2,1832.3 Z" fill="#ff0000"/>
<path d="M1490.5,1823.1 L1499.4,1827.8 L1490.5,1832.5 Z" fill="#ff0000"/>
<path d="M1500.8,1823.3 L1509.7,1828.0 L1500.8,1832.7 Z" fill="#ff0000"/>
<path d="M1511.1,1823.6 L1520.0,1828.3 L1511.1,1833.0 Z" fill="#ff0000"/>
<path d="M1521.4,1823.8 L1530.3,1828.5 L1521.4,1833.2 Z" fill="#ff0000"/>
<path d="M1531.7,1824.0 L1540.6,1828.7 L1531.7,1833.4 Z" fill="#ff0000"/>
<path d="M1541.9,1824.3 L1550.8,1829.0 L1541.9,1833.7 Z" fill="#ff0000"/>
<path d="M1552.2,1824.5 L1561.1,1829.2 L1552.2,1833.9 Z" fill="#ff0000"/>
<path d="M1562.5,1824.7 L1571.4,1829.4 L1562.5,1834.1 Z" fill="#ff0000"/>
<path d="M1572.8,1825.0 L1581.7,1829.7 L1572.8,1834.4 Z" fill="#ff0000"/>
<path d="M1583.1,1825.2 L1592.0,1829.9 L1583.1,1834.6 Z" fill="#ff0000"/>
<path d="M1593.4,1825.4 L1602.3,1830.1 L1593.4,1834.8 Z" fill="#ff0000"/>
<path d="M1603.7,1825.6 L1612.6,1830.3 L1603.7,1835.0 Z" fill="#ff0000"/>
<path d="M1614.0,1825.8 L1622.9,1830.5 L1614.0,1835.2 Z" fill="#ff0000"/>
<path d="M1624.3,1826.1 L1633.2,1830.8 L1624.3,1835.5 Z" fill="#ff0000"/>
<path d="M1634.6,1826.3 L1643.5,1831.0 L1634.6,1835.7 Z" fill="#ff0000"/>
<path d="M1644.8,1826.5 L1653.7,1831.2 L1644.8,1835.9 Z" fill="#ff0000"/>
<path d="M1181.4,1804.2 L1191.7,1804.5 L1202.0,1804.9 L1212.3,1805.3 L1222.6,1805.8 L1232.9,1806.3 L1243.1,1806.8 L1253.4,1807.3 L1263.7,1807.8 L1274.0,1808.4 L1284.3,1808.9 L1294.6,1809.5 L1304.9,1810.1 L1315.2,1810.7 L1325.5,1811.4 L1335.8,1812.0 L1346.0,1812.7 L1356.3,1813.4 L1366.6,1814.1 L1376.9,1814.8 L1387.2,1815.5 L1397.5,1816.3 L1407.8,1817.0 L1418.1,1817.8 L1428.4,1818.6 L1438.7,1819.4 L1448.9,1820.3 L1459.2,1821.1 L1469.5,1822.0 L1479.8,1822.9 L1490.1,1823.8 L1500.4,1824.7 L1510.7,1825.6 L1521.0,1826.6 L1531.3,1827.5 L1541.6,1828.5 L1551.8,1829.5 L1562.1,1830.5 L1572.4,1831.6 L1582.7,1832.6 L1593.0,1833.7 L1603.3,1834.8 L1613.6,1835.9 L1623.9,1837.0 L1634.2,1838.1 L1644.5,1839.3" fill="none" stroke="#5555ff" stroke-width="1"/>
<circle cx="1181.4" cy="1804.2" r="4.9" fill="url(#sB)"/>
<circle cx="1191.7" cy="1804.5" r="4.9" fill="url(#sB)"/>
<circle cx="1202.0" cy="1804.9" r="4.9" fill="url(#sB)"/>
<circle cx="1212.3" cy="1805.3" r="4.9" fill="url(#sB)"/>
<circle cx="1222.6" cy="1805.8" r="4.9" fill="url(#sB)"/>
<circle cx="1232.9" cy="1806.3" r="4.9" fill="url(#sB)"/>
<circle cx="1243.1" cy="1806.8" r="4.9" fill="url(#sB)"/>
<circle cx="1253.4" cy="1807.3" r="4.9" fill="url(#sB)"/>
<circle cx="1263.7" cy="1807.8" r="4.9" fill="url(#sB)"/>
<circle cx="1274.0" cy="1808.4" r="4.9" fill="url(#sB)"/>
<circle cx="1284.3" cy="1808.9" r="4.9" fill="url(#sB)"/>
<circle cx="1294.6" cy="1809.5" r="4.9" fill="url(#sB)"/>
<circle cx="1304.9" cy="1810.1" r="4.9" fill="url(#sB)"/>
<circle cx="1315.2" cy="1810.7" r="4.9" fill="url(#sB)"/>
<circle cx="1325.5" cy="1811.4" r="4.9" fill="url(#sB)"/>
<circle cx="1335.8" cy="1812.0" r="4.9" fill="url(#sB)"/>
<circle cx="1346.0" cy="1812.7" r="4.9" fill="url(#sB)"/>
<circle cx="1356.3" cy="1813.4" r="4.9" fill="url(#sB)"/>
<circle cx="1366.6" cy="1814.1" r="4.9" fill="url(#sB)"/>
<circle cx="1376.9" cy="1814.8" r="4.9" fill="url(#sB)"/>
<circle cx="1387.2" cy="1815.5" r="4.9" fill="url(#sB)"/>
<circle cx="1397.5" cy="1816.3" r="4.9" fill="url(#sB)"/>
<circle cx="1407.8" cy="1817.0" r="4.9" fill="url(#sB)"/>
<circle cx="1418.1" cy="1817.8" r="4.9" fill="url(#sB)"/>
<circle cx="1428.4" cy="1818.6" r="4.9" fill="url(#sB)"/>
<circle cx="1438.7" cy="1819.4" r="4.9" fill="url(#sB)"/>
<circle cx="1448.9" cy="1820.3" r="4.9" fill="url(#sB)"/>
<circle cx="1459.2" cy="1821.1" r="4.9" fill="url(#sB)"/>
<circle cx="1469.5" cy="1822.0" r="4.9" fill="url(#sB)"/>
<circle cx="1479.8" cy="1822.9" r="4.9" fill="url(#sB)"/>
<circle cx="1490.1" cy="1823.8" r="4.9" fill="url(#sB)"/>
<circle cx="1500.4" cy="1824.7" r="4.9" fill="url(#sB)"/>
<circle cx="1510.7" cy="1825.6" r="4.9" fill="url(#sB)"/>
<circle cx="1521.0" cy="1826.6" r="4.9" fill="url(#sB)"/>
<circle cx="1531.3" cy="1827.5" r="4.9" fill="url(#sB)"/>
<circle cx="1541.6" cy="1828.5" r="4.9" fill="url(#sB)"/>
<circle cx="1551.8" cy="1829.5" r="4.9" fill="url(#sB)"/>
<circle cx="1562.1" cy="1830.5" r="4.9" fill="url(#sB)"/>
<circle cx="1572.4" cy="1831.6" r="4.9" fill="url(#sB)"/>
<circle cx="1582.7" cy="1832.6" r="4.9" fill="url(#sB)"/>
<circle cx="1593.0" cy="1833.7" r="4.9" fill="url(#sB)"/>
<circle cx="1603.3" cy="1834.8" r="4.9" fill="url(#sB)"/>
<circle cx="1613.6" cy="1835.9" r="4.9" fill="url(#sB)"/>
<circle cx="1623.9" cy="1837.0" r="4.9" fill="url(#sB)"/>
<circle cx="1634.2" cy="1838.1" r="4.9" fill="url(#sB)"/>
<circle cx="1644.5" cy="1839.3" r="4.9" fill="url(#sB)"/>
<path d="M1177.2,1893.0 L1187.5,1893.0 L1197.8,1893.1 L1208.1,1893.2 L1218.4,1893.3 L1228.7,1893.4 L1238.9,1893.4 L1249.2,1893.5 L1259.5,1893.6 L1269.8,1893.7 L1280.1,1893.8 L1290.4,1893.8 L1300.7,1893.9 L1311.0,1894.0 L1321.3,1894.1 L1331.6,1894.2 L1341.8,1894.2 L1352.1,1894.3 L1362.4,1894.4 L1372.7,1894.5 L1383.0,1894.5 L1393.3,1894.6 L1403.6,1894.7 L1413.9,1894.8 L1424.2,1894.8 L1434.5,1894.9 L1444.7,1895.0 L1455.0,1895.0 L1465.3,1895.1 L1475.6,1895.2 L1485.9,1895.3 L1496.2,1895.3 L1506.5,1895.4 L1516.8,1895.5 L1527.1,1895.5 L1537.4,1895.6 L1547.6,1895.7 L1557.9,1895.7 L1568.2,1895.8 L1578.5,1895.9 L1588.8,1895.9 L1599.1,1896.0 L1609.4,1896.1 L1619.7,1896.1 L1630.0,1896.2 L1640.3,1896.2 L1650.5,1896.3" fill="none" stroke="#5555ff" stroke-width="1"/>
<rect x="1173.9" y="1889.7" width="6.6" height="6.6" fill="#fff" stroke="#0000ff" stroke-width="1.3"/>
<rect x="1184.2" y="1889.7" width="6.6" height="6.6" fill="#fff" stroke="#0000ff" stroke-width="1.3"/>
<rect x="1194.5" y="1889.8" width="6.6" height="6.6" fill="#fff" stroke="#0000ff" stroke-width="1.3"/>
<rect x="1204.8" y="1889.9" width="6.6" height="6.6" fill="#fff" stroke="#0000ff" stroke-width="1.3"/>
<rect x="1215.1" y="1890.0" width="6.6" height="6.6" fill="#fff" stroke="#0000ff" stroke-width="1.3"/>
<rect x="1225.4" y="1890.1" width="6.6" height="6.6" fill="#fff" stroke="#0000ff" stroke-width="1.3"/>
<rect x="1235.6" y="1890.1" width="6.6" height="6.6" fill="#fff" stroke="#0000ff" stroke-width="1.3"/>
<rect x="1245.9" y="1890.2" width="6.6" height="6.6" fill="#fff" stroke="#0000ff" stroke-width="1.3"/>
<rect x="1256.2" y="1890.3" width="6.6" height="6.6" fill="#fff" stroke="#0000ff" stroke-width="1.3"/>
<rect x="1266.5" y="1890.4" width="6.6" height="6.6" fill="#fff" stroke="#0000ff" stroke-width="1.3"/>
<rect x="1276.8" y="1890.5" width="6.6" height="6.6" fill="#fff" stroke="#0000ff" stroke-width="1.3"/>
<rect x="1287.1" y="1890.5" width="6.6" height="6.6" fill="#fff" stroke="#0000ff" stroke-width="1.3"/>
<rect x="1297.4" y="1890.6" width="6.6" height="6.6" fill="#fff" stroke="#0000ff" stroke-width="1.3"/>
<rect x="1307.7" y="1890.7" width="6.6" height="6.6" fill="#fff" stroke="#0000ff" stroke-width="1.3"/>
<rect x="1318.0" y="1890.8" width="6.6" height="6.6" fill="#fff" stroke="#0000ff" stroke-width="1.3"/>
<rect x="1328.3" y="1890.9" width="6.6" height="6.6" fill="#fff" stroke="#0000ff" stroke-width="1.3"/>
<rect x="1338.5" y="1890.9" width="6.6" height="6.6" fill="#fff" stroke="#0000ff" stroke-width="1.3"/>
<rect x="1348.8" y="1891.0" width="6.6" height="6.6" fill="#fff" stroke="#0000ff" stroke-width="1.3"/>
<rect x="1359.1" y="1891.1" width="6.6" height="6.6" fill="#fff" stroke="#0000ff" stroke-width="1.3"/>
<rect x="1369.4" y="1891.2" width="6.6" height="6.6" fill="#fff" stroke="#0000ff" stroke-width="1.3"/>
<rect x="1379.7" y="1891.2" width="6.6" height="6.6" fill="#fff" stroke="#0000ff" stroke-width="1.3"/>
<rect x="1390.0" y="1891.3" width="6.6" height="6.6" fill="#fff" stroke="#0000ff" stroke-width="1.3"/>
<rect x="1400.3" y="1891.4" width="6.6" height="6.6" fill="#fff" stroke="#0000ff" stroke-width="1.3"/>
<rect x="1410.6" y="1891.5" width="6.6" height="6.6" fill="#fff" stroke="#0000ff" stroke-width="1.3"/>
<rect x="1420.9" y="1891.5" width="6.6" height="6.6" fill="#fff" stroke="#0000ff" stroke-width="1.3"/>
<rect x="1431.2" y="1891.6" width="6.6" height="6.6" fill="#fff" stroke="#0000ff" stroke-width="1.3"/>
<rect x="1441.4" y="1891.7" width="6.6" height="6.6" fill="#fff" stroke="#0000ff" stroke-width="1.3"/>
<rect x="1451.7" y="1891.7" width="6.6" height="6.6" fill="#fff" stroke="#0000ff" stroke-width="1.3"/>
<rect x="1462.0" y="1891.8" width="6.6" height="6.6" fill="#fff" stroke="#0000ff" stroke-width="1.3"/>
<rect x="1472.3" y="1891.9" width="6.6" height="6.6" fill="#fff" stroke="#0000ff" stroke-width="1.3"/>
<rect x="1482.6" y="1892.0" width="6.6" height="6.6" fill="#fff" stroke="#0000ff" stroke-width="1.3"/>
<rect x="1492.9" y="1892.0" width="6.6" height="6.6" fill="#fff" stroke="#0000ff" stroke-width="1.3"/>
<rect x="1503.2" y="1892.1" width="6.6" height="6.6" fill="#fff" stroke="#0000ff" stroke-width="1.3"/>
<rect x="1513.5" y="1892.2" width="6.6" height="6.6" fill="#fff" stroke="#0000ff" stroke-width="1.3"/>
<rect x="1523.8" y="1892.2" width="6.6" height="6.6" fill="#fff" stroke="#0000ff" stroke-width="1.3"/>
<rect x="1534.1" y="1892.3" width="6.6" height="6.6" fill="#fff" stroke="#0000ff" stroke-width="1.3"/>
<rect x="1544.3" y="1892.4" width="6.6" height="6.6" fill="#fff" stroke="#0000ff" stroke-width="1.3"/>
<rect x="1554.6" y="1892.4" width="6.6" height="6.6" fill="#fff" stroke="#0000ff" stroke-width="1.3"/>
<rect x="1564.9" y="1892.5" width="6.6" height="6.6" fill="#fff" stroke="#0000ff" stroke-width="1.3"/>
<rect x="1575.2" y="1892.6" width="6.6" height="6.6" fill="#fff" stroke="#0000ff" stroke-width="1.3"/>
<rect x="1585.5" y="1892.6" width="6.6" height="6.6" fill="#fff" stroke="#0000ff" stroke-width="1.3"/>
<rect x="1595.8" y="1892.7" width="6.6" height="6.6" fill="#fff" stroke="#0000ff" stroke-width="1.3"/>
<rect x="1606.1" y="1892.8" width="6.6" height="6.6" fill="#fff" stroke="#0000ff" stroke-width="1.3"/>
<rect x="1616.4" y="1892.8" width="6.6" height="6.6" fill="#fff" stroke="#0000ff" stroke-width="1.3"/>
<rect x="1626.7" y="1892.9" width="6.6" height="6.6" fill="#fff" stroke="#0000ff" stroke-width="1.3"/>
<rect x="1637.0" y="1892.9" width="6.6" height="6.6" fill="#fff" stroke="#0000ff" stroke-width="1.3"/>
<rect x="1647.2" y="1893.0" width="6.6" height="6.6" fill="#fff" stroke="#0000ff" stroke-width="1.3"/>
<path d="M1175.7,1889.1 L1186.0,1889.1 L1196.3,1889.2 L1206.6,1889.3 L1216.9,1889.4 L1227.2,1889.5 L1237.4,1889.6 L1247.7,1889.7 L1258.0,1889.8 L1268.3,1889.9 L1278.6,1890.0 L1288.9,1890.1 L1299.2,1890.2 L1309.5,1890.3 L1319.8,1890.4 L1330.1,1890.6 L1340.3,1890.7 L1350.6,1890.8 L1360.9,1890.9 L1371.2,1891.0 L1381.5,1891.1 L1391.8,1891.2 L1402.1,1891.3 L1412.4,1891.4 L1422.7,1891.5 L1433.0,1891.6 L1443.2,1891.7 L1453.5,1891.8 L1463.8,1891.9 L1474.1,1892.0 L1484.4,1892.1 L1494.7,1892.2 L1505.0,1892.3 L1515.3,1892.4 L1525.6,1892.5 L1535.9,1892.6 L1546.1,1892.7 L1556.4,1892.8 L1566.7,1892.8 L1577.0,1892.9 L1587.3,1893.0 L1597.6,1893.1 L1607.9,1893.2 L1618.2,1893.3 L1628.5,1893.4 L1638.8,1893.5 L1649.0,1893.6" fill="none" stroke="#5555ff" stroke-width="1"/>
<path d="M1171.5,1884.4 L1180.4,1889.1 L1171.5,1893.8 Z" fill="#0000ff"/>
<path d="M1181.8,1884.4 L1190.7,1889.1 L1181.8,1893.8 Z" fill="#0000ff"/>
<path d="M1192.1,1884.5 L1201.0,1889.2 L1192.1,1893.9 Z" fill="#0000ff"/>
<path d="M1202.4,1884.6 L1211.3,1889.3 L1202.4,1894.0 Z" fill="#0000ff"/>
<path d="M1212.7,1884.7 L1221.6,1889.4 L1212.7,1894.1 Z" fill="#0000ff"/>
<path d="M1223.0,1884.8 L1231.9,1889.5 L1223.0,1894.2 Z" fill="#0000ff"/>
<path d="M1233.2,1884.9 L1242.1,1889.6 L1233.2,1894.3 Z" fill="#0000ff"/>
<path d="M1243.5,1885.0 L1252.4,1889.7 L1243.5,1894.4 Z" fill="#0000ff"/>
<path d="M1253.8,1885.1 L1262.7,1889.8 L1253.8,1894.5 Z" fill="#0000ff"/>
<path d="M1264.1,1885.2 L1273.0,1889.9 L1264.1,1894.6 Z" fill="#0000ff"/>
<path d="M1274.4,1885.3 L1283.3,1890.0 L1274.4,1894.7 Z" fill="#0000ff"/>
<path d="M1284.7,1885.4 L1293.6,1890.1 L1284.7,1894.8 Z" fill="#0000ff"/>
<path d="M1295.0,1885.5 L1303.9,1890.2 L1295.0,1894.9 Z" fill="#0000ff"/>
<path d="M1305.3,1885.6 L1314.2,1890.3 L1305.3,1895.0 Z" fill="#0000ff"/>
<path d="M1315.6,1885.7 L1324.5,1890.4 L1315.6,1895.1 Z" fill="#0000ff"/>
<path d="M1325.9,1885.9 L1334.8,1890.6 L1325.9,1895.3 Z" fill="#0000ff"/>
<path d="M1336.1,1886.0 L1345.0,1890.7 L1336.1,1895.4 Z" fill="#0000ff"/>
<path d="M1346.4,1886.1 L1355.3,1890.8 L1346.4,1895.5 Z" fill="#0000ff"/>
<path d="M1356.7,1886.2 L1365.6,1890.9 L1356.7,1895.6 Z" fill="#0000ff"/>
<path d="M1367.0,1886.3 L1375.9,1891.0 L1367.0,1895.7 Z" fill="#0000ff"/>
<path d="M1377.3,1886.4 L1386.2,1891.1 L1377.3,1895.8 Z" fill="#0000ff"/>
<path d="M1387.6,1886.5 L1396.5,1891.2 L1387.6,1895.9 Z" fill="#0000ff"/>
<path d="M1397.9,1886.6 L1406.8,1891.3 L1397.9,1896.0 Z" fill="#0000ff"/>
<path d="M1408.2,1886.7 L1417.1,1891.4 L1408.2,1896.1 Z" fill="#0000ff"/>
<path d="M1418.5,1886.8 L1427.4,1891.5 L1418.5,1896.2 Z" fill="#0000ff"/>
<path d="M1428.8,1886.9 L1437.7,1891.6 L1428.8,1896.3 Z" fill="#0000ff"/>
<path d="M1439.0,1887.0 L1447.9,1891.7 L1439.0,1896.4 Z" fill="#0000ff"/>
<path d="M1449.3,1887.1 L1458.2,1891.8 L1449.3,1896.5 Z" fill="#0000ff"/>
<path d="M1459.6,1887.2 L1468.5,1891.9 L1459.6,1896.6 Z" fill="#0000ff"/>
<path d="M1469.9,1887.3 L1478.8,1892.0 L1469.9,1896.7 Z" fill="#0000ff"/>
<path d="M1480.2,1887.4 L1489.1,1892.1 L1480.2,1896.8 Z" fill="#0000ff"/>
<path d="M1490.5,1887.5 L1499.4,1892.2 L1490.5,1896.9 Z" fill="#0000ff"/>
<path d="M1500.8,1887.6 L1509.7,1892.3 L1500.8,1897.0 Z" fill="#0000ff"/>
<path d="M1511.1,1887.7 L1520.0,1892.4 L1511.1,1897.1 Z" fill="#0000ff"/>
<path d="M1521.4,1887.8 L1530.3,1892.5 L1521.4,1897.2 Z" fill="#0000ff"/>
<path d="M1531.7,1887.9 L1540.6,1892.6 L1531.7,1897.3 Z" fill="#0000ff"/>
<path d="M1541.9,1888.0 L1550.8,1892.7 L1541.9,1897.4 Z" fill="#0000ff"/>
<path d="M1552.2,1888.1 L1561.1,1892.8 L1552.2,1897.5 Z" fill="#0000ff"/>
<path d="M1562.5,1888.1 L1571.4,1892.8 L1562.5,1897.5 Z" fill="#0000ff"/>
<path d="M1572.8,1888.2 L1581.7,1892.9 L1572.8,1897.6 Z" fill="#0000ff"/>
<path d="M1583.1,1888.3 L1592.0,1893.0 L1583.1,1897.7 Z" fill="#0000ff"/>
<path d="M1593.4,1888.4 L1602.3,1893.1 L1593.4,1897.8 Z" fill="#0000ff"/>
<path d="M1603.7,1888.5 L1612.6,1893.2 L1603.7,1897.9 Z" fill="#0000ff"/>
<path d="M1614.0,1888.6 L1622.9,1893.3 L1614.0,1898.0 Z" fill="#0000ff"/>
<path d="M1624.3,1888.7 L1633.2,1893.4 L1624.3,1898.1 Z" fill="#0000ff"/>
<path d="M1634.6,1888.8 L1643.5,1893.5 L1634.6,1898.2 Z" fill="#0000ff"/>
<path d="M1644.8,1888.9 L1653.7,1893.6 L1644.8,1898.3 Z" fill="#0000ff"/>
<path d="M1174.8,1810.8 L1185.1,1811.1 L1195.4,1811.6 L1205.7,1812.1 L1216.0,1812.6 L1226.3,1813.1 L1236.5,1813.6 L1246.8,1814.1 L1257.1,1814.6 L1267.4,1815.2 L1277.7,1815.7 L1288.0,1816.2 L1298.3,1816.7 L1308.6,1817.2 L1318.9,1817.8 L1329.2,1818.3 L1339.4,1818.8 L1349.7,1819.4 L1360.0,1819.9 L1370.3,1820.5 L1380.6,1821.0 L1390.9,1821.6 L1401.2,1822.1 L1411.5,1822.7 L1421.8,1823.3 L1432.1,1823.8 L1442.3,1824.4 L1452.6,1825.0 L1462.9,1825.6 L1473.2,1826.1 L1483.5,1826.7 L1493.8,1827.3 L1504.1,1827.9 L1514.4,1828.5 L1524.7,1829.1 L1535.0,1829.7 L1545.2,1830.3 L1555.5,1830.9 L1565.8,1831.5 L1576.1,1832.1 L1586.4,1832.7 L1596.7,1833.4 L1607.0,1834.0 L1617.3,1834.6 L1627.6,1835.2 L1637.9,1835.9 L1648.1,1836.5" fill="none" stroke="#339933" stroke-width="1"/>
<circle cx="1174.8" cy="1810.8" r="4.9" fill="url(#sG)"/>
<circle cx="1185.1" cy="1811.1" r="4.9" fill="url(#sG)"/>
<circle cx="1195.4" cy="1811.6" r="4.9" fill="url(#sG)"/>
<circle cx="1205.7" cy="1812.1" r="4.9" fill="url(#sG)"/>
<circle cx="1216.0" cy="1812.6" r="4.9" fill="url(#sG)"/>
<circle cx="1226.3" cy="1813.1" r="4.9" fill="url(#sG)"/>
<circle cx="1236.5" cy="1813.6" r="4.9" fill="url(#sG)"/>
<circle cx="1246.8" cy="1814.1" r="4.9" fill="url(#sG)"/>
<circle cx="1257.1" cy="1814.6" r="4.9" fill="url(#sG)"/>
<circle cx="1267.4" cy="1815.2" r="4.9" fill="url(#sG)"/>
<circle cx="1277.7" cy="1815.7" r="4.9" fill="url(#sG)"/>
<circle cx="1288.0" cy="1816.2" r="4.9" fill="url(#sG)"/>
<circle cx="1298.3" cy="1816.7" r="4.9" fill="url(#sG)"/>
<circle cx="1308.6" cy="1817.2" r="4.9" fill="url(#sG)"/>
<circle cx="1318.9" cy="1817.8" r="4.9" fill="url(#sG)"/>
<circle cx="1329.2" cy="1818.3" r="4.9" fill="url(#sG)"/>
<circle cx="1339.4" cy="1818.8" r="4.9" fill="url(#sG)"/>
<circle cx="1349.7" cy="1819.4" r="4.9" fill="url(#sG)"/>
<circle cx="1360.0" cy="1819.9" r="4.9" fill="url(#sG)"/>
<circle cx="1370.3" cy="1820.5" r="4.9" fill="url(#sG)"/>
<circle cx="1380.6" cy="1821.0" r="4.9" fill="url(#sG)"/>
<circle cx="1390.9" cy="1821.6" r="4.9" fill="url(#sG)"/>
<circle cx="1401.2" cy="1822.1" r="4.9" fill="url(#sG)"/>
<circle cx="1411.5" cy="1822.7" r="4.9" fill="url(#sG)"/>
<circle cx="1421.8" cy="1823.3" r="4.9" fill="url(#sG)"/>
<circle cx="1432.1" cy="1823.8" r="4.9" fill="url(#sG)"/>
<circle cx="1442.3" cy="1824.4" r="4.9" fill="url(#sG)"/>
<circle cx="1452.6" cy="1825.0" r="4.9" fill="url(#sG)"/>
<circle cx="1462.9" cy="1825.6" r="4.9" fill="url(#sG)"/>
<circle cx="1473.2" cy="1826.1" r="4.9" fill="url(#sG)"/>
<circle cx="1483.5" cy="1826.7" r="4.9" fill="url(#sG)"/>
<circle cx="1493.8" cy="1827.3" r="4.9" fill="url(#sG)"/>
<circle cx="1504.1" cy="1827.9" r="4.9" fill="url(#sG)"/>
<circle cx="1514.4" cy="1828.5" r="4.9" fill="url(#sG)"/>
<circle cx="1524.7" cy="1829.1" r="4.9" fill="url(#sG)"/>
<circle cx="1535.0" cy="1829.7" r="4.9" fill="url(#sG)"/>
<circle cx="1545.2" cy="1830.3" r="4.9" fill="url(#sG)"/>
<circle cx="1555.5" cy="1830.9" r="4.9" fill="url(#sG)"/>
<circle cx="1565.8" cy="1831.5" r="4.9" fill="url(#sG)"/>
<circle cx="1576.1" cy="1832.1" r="4.9" fill="url(#sG)"/>
<circle cx="1586.4" cy="1832.7" r="4.9" fill="url(#sG)"/>
<circle cx="1596.7" cy="1833.4" r="4.9" fill="url(#sG)"/>
<circle cx="1607.0" cy="1834.0" r="4.9" fill="url(#sG)"/>
<circle cx="1617.3" cy="1834.6" r="4.9" fill="url(#sG)"/>
<circle cx="1627.6" cy="1835.2" r="4.9" fill="url(#sG)"/>
<circle cx="1637.9" cy="1835.9" r="4.9" fill="url(#sG)"/>
<circle cx="1648.1" cy="1836.5" r="4.9" fill="url(#sG)"/>
<path d="M1177.2,1903.4 L1187.5,1903.4 L1197.8,1903.3 L1208.1,1903.3 L1218.4,1903.3 L1228.7,1903.3 L1238.9,1903.2 L1249.2,1903.2 L1259.5,1903.2 L1269.8,1903.1 L1280.1,1903.1 L1290.4,1903.1 L1300.7,1903.0 L1311.0,1903.0 L1321.3,1903.0 L1331.6,1903.0 L1341.8,1902.9 L1352.1,1902.9 L1362.4,1902.9 L1372.7,1902.8 L1383.0,1902.8 L1393.3,1902.8 L1403.6,1902.7 L1413.9,1902.7 L1424.2,1902.7 L1434.5,1902.7 L1444.7,1902.6 L1455.0,1902.6 L1465.3,1902.6 L1475.6,1902.5 L1485.9,1902.5 L1496.2,1902.5 L1506.5,1902.4 L1516.8,1902.4 L1527.1,1902.4 L1537.4,1902.3 L1547.6,1902.3 L1557.9,1902.3 L1568.2,1902.2 L1578.5,1902.2 L1588.8,1902.2 L1599.1,1902.1 L1609.4,1902.1 L1619.7,1902.1 L1630.0,1902.0 L1640.3,1902.0 L1650.5,1902.0" fill="none" stroke="#339933" stroke-width="1"/>
<rect x="1173.9" y="1900.1" width="6.6" height="6.6" fill="#fff" stroke="#008000" stroke-width="1.3"/>
<rect x="1184.2" y="1900.1" width="6.6" height="6.6" fill="#fff" stroke="#008000" stroke-width="1.3"/>
<rect x="1194.5" y="1900.0" width="6.6" height="6.6" fill="#fff" stroke="#008000" stroke-width="1.3"/>
<rect x="1204.8" y="1900.0" width="6.6" height="6.6" fill="#fff" stroke="#008000" stroke-width="1.3"/>
<rect x="1215.1" y="1900.0" width="6.6" height="6.6" fill="#fff" stroke="#008000" stroke-width="1.3"/>
<rect x="1225.4" y="1900.0" width="6.6" height="6.6" fill="#fff" stroke="#008000" stroke-width="1.3"/>
<rect x="1235.6" y="1899.9" width="6.6" height="6.6" fill="#fff" stroke="#008000" stroke-width="1.3"/>
<rect x="1245.9" y="1899.9" width="6.6" height="6.6" fill="#fff" stroke="#008000" stroke-width="1.3"/>
<rect x="1256.2" y="1899.9" width="6.6" height="6.6" fill="#fff" stroke="#008000" stroke-width="1.3"/>
<rect x="1266.5" y="1899.8" width="6.6" height="6.6" fill="#fff" stroke="#008000" stroke-width="1.3"/>
<rect x="1276.8" y="1899.8" width="6.6" height="6.6" fill="#fff" stroke="#008000" stroke-width="1.3"/>
<rect x="1287.1" y="1899.8" width="6.6" height="6.6" fill="#fff" stroke="#008000" stroke-width="1.3"/>
<rect x="1297.4" y="1899.7" width="6.6" height="6.6" fill="#fff" stroke="#008000" stroke-width="1.3"/>
<rect x="1307.7" y="1899.7" width="6.6" height="6.6" fill="#fff" stroke="#008000" stroke-width="1.3"/>
<rect x="1318.0" y="1899.7" width="6.6" height="6.6" fill="#fff" stroke="#008000" stroke-width="1.3"/>
<rect x="1328.3" y="1899.7" width="6.6" height="6.6" fill="#fff" stroke="#008000" stroke-width="1.3"/>
<rect x="1338.5" y="1899.6" width="6.6" height="6.6" fill="#fff" stroke="#008000" stroke-width="1.3"/>
<rect x="1348.8" y="1899.6" width="6.6" height="6.6" fill="#fff" stroke="#008000" stroke-width="1.3"/>
<rect x="1359.1" y="1899.6" width="6.6" height="6.6" fill="#fff" stroke="#008000" stroke-width="1.3"/>
<rect x="1369.4" y="1899.5" width="6.6" height="6.6" fill="#fff" stroke="#008000" stroke-width="1.3"/>
<rect x="1379.7" y="1899.5" width="6.6" height="6.6" fill="#fff" stroke="#008000" stroke-width="1.3"/>
<rect x="1390.0" y="1899.5" width="6.6" height="6.6" fill="#fff" stroke="#008000" stroke-width="1.3"/>
<rect x="1400.3" y="1899.4" width="6.6" height="6.6" fill="#fff" stroke="#008000" stroke-width="1.3"/>
<rect x="1410.6" y="1899.4" width="6.6" height="6.6" fill="#fff" stroke="#008000" stroke-width="1.3"/>
<rect x="1420.9" y="1899.4" width="6.6" height="6.6" fill="#fff" stroke="#008000" stroke-width="1.3"/>
<rect x="1431.2" y="1899.4" width="6.6" height="6.6" fill="#fff" stroke="#008000" stroke-width="1.3"/>
<rect x="1441.4" y="1899.3" width="6.6" height="6.6" fill="#fff" stroke="#008000" stroke-width="1.3"/>
<rect x="1451.7" y="1899.3" width="6.6" height="6.6" fill="#fff" stroke="#008000" stroke-width="1.3"/>
<rect x="1462.0" y="1899.3" width="6.6" height="6.6" fill="#fff" stroke="#008000" stroke-width="1.3"/>
<rect x="1472.3" y="1899.2" width="6.6" height="6.6" fill="#fff" stroke="#008000" stroke-width="1.3"/>
<rect x="1482.6" y="1899.2" width="6.6" height="6.6" fill="#fff" stroke="#008000" stroke-width="1.3"/>
<rect x="1492.9" y="1899.2" width="6.6" height="6.6" fill="#fff" stroke="#008000" stroke-width="1.3"/>
<rect x="1503.2" y="1899.1" width="6.6" height="6.6" fill="#fff" stroke="#008000" stroke-width="1.3"/>
<rect x="1513.5" y="1899.1" width="6.6" height="6.6" fill="#fff" stroke="#008000" stroke-width="1.3"/>
<rect x="1523.8" y="1899.1" width="6.6" height="6.6" fill="#fff" stroke="#008000" stroke-width="1.3"/>
<rect x="1534.1" y="1899.0" width="6.6" height="6.6" fill="#fff" stroke="#008000" stroke-width="1.3"/>
<rect x="1544.3" y="1899.0" width="6.6" height="6.6" fill="#fff" stroke="#008000" stroke-width="1.3"/>
<rect x="1554.6" y="1899.0" width="6.6" height="6.6" fill="#fff" stroke="#008000" stroke-width="1.3"/>
<rect x="1564.9" y="1898.9" width="6.6" height="6.6" fill="#fff" stroke="#008000" stroke-width="1.3"/>
<rect x="1575.2" y="1898.9" width="6.6" height="6.6" fill="#fff" stroke="#008000" stroke-width="1.3"/>
<rect x="1585.5" y="1898.9" width="6.6" height="6.6" fill="#fff" stroke="#008000" stroke-width="1.3"/>
<rect x="1595.8" y="1898.8" width="6.6" height="6.6" fill="#fff" stroke="#008000" stroke-width="1.3"/>
<rect x="1606.1" y="1898.8" width="6.6" height="6.6" fill="#fff" stroke="#008000" stroke-width="1.3"/>
<rect x="1616.4" y="1898.8" width="6.6" height="6.6" fill="#fff" stroke="#008000" stroke-width="1.3"/>
<rect x="1626.7" y="1898.7" width="6.6" height="6.6" fill="#fff" stroke="#008000" stroke-width="1.3"/>
<rect x="1637.0" y="1898.7" width="6.6" height="6.6" fill="#fff" stroke="#008000" stroke-width="1.3"/>
<rect x="1647.2" y="1898.7" width="6.6" height="6.6" fill="#fff" stroke="#008000" stroke-width="1.3"/>
<path d="M1175.7,1908.0 L1186.0,1908.0 L1196.3,1908.1 L1206.6,1908.2 L1216.9,1908.4 L1227.2,1908.5 L1237.4,1908.6 L1247.7,1908.7 L1258.0,1908.8 L1268.3,1908.9 L1278.6,1909.0 L1288.9,1909.1 L1299.2,1909.2 L1309.5,1909.3 L1319.8,1909.4 L1330.1,1909.5 L1340.3,1909.6 L1350.6,1909.7 L1360.9,1909.8 L1371.2,1909.9 L1381.5,1910.0 L1391.8,1910.1 L1402.1,1910.2 L1412.4,1910.3 L1422.7,1910.4 L1433.0,1910.5 L1443.2,1910.6 L1453.5,1910.7 L1463.8,1910.9 L1474.1,1911.0 L1484.4,1911.1 L1494.7,1911.2 L1505.0,1911.3 L1515.3,1911.4 L1525.6,1911.5 L1535.9,1911.6 L1546.1,1911.7 L1556.4,1911.8 L1566.7,1911.9 L1577.0,1912.0 L1587.3,1912.0 L1597.6,1912.1 L1607.9,1912.2 L1618.2,1912.3 L1628.5,1912.4 L1638.8,1912.5 L1649.0,1912.6" fill="none" stroke="#339933" stroke-width="1"/>
<path d="M1171.5,1903.3 L1180.4,1908.0 L1171.5,1912.7 Z" fill="#008000"/>
<path d="M1181.8,1903.3 L1190.7,1908.0 L1181.8,1912.7 Z" fill="#008000"/>
<path d="M1192.1,1903.4 L1201.0,1908.1 L1192.1,1912.8 Z" fill="#008000"/>
<path d="M1202.4,1903.5 L1211.3,1908.2 L1202.4,1912.9 Z" fill="#008000"/>
<path d="M1212.7,1903.7 L1221.6,1908.4 L1212.7,1913.1 Z" fill="#008000"/>
<path d="M1223.0,1903.8 L1231.9,1908.5 L1223.0,1913.2 Z" fill="#008000"/>
<path d="M1233.2,1903.9 L1242.1,1908.6 L1233.2,1913.3 Z" fill="#008000"/>
<path d="M1243.5,1904.0 L1252.4,1908.7 L1243.5,1913.4 Z" fill="#008000"/>
<path d="M1253.8,1904.1 L1262.7,1908.8 L1253.8,1913.5 Z" fill="#008000"/>
<path d="M1264.1,1904.2 L1273.0,1908.9 L1264.1,1913.6 Z" fill="#008000"/>
<path d="M1274.4,1904.3 L1283.3,1909.0 L1274.4,1913.7 Z" fill="#008000"/>
<path d="M1284.7,1904.4 L1293.6,1909.1 L1284.7,1913.8 Z" fill="#008000"/>
<path d="M1295.0,1904.5 L1303.9,1909.2 L1295.0,1913.9 Z" fill="#008000"/>
<path d="M1305.3,1904.6 L1314.2,1909.3 L1305.3,1914.0 Z" fill="#008000"/>
<path d="M1315.6,1904.7 L1324.5,1909.4 L1315.6,1914.1 Z" fill="#008000"/>
<path d="M1325.9,1904.8 L1334.8,1909.5 L1325.9,1914.2 Z" fill="#008000"/>
<path d="M1336.1,1904.9 L1345.0,1909.6 L1336.1,1914.3 Z" fill="#008000"/>
<path d="M1346.4,1905.0 L1355.3,1909.7 L1346.4,1914.4 Z" fill="#008000"/>
<path d="M1356.7,1905.1 L1365.6,1909.8 L1356.7,1914.5 Z" fill="#008000"/>
<path d="M1367.0,1905.2 L1375.9,1909.9 L1367.0,1914.6 Z" fill="#008000"/>
<path d="M1377.3,1905.3 L1386.2,1910.0 L1377.3,1914.7 Z" fill="#008000"/>
<path d="M1387.6,1905.4 L1396.5,1910.1 L1387.6,1914.8 Z" fill="#008000"/>
<path d="M1397.9,1905.5 L1406.8,1910.2 L1397.9,1914.9 Z" fill="#008000"/>
<path d="M1408.2,1905.6 L1417.1,1910.3 L1408.2,1915.0 Z" fill="#008000"/>
<path d="M1418.5,1905.7 L1427.4,1910.4 L1418.5,1915.1 Z" fill="#008000"/>
<path d="M1428.8,1905.8 L1437.7,1910.5 L1428.8,1915.2 Z" fill="#008000"/>
<path d="M1439.0,1905.9 L1447.9,1910.6 L1439.0,1915.3 Z" fill="#008000"/>
<path d="M1449.3,1906.0 L1458.2,1910.7 L1449.3,1915.4 Z" fill="#008000"/>
<path d="M1459.6,1906.2 L1468.5,1910.9 L1459.6,1915.6 Z" fill="#008000"/>
<path d="M1469.9,1906.3 L1478.8,1911.0 L1469.9,1915.7 Z" fill="#008000"/>
<path d="M1480.2,1906.4 L1489.1,1911.1 L1480.2,1915.8 Z" fill="#008000"/>
<path d="M1490.5,1906.5 L1499.4,1911.2 L1490.5,1915.9 Z" fill="#008000"/>
<path d="M1500.8,1906.6 L1509.7,1911.3 L1500.8,1916.0 Z" fill="#008000"/>
<path d="M1511.1,1906.7 L1520.0,1911.4 L1511.1,1916.1 Z" fill="#008000"/>
<path d="M1521.4,1906.8 L1530.3,1911.5 L1521.4,1916.2 Z" fill="#008000"/>
<path d="M1531.7,1906.9 L1540.6,1911.6 L1531.7,1916.3 Z" fill="#008000"/>
<path d="M1541.9,1907.0 L1550.8,1911.7 L1541.9,1916.4 Z" fill="#008000"/>
<path d="M1552.2,1907.1 L1561.1,1911.8 L1552.2,1916.5 Z" fill="#008000"/>
<path d="M1562.5,1907.2 L1571.4,1911.9 L1562.5,1916.6 Z" fill="#008000"/>
<path d="M1572.8,1907.3 L1581.7,1912.0 L1572.8,1916.7 Z" fill="#008000"/>
<path d="M1583.1,1907.3 L1592.0,1912.0 L1583.1,1916.7 Z" fill="#008000"/>
<path d="M1593.4,1907.4 L1602.3,1912.1 L1593.4,1916.8 Z" fill="#008000"/>
<path d="M1603.7,1907.5 L1612.6,1912.2 L1603.7,1916.9 Z" fill="#008000"/>
<path d="M1614.0,1907.6 L1622.9,1912.3 L1614.0,1917.0 Z" fill="#008000"/>
<path d="M1624.3,1907.7 L1633.2,1912.4 L1624.3,1917.1 Z" fill="#008000"/>
<path d="M1634.6,1907.8 L1643.5,1912.5 L1634.6,1917.2 Z" fill="#008000"/>
<path d="M1644.8,1907.9 L1653.7,1912.6 L1644.8,1917.3 Z" fill="#008000"/>
</g>
<rect x="1180.9" y="1398.2" width="467.6" height="550.1" fill="none" stroke="#1c1c1c" stroke-width="2.0"/>
<line x1="1172.9" y1="1398.2" x2="1180.9" y2="1398.2" stroke="#1a1a1a" stroke-width="1.6"/>
<line x1="1172.9" y1="1948.3" x2="1180.9" y2="1948.3" stroke="#1a1a1a" stroke-width="1.6"/>
<line x1="1176.9" y1="1887.1" x2="1180.9" y2="1887.1" stroke="#1a1a1a" stroke-width="1.6"/>
<line x1="1172.9" y1="1825.9" x2="1180.9" y2="1825.9" stroke="#1a1a1a" stroke-width="1.6"/>
<line x1="1176.9" y1="1764.7" x2="1180.9" y2="1764.7" stroke="#1a1a1a" stroke-width="1.6"/>
<line x1="1172.9" y1="1703.5" x2="1180.9" y2="1703.5" stroke="#1a1a1a" stroke-width="1.6"/>
<line x1="1176.9" y1="1642.3" x2="1180.9" y2="1642.3" stroke="#1a1a1a" stroke-width="1.6"/>
<line x1="1172.9" y1="1581.2" x2="1180.9" y2="1581.2" stroke="#1a1a1a" stroke-width="1.6"/>
<line x1="1176.9" y1="1520.0" x2="1180.9" y2="1520.0" stroke="#1a1a1a" stroke-width="1.6"/>
<line x1="1172.9" y1="1458.8" x2="1180.9" y2="1458.8" stroke="#1a1a1a" stroke-width="1.6"/>
<text x="1166.8" y="1957.7" font-size="32.0" text-anchor="end" font-family="'Liberation Sans', Arial, sans-serif" >0</text>
<text x="1166.8" y="1835.3" font-size="32.0" text-anchor="end" font-family="'Liberation Sans', Arial, sans-serif" >2</text>
<text x="1166.8" y="1712.9" font-size="32.0" text-anchor="end" font-family="'Liberation Sans', Arial, sans-serif" >4</text>
<text x="1166.8" y="1590.6" font-size="32.0" text-anchor="end" font-family="'Liberation Sans', Arial, sans-serif" >6</text>
<text x="1166.8" y="1468.2" font-size="32.0" text-anchor="end" font-family="'Liberation Sans', Arial, sans-serif" >8</text>
<line x1="1180.7" y1="1948.3" x2="1180.7" y2="1952.3" stroke="#1a1a1a" stroke-width="1.6"/>
<line x1="1227.4" y1="1948.3" x2="1227.4" y2="1956.3" stroke="#1a1a1a" stroke-width="1.6"/>
<line x1="1274.2" y1="1948.3" x2="1274.2" y2="1952.3" stroke="#1a1a1a" stroke-width="1.6"/>
<line x1="1320.9" y1="1948.3" x2="1320.9" y2="1956.3" stroke="#1a1a1a" stroke-width="1.6"/>
<line x1="1367.7" y1="1948.3" x2="1367.7" y2="1952.3" stroke="#1a1a1a" stroke-width="1.6"/>
<line x1="1414.4" y1="1948.3" x2="1414.4" y2="1956.3" stroke="#1a1a1a" stroke-width="1.6"/>
<line x1="1461.2" y1="1948.3" x2="1461.2" y2="1952.3" stroke="#1a1a1a" stroke-width="1.6"/>
<line x1="1507.9" y1="1948.3" x2="1507.9" y2="1956.3" stroke="#1a1a1a" stroke-width="1.6"/>
<line x1="1554.7" y1="1948.3" x2="1554.7" y2="1952.3" stroke="#1a1a1a" stroke-width="1.6"/>
<line x1="1601.4" y1="1948.3" x2="1601.4" y2="1956.3" stroke="#1a1a1a" stroke-width="1.6"/>
<line x1="1648.2" y1="1948.3" x2="1648.2" y2="1952.3" stroke="#1a1a1a" stroke-width="1.6"/>
<text x="1227.9" y="1986.7" font-size="31.5" text-anchor="middle" font-family="'Liberation Sans', Arial, sans-serif" >-0.02</text>
<text x="1321.4" y="1986.7" font-size="31.5" text-anchor="middle" font-family="'Liberation Sans', Arial, sans-serif" >-0.01</text>
<text x="1414.9" y="1986.7" font-size="31.5" text-anchor="middle" font-family="'Liberation Sans', Arial, sans-serif" >0</text>
<text x="1508.4" y="1986.7" font-size="31.5" text-anchor="middle" font-family="'Liberation Sans', Arial, sans-serif" >0.01</text>
<text x="1601.9" y="1986.7" font-size="31.5" text-anchor="middle" font-family="'Liberation Sans', Arial, sans-serif" >0.02</text>
<text x="1415" y="2023.5" font-size="31.4" text-anchor="middle" font-family="'Liberation Sans', Arial, sans-serif"><tspan font-style="italic">E</tspan> - <tspan font-style="italic">E</tspan><tspan font-size="19" dy="6">F</tspan><tspan dy="-6"> (eV)</tspan></text>
<text transform="translate(1123.5,1672) rotate(-90)" x="0" y="0" font-size="32" text-anchor="middle" font-family="'Liberation Sans', Arial, sans-serif">&#963;/&#964; &#215;10<tspan font-size="19" dy="-12">18</tspan><tspan dy="12"> (S m</tspan><tspan font-size="19" dy="-12">-1</tspan><tspan dy="12"> s</tspan><tspan font-size="19" dy="-12">-1</tspan><tspan dy="12">)</tspan></text>
<line x1="1192.2" y1="1588.5" x2="1243.1" y2="1588.5" stroke="#ff5555" stroke-width="1"/>
<circle cx="1217.4" cy="1588.5" r="5" fill="url(#sR)"/>
<text x="1251.6" y="1598.1" font-size="24.6" font-family="'Liberation Sans', Arial, sans-serif">Ni<tspan font-size="18.2" dy="5.0">3</tspan><tspan dy="-5.0">(HATI_C1)</tspan><tspan font-size="18.2" dy="5.0">2</tspan><tspan dy="-5.0">-zz</tspan></text>
<line x1="1446.8" y1="1588.5" x2="1497.7" y2="1588.5" stroke="#ff5555" stroke-width="1"/>
<path d="M1467.5,1582.5 L1479.5,1588.5 L1467.5,1594.5 Z" fill="#ff0000"/>
<text x="1504.3" y="1598.1" font-size="25.0" text-anchor="start" font-family="'Liberation Sans', Arial, sans-serif" >-yy</text>
<line x1="1541.8" y1="1588.5" x2="1592.7" y2="1588.5" stroke="#ff5555" stroke-width="1"/>
<rect x="1563.0" y="1584.5" width="8" height="8" fill="#fff" stroke="#ff0000" stroke-width="1.4"/>
<text x="1599.3" y="1598.1" font-size="25.0" text-anchor="start" font-family="'Liberation Sans', Arial, sans-serif" >-xx</text>
<line x1="1192.2" y1="1621.8" x2="1243.1" y2="1621.8" stroke="#5555ff" stroke-width="1"/>
<circle cx="1217.4" cy="1621.8" r="5" fill="url(#sB)"/>
<text x="1251.6" y="1631.4" font-size="24.6" font-family="'Liberation Sans', Arial, sans-serif">Ni<tspan font-size="18.2" dy="5.0">3</tspan><tspan dy="-5.0">(HATI_C3)</tspan><tspan font-size="18.2" dy="5.0">2</tspan><tspan dy="-5.0">-zz</tspan></text>
<line x1="1446.8" y1="1621.8" x2="1497.7" y2="1621.8" stroke="#5555ff" stroke-width="1"/>
<path d="M1467.5,1615.8 L1479.5,1621.8 L1467.5,1627.8 Z" fill="#0000ff"/>
<text x="1504.3" y="1631.4" font-size="25.0" text-anchor="start" font-family="'Liberation Sans', Arial, sans-serif" >-yy</text>
<line x1="1541.8" y1="1621.8" x2="1592.7" y2="1621.8" stroke="#5555ff" stroke-width="1"/>
<rect x="1563.0" y="1617.8" width="8" height="8" fill="#fff" stroke="#0000ff" stroke-width="1.4"/>
<text x="1599.3" y="1631.4" font-size="25.0" text-anchor="start" font-family="'Liberation Sans', Arial, sans-serif" >-xx</text>
<line x1="1192.2" y1="1655.3" x2="1243.1" y2="1655.3" stroke="#339933" stroke-width="1"/>
<circle cx="1217.4" cy="1655.3" r="5" fill="url(#sG)"/>
<text x="1251.6" y="1664.9" font-size="24.6" font-family="'Liberation Sans', Arial, sans-serif">Ni<tspan font-size="18.2" dy="5.0">3</tspan><tspan dy="-5.0">(HATI_C4)</tspan><tspan font-size="18.2" dy="5.0">2</tspan><tspan dy="-5.0">-zz</tspan></text>
<line x1="1446.8" y1="1655.3" x2="1497.7" y2="1655.3" stroke="#339933" stroke-width="1"/>
<path d="M1467.5,1649.3 L1479.5,1655.3 L1467.5,1661.3 Z" fill="#008000"/>
<text x="1504.3" y="1664.9" font-size="25.0" text-anchor="start" font-family="'Liberation Sans', Arial, sans-serif" >-yy</text>
<line x1="1541.8" y1="1655.3" x2="1592.7" y2="1655.3" stroke="#339933" stroke-width="1"/>
<rect x="1563.0" y="1651.3" width="8" height="8" fill="#fff" stroke="#008000" stroke-width="1.4"/>
<text x="1599.3" y="1664.9" font-size="25.0" text-anchor="start" font-family="'Liberation Sans', Arial, sans-serif" >-xx</text>
<rect x="1680.9" y="1399.3" width="238.8" height="543.2" fill="none" stroke="#1c1c1c" stroke-width="2.0"/>
<line x1="1680.9" y1="1942.5" x2="1684.9" y2="1942.5" stroke="#1a1a1a" stroke-width="1.5"/>
<line x1="1915.7" y1="1942.5" x2="1919.7" y2="1942.5" stroke="#1a1a1a" stroke-width="1.5"/>
<line x1="1680.9" y1="1882.2" x2="1683.4" y2="1882.2" stroke="#1a1a1a" stroke-width="1.5"/>
<line x1="1917.2" y1="1882.2" x2="1919.7" y2="1882.2" stroke="#1a1a1a" stroke-width="1.5"/>
<line x1="1680.9" y1="1821.8" x2="1684.9" y2="1821.8" stroke="#1a1a1a" stroke-width="1.5"/>
<line x1="1915.7" y1="1821.8" x2="1919.7" y2="1821.8" stroke="#1a1a1a" stroke-width="1.5"/>
<line x1="1680.9" y1="1761.5" x2="1683.4" y2="1761.5" stroke="#1a1a1a" stroke-width="1.5"/>
<line x1="1917.2" y1="1761.5" x2="1919.7" y2="1761.5" stroke="#1a1a1a" stroke-width="1.5"/>
<line x1="1680.9" y1="1701.1" x2="1684.9" y2="1701.1" stroke="#1a1a1a" stroke-width="1.5"/>
<line x1="1915.7" y1="1701.1" x2="1919.7" y2="1701.1" stroke="#1a1a1a" stroke-width="1.5"/>
<line x1="1680.9" y1="1640.8" x2="1683.4" y2="1640.8" stroke="#1a1a1a" stroke-width="1.5"/>
<line x1="1917.2" y1="1640.8" x2="1919.7" y2="1640.8" stroke="#1a1a1a" stroke-width="1.5"/>
<line x1="1680.9" y1="1580.4" x2="1684.9" y2="1580.4" stroke="#1a1a1a" stroke-width="1.5"/>
<line x1="1915.7" y1="1580.4" x2="1919.7" y2="1580.4" stroke="#1a1a1a" stroke-width="1.5"/>
<line x1="1680.9" y1="1520.0" x2="1683.4" y2="1520.0" stroke="#1a1a1a" stroke-width="1.5"/>
<line x1="1917.2" y1="1520.0" x2="1919.7" y2="1520.0" stroke="#1a1a1a" stroke-width="1.5"/>
<line x1="1680.9" y1="1459.7" x2="1684.9" y2="1459.7" stroke="#1a1a1a" stroke-width="1.5"/>
<line x1="1915.7" y1="1459.7" x2="1919.7" y2="1459.7" stroke="#1a1a1a" stroke-width="1.5"/>
<line x1="1720.6" y1="1935.0" x2="1720.6" y2="1942.5" stroke="#1a1a1a" stroke-width="1.5"/>
<line x1="1720.6" y1="1399.3" x2="1720.6" y2="1403.3" stroke="#1a1a1a" stroke-width="1.5"/>
<line x1="1800.2" y1="1935.0" x2="1800.2" y2="1942.5" stroke="#1a1a1a" stroke-width="1.5"/>
<line x1="1800.2" y1="1399.3" x2="1800.2" y2="1403.3" stroke="#1a1a1a" stroke-width="1.5"/>
<line x1="1879.7" y1="1935.0" x2="1879.7" y2="1942.5" stroke="#1a1a1a" stroke-width="1.5"/>
<line x1="1879.7" y1="1399.3" x2="1879.7" y2="1403.3" stroke="#1a1a1a" stroke-width="1.5"/>
<text x="1922.2" y="1952.1" font-size="31.0" text-anchor="start" font-family="'Liberation Sans', Arial, sans-serif" >0</text>
<text x="1922.2" y="1831.4" font-size="31.0" text-anchor="start" font-family="'Liberation Sans', Arial, sans-serif" >2</text>
<text x="1922.2" y="1710.7" font-size="31.0" text-anchor="start" font-family="'Liberation Sans', Arial, sans-serif" >4</text>
<text x="1922.2" y="1590.0" font-size="31.0" text-anchor="start" font-family="'Liberation Sans', Arial, sans-serif" >6</text>
<text x="1922.2" y="1469.3" font-size="31.0" text-anchor="start" font-family="'Liberation Sans', Arial, sans-serif" >8</text>
<circle cx="1720.6" cy="1875.5" r="9.6" fill="url(#sR)"/>
<circle cx="1800.2" cy="1586.8" r="9.6" fill="url(#sB)"/>
<circle cx="1879.6" cy="1513.9" r="9.6" fill="url(#sG)"/>
<text x="1750.5" y="1552.9" font-size="26.3" font-family="'Liberation Sans', Arial, sans-serif">Ni<tspan font-size="17.0" dy="5.2">3</tspan><tspan dy="-5.2">(HATI_C4)</tspan><tspan font-size="17.0" dy="5.2">2</tspan><tspan dy="-5.2"></tspan></text>
<text x="1714.0" y="1632.4" font-size="26.3" font-family="'Liberation Sans', Arial, sans-serif">Ni<tspan font-size="17.0" dy="5.2">3</tspan><tspan dy="-5.2">(HATI_C3)</tspan><tspan font-size="17.0" dy="5.2">2</tspan><tspan dy="-5.2"></tspan></text>
<text x="1686.5" y="1914.5" font-size="26.3" font-family="'Liberation Sans', Arial, sans-serif">Ni<tspan font-size="17.0" dy="5.2">3</tspan><tspan dy="-5.2">(HATI_C1)</tspan><tspan font-size="17.0" dy="5.2">2</tspan><tspan dy="-5.2"></tspan></text>
<text transform="translate(1970.7,1670.2) rotate(-90)" x="0" y="0" font-size="30" text-anchor="middle" font-family="'Liberation Sans', Arial, sans-serif">Effective mass (m<tspan font-size="19" dy="6">e</tspan><tspan dy="-6">)</tspan></text>
<text transform="translate(-0.8,43.4) scale(0.880,1)" x="0" y="0" font-size="63" font-weight="bold" font-family="'Liberation Sans', Arial, sans-serif">a</text>
<text transform="translate(663.9,42.9) scale(1.000,1)" x="0" y="0" font-size="60" font-weight="bold" font-family="'Liberation Sans', Arial, sans-serif">b</text>
<text transform="translate(1333.2,43.4) scale(0.960,1)" x="0" y="0" font-size="63" font-weight="bold" font-family="'Liberation Sans', Arial, sans-serif">c</text>
<text transform="translate(-2.0,727.5) scale(1.000,1)" x="0" y="0" font-size="60" font-weight="bold" font-family="'Liberation Sans', Arial, sans-serif">d</text>
<text transform="translate(1023.0,728.0) scale(1.000,1)" x="0" y="0" font-size="61" font-weight="bold" font-family="'Liberation Sans', Arial, sans-serif">e</text>
<text transform="translate(-1.3,1421.0) scale(1.000,1)" x="0" y="0" font-size="60" font-weight="bold" font-family="'Liberation Sans', Arial, sans-serif">f</text>
<text transform="translate(1025.0,1422.0) scale(1.000,1)" x="0" y="0" font-size="60" font-weight="bold" font-family="'Liberation Sans', Arial, sans-serif">g</text>
</svg>
</body></html>
